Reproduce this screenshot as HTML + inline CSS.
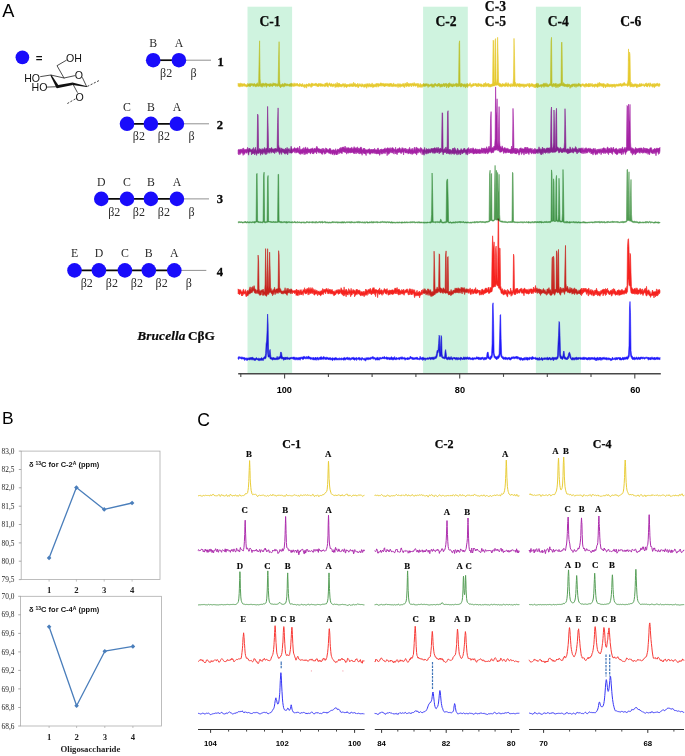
<!DOCTYPE html>
<html lang="en"><head><meta charset="utf-8"><title>NMR figure</title>
<style>html,body{margin:0;padding:0;background:#fff;overflow:hidden;}svg{display:block;}</style>
</head><body>
<svg width="685" height="756" viewBox="0 0 685 756">
<rect x="0" y="0" width="685" height="756" fill="#ffffff"/>
<g id="panelA">
<text x="2.2" y="17.2" font-family='"Liberation Sans","DejaVu Sans",sans-serif' font-size="18.2" font-weight="normal" text-anchor="start" fill="#000"  >A</text>
<circle cx="22.4" cy="57.3" r="6.85" fill="#190cfb"/>
<text x="39.0" y="61.6" font-family='"Liberation Sans","DejaVu Sans",sans-serif' font-size="11.5" font-weight="bold" text-anchor="middle" fill="#111"  >=</text>
<g stroke="#111" stroke-width="0.75" fill="none" stroke-linecap="round">
<path d="M40.6 76.6 L50.8 75 L64 78 L74.6 75.7"/>
<path d="M82.4 77.6 L86.7 86.7"/>
<path d="M64 78 L57 65.7 L66.3 60.3"/>
<path d="M47.2 87.1 L57 86.7"/>
<path d="M72.7 83.7 L77.3 92.3"/>
</g>
<g stroke="#111" stroke-width="0.8" fill="none" stroke-linecap="butt" stroke-dasharray="2.1 1.5">
<path d="M75.4 98.9 L66.2 104.2"/>
<path d="M87.4 86.4 L99.8 80.2"/>
</g>
<path d="M50.3 75.2 L51.3 74.7 L58.9 86.0 L56.6 88.2 Z" fill="#111"/>
<path d="M56.8 85.3 L72.7 82.4 L72.9 85.1 L57.0 88.2 Z" fill="#111"/>
<path d="M72.5 82.4 L87.0 86.3 L86.6 87.1 L72.7 85.1 Z" fill="#111"/>
<text x="66.0" y="62.2" font-family='"Liberation Sans","DejaVu Sans",sans-serif' font-size="10.6" font-weight="normal" text-anchor="start" fill="#111"  >OH</text>
<text x="24.2" y="82.3" font-family='"Liberation Sans","DejaVu Sans",sans-serif' font-size="10.6" font-weight="normal" text-anchor="start" fill="#111"  >HO</text>
<text x="31.6" y="91.4" font-family='"Liberation Sans","DejaVu Sans",sans-serif' font-size="10.6" font-weight="normal" text-anchor="start" fill="#111"  >HO</text>
<text x="78.8" y="78.8" font-family='"Liberation Sans","DejaVu Sans",sans-serif' font-size="10.6" font-weight="normal" text-anchor="middle" fill="#111"  >O</text>
<text x="79.5" y="100.7" font-family='"Liberation Sans","DejaVu Sans",sans-serif' font-size="10.6" font-weight="normal" text-anchor="middle" fill="#111"  >O</text>
<line x1="153.2" y1="60.2" x2="178.9" y2="60.2" stroke="#0a0a0a" stroke-width="1.7"/>
<line x1="178.9" y1="60.2" x2="211.0" y2="60.2" stroke="#444" stroke-width="0.6"/>
<circle cx="153.2" cy="60.2" r="7.3" fill="#190cfb"/>
<text x="153.2" y="46.9" font-family='"Liberation Serif","DejaVu Serif",serif' font-size="11.8" font-weight="normal" text-anchor="middle" fill="#2a2a2a"  >B</text>
<circle cx="178.9" cy="60.2" r="7.3" fill="#190cfb"/>
<text x="178.9" y="46.9" font-family='"Liberation Serif","DejaVu Serif",serif' font-size="11.8" font-weight="normal" text-anchor="middle" fill="#2a2a2a"  >A</text>
<text x="166.1" y="76.8" font-family='"Liberation Serif","DejaVu Serif",serif' font-size="12.0" font-weight="normal" text-anchor="middle" fill="#2c2c2c"  >β2</text>
<text x="193.5" y="76.8" font-family='"Liberation Serif","DejaVu Serif",serif' font-size="12.0" font-weight="normal" text-anchor="middle" fill="#2c2c2c"  >β</text>
<text x="220.6" y="65.8" font-family='"Liberation Serif","DejaVu Serif",serif' font-size="12.6" font-weight="bold" text-anchor="middle" fill="#0a0a0a"  stroke="#0a0a0a" stroke-width="0.3">1</text>
<line x1="127.0" y1="123.8" x2="176.9" y2="123.8" stroke="#0a0a0a" stroke-width="1.7"/>
<line x1="176.9" y1="123.8" x2="209.0" y2="123.8" stroke="#444" stroke-width="0.6"/>
<circle cx="127.0" cy="123.8" r="7.3" fill="#190cfb"/>
<text x="127.0" y="110.5" font-family='"Liberation Serif","DejaVu Serif",serif' font-size="11.8" font-weight="normal" text-anchor="middle" fill="#2a2a2a"  >C</text>
<circle cx="150.9" cy="123.8" r="7.3" fill="#190cfb"/>
<text x="150.9" y="110.5" font-family='"Liberation Serif","DejaVu Serif",serif' font-size="11.8" font-weight="normal" text-anchor="middle" fill="#2a2a2a"  >B</text>
<circle cx="176.9" cy="123.8" r="7.3" fill="#190cfb"/>
<text x="176.9" y="110.5" font-family='"Liberation Serif","DejaVu Serif",serif' font-size="11.8" font-weight="normal" text-anchor="middle" fill="#2a2a2a"  >A</text>
<text x="138.9" y="140.4" font-family='"Liberation Serif","DejaVu Serif",serif' font-size="12.0" font-weight="normal" text-anchor="middle" fill="#2c2c2c"  >β2</text>
<text x="163.9" y="140.4" font-family='"Liberation Serif","DejaVu Serif",serif' font-size="12.0" font-weight="normal" text-anchor="middle" fill="#2c2c2c"  >β2</text>
<text x="191.5" y="140.4" font-family='"Liberation Serif","DejaVu Serif",serif' font-size="12.0" font-weight="normal" text-anchor="middle" fill="#2c2c2c"  >β</text>
<text x="219.8" y="129.4" font-family='"Liberation Serif","DejaVu Serif",serif' font-size="12.6" font-weight="bold" text-anchor="middle" fill="#0a0a0a"  stroke="#0a0a0a" stroke-width="0.3">2</text>
<line x1="101.3" y1="198.9" x2="176.9" y2="198.9" stroke="#0a0a0a" stroke-width="1.7"/>
<line x1="176.9" y1="198.9" x2="209.0" y2="198.9" stroke="#444" stroke-width="0.6"/>
<circle cx="101.3" cy="198.9" r="7.3" fill="#190cfb"/>
<text x="101.3" y="185.6" font-family='"Liberation Serif","DejaVu Serif",serif' font-size="11.8" font-weight="normal" text-anchor="middle" fill="#2a2a2a"  >D</text>
<circle cx="127.0" cy="198.9" r="7.3" fill="#190cfb"/>
<text x="127.0" y="185.6" font-family='"Liberation Serif","DejaVu Serif",serif' font-size="11.8" font-weight="normal" text-anchor="middle" fill="#2a2a2a"  >C</text>
<circle cx="150.9" cy="198.9" r="7.3" fill="#190cfb"/>
<text x="150.9" y="185.6" font-family='"Liberation Serif","DejaVu Serif",serif' font-size="11.8" font-weight="normal" text-anchor="middle" fill="#2a2a2a"  >B</text>
<circle cx="176.9" cy="198.9" r="7.3" fill="#190cfb"/>
<text x="176.9" y="185.6" font-family='"Liberation Serif","DejaVu Serif",serif' font-size="11.8" font-weight="normal" text-anchor="middle" fill="#2a2a2a"  >A</text>
<text x="114.2" y="215.5" font-family='"Liberation Serif","DejaVu Serif",serif' font-size="12.0" font-weight="normal" text-anchor="middle" fill="#2c2c2c"  >β2</text>
<text x="138.9" y="215.5" font-family='"Liberation Serif","DejaVu Serif",serif' font-size="12.0" font-weight="normal" text-anchor="middle" fill="#2c2c2c"  >β2</text>
<text x="163.9" y="215.5" font-family='"Liberation Serif","DejaVu Serif",serif' font-size="12.0" font-weight="normal" text-anchor="middle" fill="#2c2c2c"  >β2</text>
<text x="191.5" y="215.5" font-family='"Liberation Serif","DejaVu Serif",serif' font-size="12.0" font-weight="normal" text-anchor="middle" fill="#2c2c2c"  >β</text>
<text x="219.9" y="203.3" font-family='"Liberation Serif","DejaVu Serif",serif' font-size="12.6" font-weight="bold" text-anchor="middle" fill="#0a0a0a"  stroke="#0a0a0a" stroke-width="0.3">3</text>
<line x1="74.5" y1="270.4" x2="174.3" y2="270.4" stroke="#0a0a0a" stroke-width="1.7"/>
<line x1="174.3" y1="270.4" x2="206.3" y2="270.4" stroke="#444" stroke-width="0.6"/>
<circle cx="74.5" cy="270.4" r="7.3" fill="#190cfb"/>
<text x="74.5" y="257.1" font-family='"Liberation Serif","DejaVu Serif",serif' font-size="11.8" font-weight="normal" text-anchor="middle" fill="#2a2a2a"  >E</text>
<circle cx="98.9" cy="270.4" r="7.3" fill="#190cfb"/>
<text x="98.9" y="257.1" font-family='"Liberation Serif","DejaVu Serif",serif' font-size="11.8" font-weight="normal" text-anchor="middle" fill="#2a2a2a"  >D</text>
<circle cx="124.9" cy="270.4" r="7.3" fill="#190cfb"/>
<text x="124.9" y="257.1" font-family='"Liberation Serif","DejaVu Serif",serif' font-size="11.8" font-weight="normal" text-anchor="middle" fill="#2a2a2a"  >C</text>
<circle cx="148.8" cy="270.4" r="7.3" fill="#190cfb"/>
<text x="148.8" y="257.1" font-family='"Liberation Serif","DejaVu Serif",serif' font-size="11.8" font-weight="normal" text-anchor="middle" fill="#2a2a2a"  >B</text>
<circle cx="174.3" cy="270.4" r="7.3" fill="#190cfb"/>
<text x="174.3" y="257.1" font-family='"Liberation Serif","DejaVu Serif",serif' font-size="11.8" font-weight="normal" text-anchor="middle" fill="#2a2a2a"  >A</text>
<text x="86.7" y="287.0" font-family='"Liberation Serif","DejaVu Serif",serif' font-size="12.0" font-weight="normal" text-anchor="middle" fill="#2c2c2c"  >β2</text>
<text x="111.9" y="287.0" font-family='"Liberation Serif","DejaVu Serif",serif' font-size="12.0" font-weight="normal" text-anchor="middle" fill="#2c2c2c"  >β2</text>
<text x="136.9" y="287.0" font-family='"Liberation Serif","DejaVu Serif",serif' font-size="12.0" font-weight="normal" text-anchor="middle" fill="#2c2c2c"  >β2</text>
<text x="161.6" y="287.0" font-family='"Liberation Serif","DejaVu Serif",serif' font-size="12.0" font-weight="normal" text-anchor="middle" fill="#2c2c2c"  >β2</text>
<text x="188.9" y="287.0" font-family='"Liberation Serif","DejaVu Serif",serif' font-size="12.0" font-weight="normal" text-anchor="middle" fill="#2c2c2c"  >β</text>
<text x="220.0" y="276.0" font-family='"Liberation Serif","DejaVu Serif",serif' font-size="12.6" font-weight="bold" text-anchor="middle" fill="#0a0a0a"  stroke="#0a0a0a" stroke-width="0.3">4</text>
<text x="137.2" y="340.2" font-family='"Liberation Serif","DejaVu Serif",serif' font-size="13.3" font-weight="bold" fill="#0a0a0a" stroke="#0a0a0a" stroke-width="0.2"><tspan font-style="italic" letter-spacing="0.15">Brucella</tspan><tspan dx="2.2">CβG</tspan></text>
<rect x="247.5" y="6.7" width="44.6" height="366.5" fill="#cff3df"/>
<rect x="423.1" y="6.7" width="44.7" height="366.5" fill="#cff3df"/>
<rect x="535.9" y="6.7" width="45.0" height="366.5" fill="#cff3df"/>
<text x="270.0" y="26.3" font-family='"Liberation Serif","DejaVu Serif",serif' font-size="13.6" font-weight="bold" text-anchor="middle" fill="#0a0a0a"  stroke="#0a0a0a" stroke-width="0.25">C-1</text>
<text x="446.1" y="26.3" font-family='"Liberation Serif","DejaVu Serif",serif' font-size="13.6" font-weight="bold" text-anchor="middle" fill="#0a0a0a"  stroke="#0a0a0a" stroke-width="0.25">C-2</text>
<text x="495.4" y="10.6" font-family='"Liberation Serif","DejaVu Serif",serif' font-size="13.6" font-weight="bold" text-anchor="middle" fill="#0a0a0a"  stroke="#0a0a0a" stroke-width="0.25">C-3</text>
<text x="495.4" y="26.3" font-family='"Liberation Serif","DejaVu Serif",serif' font-size="13.6" font-weight="bold" text-anchor="middle" fill="#0a0a0a"  stroke="#0a0a0a" stroke-width="0.25">C-5</text>
<text x="558.3" y="26.3" font-family='"Liberation Serif","DejaVu Serif",serif' font-size="13.6" font-weight="bold" text-anchor="middle" fill="#0a0a0a"  stroke="#0a0a0a" stroke-width="0.25">C-4</text>
<text x="630.8" y="26.3" font-family='"Liberation Serif","DejaVu Serif",serif' font-size="13.6" font-weight="bold" text-anchor="middle" fill="#0a0a0a"  stroke="#0a0a0a" stroke-width="0.25">C-6</text>
<polygon points="238.1,83.4 238.6,84.1 239.1,83.2 239.6,84.1 240.1,83.6 240.6,83.2 241.1,83.5 241.6,83.5 242.1,83.7 242.6,83.8 243.1,84.1 243.6,83.9 244.1,83.3 244.6,83.9 245.1,83.9 245.6,84.6 246.1,84.4 246.6,84.8 247.1,85.2 247.6,83.6 248.1,83.5 248.6,84.3 249.1,84.0 249.6,84.0 250.1,83.2 250.6,84.1 251.1,84.3 251.6,83.4 252.1,84.1 252.6,83.7 253.1,83.7 253.6,83.9 254.1,83.6 254.6,83.5 255.1,84.0 255.6,84.4 256.1,84.0 256.6,83.7 257.1,84.0 257.6,82.7 258.1,84.2 258.6,84.3 259.1,59.1 259.6,40.8 260.1,78.8 260.6,83.8 261.1,83.4 261.6,83.8 262.1,84.1 262.6,83.2 263.1,83.3 263.6,83.3 264.1,84.1 264.6,83.7 265.1,84.2 265.6,82.8 266.1,83.8 266.6,83.3 267.1,84.0 267.6,83.9 268.1,83.9 268.6,84.0 269.1,83.7 269.6,83.9 270.1,83.7 270.6,83.5 271.1,84.4 271.6,83.7 272.1,84.1 272.6,84.3 273.1,82.7 273.6,83.8 274.1,83.3 274.6,83.5 275.1,83.3 275.6,83.7 276.1,83.4 276.6,84.3 277.1,83.8 277.6,84.1 278.1,84.4 278.6,59.4 279.1,41.7 279.6,79.5 280.1,84.8 280.6,84.5 281.1,84.4 281.6,84.4 282.1,84.2 282.6,83.5 283.1,84.1 283.6,84.2 284.1,84.2 284.6,83.1 285.1,83.4 285.6,83.5 286.1,84.3 286.6,83.8 287.1,84.0 287.6,84.1 288.1,84.3 288.6,84.4 289.1,84.1 289.6,84.1 290.1,83.7 290.6,83.5 291.1,83.4 291.6,83.1 292.1,84.1 292.6,83.8 293.1,83.6 293.6,84.4 294.1,82.8 294.6,83.7 295.1,84.4 295.6,83.4 296.1,83.5 296.6,83.8 297.1,83.3 297.6,83.6 298.1,84.0 298.6,84.7 299.1,84.4 299.6,83.3 300.1,83.8 300.6,83.9 301.1,84.7 301.6,84.1 302.1,83.9 302.6,83.4 303.1,85.5 303.6,84.8 304.1,84.8 304.6,84.4 305.1,84.6 305.6,85.5 306.1,84.0 306.6,84.1 307.1,84.3 307.6,84.6 308.1,84.5 308.6,83.4 309.1,84.0 309.6,83.8 310.1,83.8 310.6,84.5 311.1,83.9 311.6,82.9 312.1,83.8 312.6,83.2 313.1,84.6 313.6,83.7 314.1,84.0 314.6,84.1 315.1,83.3 315.6,83.4 316.1,83.3 316.6,83.5 317.1,84.3 317.6,84.1 318.1,83.9 318.6,83.6 319.1,83.1 319.6,84.2 320.1,83.6 320.6,83.8 321.1,83.6 321.6,84.1 322.1,83.7 322.6,84.3 323.1,84.0 323.6,84.4 324.1,85.0 324.6,84.2 325.1,83.0 325.6,83.4 326.1,82.9 326.6,83.3 327.1,82.6 327.6,83.6 328.1,83.6 328.6,84.4 329.1,83.2 329.6,82.8 330.1,83.6 330.6,84.3 331.1,83.6 331.6,83.4 332.1,83.9 332.6,84.5 333.1,83.8 333.6,84.1 334.1,84.5 334.6,84.1 335.1,84.4 335.6,83.4 336.1,83.9 336.6,84.8 337.1,82.3 337.6,84.8 338.1,83.0 338.6,84.5 339.1,83.2 339.6,83.5 340.1,83.9 340.6,84.6 341.1,84.1 341.6,84.7 342.1,84.5 342.6,83.8 343.1,83.4 343.6,84.1 344.1,84.3 344.6,84.3 345.1,83.3 345.6,84.7 346.1,84.2 346.6,84.7 347.1,84.2 347.6,85.1 348.1,84.2 348.6,84.9 349.1,84.4 349.6,83.7 350.1,84.7 350.6,83.7 351.1,83.8 351.6,83.8 352.1,84.7 352.6,83.6 353.1,84.7 353.6,82.2 354.1,84.2 354.6,83.6 355.1,83.2 355.6,84.2 356.1,84.6 356.6,84.1 357.1,85.2 357.6,83.2 358.1,84.5 358.6,85.0 359.1,83.5 359.6,84.3 360.1,84.9 360.6,84.3 361.1,83.6 361.6,85.6 362.1,84.5 362.6,83.8 363.1,84.2 363.6,85.9 364.1,84.1 364.6,84.4 365.1,84.2 365.6,84.5 366.1,83.6 366.6,84.9 367.1,83.7 367.6,84.0 368.1,83.5 368.6,84.4 369.1,84.5 369.6,83.4 370.1,84.5 370.6,84.1 371.1,84.6 371.6,84.3 372.1,82.9 372.6,84.2 373.1,84.7 373.6,84.2 374.1,84.3 374.6,85.2 375.1,83.8 375.6,85.2 376.1,83.3 376.6,83.7 377.1,83.6 377.6,83.6 378.1,83.7 378.6,83.6 379.1,84.2 379.6,84.1 380.1,83.3 380.6,82.8 381.1,83.2 381.6,83.1 382.1,83.8 382.6,83.5 383.1,83.1 383.6,83.7 384.1,83.7 384.6,83.8 385.1,84.1 385.6,83.7 386.1,83.1 386.6,84.5 387.1,83.8 387.6,83.7 388.1,83.5 388.6,83.9 389.1,83.7 389.6,83.7 390.1,83.8 390.6,83.0 391.1,84.0 391.6,83.5 392.1,83.7 392.6,84.5 393.1,84.5 393.6,82.9 394.1,83.9 394.6,84.8 395.1,84.2 395.6,84.1 396.1,84.7 396.6,84.3 397.1,84.4 397.6,84.0 398.1,83.4 398.6,84.6 399.1,84.6 399.6,83.7 400.1,83.8 400.6,83.9 401.1,85.0 401.6,84.3 402.1,84.7 402.6,83.6 403.1,84.3 403.6,83.4 404.1,84.6 404.6,84.2 405.1,82.9 405.6,83.7 406.1,84.0 406.6,83.3 407.1,82.0 407.6,83.6 408.1,84.1 408.6,83.2 409.1,83.9 409.6,83.7 410.1,83.6 410.6,83.6 411.1,83.6 411.6,83.7 412.1,83.3 412.6,83.2 413.1,83.8 413.6,83.8 414.1,82.4 414.6,83.6 415.1,83.8 415.6,83.7 416.1,84.1 416.6,83.9 417.1,83.1 417.6,84.6 418.1,83.4 418.6,83.8 419.1,84.9 419.6,85.2 420.1,83.3 420.6,83.8 421.1,85.0 421.6,84.4 422.1,84.3 422.6,84.5 423.1,83.9 423.6,83.2 424.1,84.0 424.6,84.0 425.1,84.1 425.6,83.7 426.1,84.0 426.6,83.8 427.1,83.4 427.6,84.4 428.1,83.9 428.6,84.3 429.1,84.4 429.6,84.9 430.1,84.5 430.6,84.3 431.1,83.7 431.6,83.9 432.1,84.4 432.6,84.1 433.1,84.4 433.6,84.4 434.1,84.2 434.6,83.6 435.1,83.8 435.6,83.4 436.1,84.4 436.6,84.8 437.1,83.9 437.6,84.0 438.1,84.7 438.6,83.0 439.1,83.6 439.6,83.7 440.1,84.2 440.6,84.3 441.1,84.0 441.6,84.2 442.1,83.9 442.6,84.9 443.1,83.8 443.6,83.4 444.1,83.4 444.6,84.0 445.1,84.2 445.6,83.2 446.1,83.8 446.6,83.5 447.1,83.9 447.6,84.3 448.1,84.2 448.6,83.2 449.1,83.8 449.6,82.7 450.1,83.9 450.6,83.8 451.1,84.2 451.6,83.8 452.1,84.5 452.6,84.4 453.1,83.5 453.6,84.2 454.1,84.3 454.6,84.2 455.1,84.2 455.6,83.5 456.1,83.6 456.6,83.2 457.1,83.7 457.6,83.9 458.1,83.8 458.6,83.1 459.1,43.7 459.6,40.8 460.1,83.7 460.6,84.0 461.1,83.1 461.6,83.5 462.1,84.3 462.6,83.7 463.1,84.2 463.6,84.4 464.1,83.7 464.6,84.1 465.1,84.7 465.6,84.5 466.1,83.6 466.6,84.3 467.1,84.6 467.6,83.3 468.1,84.2 468.6,84.5 469.1,84.0 469.6,83.5 470.1,82.7 470.6,84.2 471.1,85.1 471.6,84.6 472.1,84.7 472.6,83.8 473.1,83.9 473.6,83.2 474.1,84.9 474.6,83.9 475.1,83.0 475.6,83.7 476.1,83.6 476.6,83.8 477.1,84.5 477.6,83.7 478.1,83.2 478.6,83.4 479.1,83.6 479.6,84.2 480.1,83.6 480.6,84.6 481.1,84.0 481.6,84.1 482.1,84.5 482.6,85.0 483.1,84.4 483.6,84.0 484.1,83.0 484.6,83.9 485.1,84.2 485.6,82.4 486.1,84.1 486.6,83.8 487.1,84.1 487.6,83.5 488.1,84.5 488.6,83.2 489.1,84.1 489.6,84.3 490.1,84.3 490.6,84.5 491.1,84.0 491.6,84.3 492.1,83.6 492.6,83.4 493.1,40.2 493.6,40.8 494.1,82.5 494.6,81.8 495.1,40.0 495.6,38.6 496.1,82.5 496.6,82.6 497.1,78.7 497.6,37.3 498.1,56.0 498.6,83.0 499.1,83.3 499.6,82.9 500.1,83.9 500.6,83.8 501.1,83.8 501.6,84.4 502.1,84.5 502.6,83.3 503.1,84.0 503.6,84.0 504.1,84.2 504.6,83.9 505.1,83.5 505.6,83.2 506.1,82.5 506.6,83.7 507.1,84.2 507.6,84.1 508.1,82.7 508.6,83.4 509.1,83.9 509.6,84.8 510.1,84.5 510.6,84.3 511.1,83.4 511.6,84.4 512.0,84.4 512.5,84.0 513.0,83.9 513.5,78.0 514.0,38.4 514.5,55.5 515.0,83.6 515.5,82.4 516.0,84.6 516.5,84.2 517.0,83.5 517.5,83.8 518.0,84.1 518.5,83.8 519.0,83.9 519.5,83.6 520.0,83.7 520.5,84.0 521.0,84.0 521.5,84.1 522.0,84.3 522.5,84.1 523.0,84.2 523.5,84.1 524.0,84.5 524.5,84.3 525.0,84.5 525.5,83.9 526.0,84.4 526.5,84.2 527.0,84.0 527.5,84.5 528.0,83.2 528.5,84.5 529.0,84.4 529.5,83.5 530.0,83.4 530.5,84.7 531.0,84.6 531.5,83.4 532.0,83.7 532.5,83.7 533.0,84.2 533.5,84.2 534.0,84.7 534.5,84.7 535.0,84.1 535.5,84.2 536.0,83.9 536.5,84.1 537.0,82.9 537.5,84.8 538.0,83.4 538.5,84.0 539.0,84.4 539.5,85.9 540.0,84.9 540.5,84.9 541.0,84.2 541.5,84.7 542.0,84.5 542.5,84.4 543.0,83.7 543.5,83.4 544.0,83.4 544.5,83.3 545.0,84.3 545.5,84.0 546.0,82.8 546.5,84.3 547.0,84.2 547.5,83.8 548.0,85.2 548.5,85.0 549.0,84.4 549.5,83.8 550.0,83.9 550.5,83.1 551.0,41.5 551.5,37.3 552.0,83.7 552.5,83.9 553.0,84.6 553.5,83.1 554.0,83.7 554.5,83.9 555.0,84.3 555.5,83.4 556.0,83.1 556.5,84.1 557.0,85.5 557.5,83.8 558.0,84.4 558.5,83.8 559.0,84.6 559.5,83.7 560.0,83.6 560.5,83.4 561.0,84.0 561.5,42.6 562.0,42.1 562.5,83.6 563.0,84.0 563.5,82.6 564.0,83.8 564.5,84.0 565.0,83.8 565.5,84.5 566.0,84.1 566.5,84.8 567.0,84.1 567.5,84.1 568.0,84.5 568.5,84.3 569.0,83.9 569.5,84.3 570.0,85.1 570.5,85.2 571.0,85.1 571.5,84.7 572.0,83.9 572.5,84.2 573.0,84.0 573.5,84.1 574.0,84.0 574.5,83.8 575.0,84.5 575.5,84.2 576.0,83.6 576.5,84.4 577.0,84.3 577.5,84.2 578.0,84.3 578.5,83.3 579.0,83.5 579.5,84.0 580.0,83.8 580.5,84.4 581.0,84.2 581.5,84.2 582.0,84.2 582.5,83.8 583.0,83.7 583.5,84.1 584.0,84.5 584.5,84.6 585.0,84.0 585.5,83.7 586.0,83.9 586.5,83.6 587.0,83.8 587.5,84.5 588.0,83.7 588.5,83.5 589.0,84.0 589.5,84.3 590.0,83.1 590.5,84.3 591.0,84.2 591.5,84.6 592.0,83.2 592.5,84.2 593.0,84.7 593.5,84.6 594.0,84.3 594.5,84.3 595.0,84.0 595.5,84.0 596.0,84.1 596.5,84.3 597.0,84.2 597.5,83.7 598.0,82.7 598.5,83.4 599.0,83.7 599.5,82.3 600.0,83.3 600.5,83.6 601.0,83.3 601.5,83.8 602.0,83.8 602.5,83.9 603.0,83.3 603.5,83.6 604.0,84.3 604.5,83.9 605.0,84.3 605.5,84.4 606.0,84.9 606.5,85.0 607.0,83.2 607.5,83.6 608.0,84.5 608.5,83.8 609.0,84.0 609.5,84.4 610.0,85.2 610.5,84.2 611.0,84.6 611.5,84.3 612.0,85.1 612.5,84.0 613.0,84.8 613.5,84.3 614.0,84.1 614.5,84.0 615.0,85.1 615.5,84.5 616.0,84.8 616.5,84.1 617.0,83.9 617.5,84.4 618.0,84.2 618.5,83.9 619.0,84.2 619.5,83.7 620.0,84.0 620.5,83.5 621.0,83.2 621.5,84.7 622.0,83.7 622.5,84.0 623.0,83.8 623.5,82.9 624.0,82.5 624.5,82.6 625.0,83.6 625.5,83.9 626.0,84.3 626.5,84.3 627.0,83.4 627.5,83.0 628.0,79.9 628.5,48.9 629.0,61.1 629.5,52.0 630.0,54.3 630.5,84.3 631.0,82.0 631.5,84.3 632.0,84.0 632.5,83.7 633.0,84.6 633.5,83.9 634.0,84.5 634.5,84.1 635.0,83.7 635.5,83.9 636.0,84.1 636.5,83.9 637.0,84.8 637.5,84.2 638.0,84.4 638.5,85.3 639.0,84.1 639.5,84.0 640.0,83.3 640.5,84.7 641.0,84.0 641.5,83.4 642.0,84.5 642.5,84.5 643.0,83.7 643.5,84.2 644.0,84.4 644.5,85.1 645.0,83.8 645.5,83.2 646.0,84.9 646.5,82.8 647.0,83.7 647.5,83.9 648.0,84.0 648.5,83.5 649.0,82.8 649.5,84.2 650.0,84.5 650.5,82.8 651.0,84.3 651.5,84.7 652.0,83.8 652.5,83.9 653.0,84.1 653.5,83.6 654.0,84.9 654.5,83.5 655.0,83.7 655.5,83.9 656.0,84.2 656.5,83.5 657.0,84.0 657.5,82.9 658.0,84.5 658.5,83.7 659.0,84.3 659.5,83.4 660.0,84.2 660.0,85.2 659.5,85.9 659.0,86.7 658.5,86.0 658.0,85.7 657.5,85.8 657.0,86.0 656.5,85.7 656.0,86.5 655.5,86.1 655.0,86.4 654.5,87.6 654.0,87.6 653.5,86.4 653.0,85.8 652.5,87.2 652.0,86.9 651.5,85.5 651.0,86.2 650.5,85.8 650.0,85.6 649.5,87.2 649.0,85.5 648.5,85.4 648.0,85.8 647.5,86.9 647.0,86.9 646.5,86.5 646.0,85.9 645.5,85.7 645.0,86.3 644.5,86.6 644.0,86.5 643.5,85.6 643.0,85.8 642.5,85.5 642.0,86.3 641.5,86.0 641.0,86.0 640.5,86.4 640.0,86.4 639.5,87.0 639.0,85.9 638.5,86.9 638.0,86.6 637.5,86.4 637.0,87.9 636.5,87.2 636.0,86.7 635.5,85.8 635.0,86.2 634.5,86.2 634.0,87.1 633.5,85.9 633.0,87.2 632.5,86.7 632.0,86.0 631.5,86.9 631.0,86.3 630.5,87.1 630.0,86.7 629.5,85.8 629.0,84.8 628.5,85.7 628.0,85.9 627.5,86.6 627.0,85.7 626.5,85.1 626.0,85.8 625.5,85.2 625.0,85.6 624.5,85.8 624.0,85.3 623.5,85.7 623.0,85.6 622.5,86.2 622.0,86.1 621.5,86.5 621.0,86.1 620.5,85.9 620.0,85.4 619.5,86.1 619.0,85.9 618.5,86.3 618.0,85.8 617.5,86.3 617.0,86.1 616.5,86.2 616.0,85.6 615.5,87.0 615.0,87.6 614.5,86.8 614.0,86.5 613.5,86.5 613.0,86.5 612.5,86.8 612.0,87.5 611.5,86.3 611.0,86.3 610.5,87.0 610.0,86.3 609.5,86.8 609.0,87.2 608.5,86.0 608.0,86.8 607.5,86.8 607.0,86.2 606.5,86.7 606.0,86.5 605.5,87.9 605.0,86.7 604.5,85.9 604.0,86.4 603.5,87.9 603.0,86.3 602.5,86.3 602.0,86.6 601.5,85.8 601.0,86.5 600.5,85.5 600.0,86.1 599.5,86.4 599.0,85.6 598.5,86.6 598.0,87.3 597.5,86.9 597.0,87.3 596.5,86.1 596.0,86.4 595.5,86.3 595.0,86.3 594.5,87.5 594.0,86.5 593.5,86.3 593.0,86.5 592.5,87.0 592.0,86.6 591.5,86.0 591.0,85.8 590.5,85.8 590.0,87.0 589.5,85.9 589.0,87.0 588.5,86.7 588.0,87.0 587.5,85.9 587.0,86.5 586.5,86.7 586.0,85.9 585.5,86.0 585.0,87.5 584.5,86.1 584.0,86.7 583.5,86.0 583.0,85.8 582.5,85.8 582.0,85.7 581.5,86.0 581.0,87.2 580.5,86.5 580.0,86.4 579.5,86.1 579.0,85.6 578.5,86.2 578.0,86.5 577.5,86.4 577.0,85.8 576.5,86.6 576.0,87.5 575.5,86.0 575.0,85.8 574.5,87.1 574.0,85.6 573.5,85.7 573.0,86.6 572.5,86.7 572.0,86.7 571.5,86.8 571.0,87.4 570.5,86.6 570.0,88.4 569.5,85.7 569.0,86.3 568.5,86.9 568.0,86.2 567.5,86.9 567.0,87.3 566.5,86.7 566.0,86.0 565.5,86.6 565.0,86.1 564.5,86.5 564.0,86.6 563.5,86.1 563.0,85.9 562.5,85.8 562.0,85.7 561.5,85.5 561.0,85.7 560.5,85.9 560.0,86.2 559.5,87.0 559.0,86.1 558.5,86.1 558.0,87.7 557.5,86.6 557.0,86.5 556.5,86.4 556.0,87.9 555.5,86.6 555.0,85.7 554.5,86.7 554.0,85.0 553.5,86.6 553.0,86.5 552.5,86.8 552.0,86.7 551.5,86.2 551.0,85.5 550.5,85.2 550.0,86.0 549.5,85.7 549.0,86.2 548.5,87.1 548.0,86.5 547.5,86.7 547.0,86.8 546.5,86.6 546.0,86.1 545.5,86.3 545.0,86.4 544.5,86.3 544.0,87.5 543.5,86.4 543.0,86.1 542.5,86.1 542.0,87.1 541.5,87.6 541.0,85.7 540.5,86.4 540.0,86.8 539.5,86.4 539.0,87.2 538.5,86.2 538.0,87.6 537.5,87.5 537.0,87.4 536.5,86.8 536.0,87.5 535.5,87.7 535.0,86.4 534.5,87.7 534.0,86.3 533.5,87.3 533.0,85.5 532.5,86.8 532.0,86.1 531.5,86.2 531.0,86.3 530.5,86.3 530.0,87.2 529.5,87.5 529.0,86.3 528.5,86.6 528.0,85.8 527.5,85.4 527.0,86.1 526.5,86.9 526.0,86.3 525.5,86.5 525.0,86.6 524.5,86.6 524.0,87.7 523.5,86.2 523.0,86.2 522.5,86.4 522.0,86.2 521.5,86.4 521.0,86.1 520.5,86.3 520.0,87.4 519.5,86.2 519.0,86.4 518.5,86.9 518.0,85.8 517.5,85.7 517.0,85.8 516.5,87.2 516.0,86.6 515.5,85.8 515.0,86.4 514.5,86.4 514.0,86.1 513.5,86.2 513.0,86.2 512.5,86.1 512.0,86.8 511.6,85.5 511.1,86.0 510.6,87.0 510.1,86.8 509.6,85.7 509.1,86.1 508.6,85.6 508.1,87.1 507.6,86.7 507.1,85.7 506.6,86.3 506.1,85.7 505.6,86.4 505.1,86.4 504.6,86.6 504.1,86.0 503.6,86.1 503.1,85.9 502.6,86.5 502.1,86.5 501.6,86.8 501.1,86.8 500.6,86.6 500.1,86.6 499.6,86.4 499.1,86.2 498.6,85.8 498.1,85.0 497.6,85.1 497.1,85.1 496.6,85.3 496.1,85.3 495.6,85.3 495.1,85.0 494.6,85.9 494.1,85.9 493.6,85.9 493.1,85.9 492.6,86.0 492.1,86.6 491.6,86.6 491.1,86.0 490.6,87.1 490.1,86.9 489.6,86.2 489.1,87.2 488.6,86.0 488.1,86.8 487.6,85.6 487.1,86.0 486.6,86.5 486.1,86.3 485.6,85.5 485.1,87.1 484.6,86.5 484.1,85.8 483.6,86.9 483.1,86.9 482.6,86.1 482.1,86.2 481.6,86.8 481.1,86.8 480.6,86.4 480.1,86.1 479.6,85.9 479.1,86.1 478.6,85.6 478.1,87.0 477.6,85.8 477.1,86.5 476.6,86.4 476.1,86.2 475.6,85.8 475.1,85.3 474.6,85.5 474.1,86.0 473.6,85.9 473.1,85.9 472.6,86.5 472.1,86.3 471.6,86.3 471.1,87.5 470.6,86.3 470.1,85.6 469.6,85.9 469.1,86.1 468.6,86.1 468.1,86.0 467.6,87.6 467.1,86.2 466.6,86.9 466.1,85.4 465.6,88.1 465.1,85.5 464.6,86.8 464.1,86.6 463.6,87.2 463.1,85.9 462.6,85.4 462.1,86.2 461.6,87.1 461.1,86.4 460.6,86.8 460.1,86.7 459.6,86.0 459.1,85.9 458.6,86.0 458.1,86.8 457.6,85.5 457.1,86.9 456.6,86.9 456.1,85.9 455.6,85.5 455.1,86.3 454.6,86.3 454.1,85.7 453.6,86.2 453.1,86.4 452.6,87.0 452.1,87.0 451.6,86.3 451.1,86.6 450.6,85.4 450.1,86.5 449.6,86.4 449.1,86.4 448.6,87.8 448.1,86.7 447.6,86.2 447.1,86.3 446.6,87.9 446.1,85.6 445.6,85.8 445.1,86.4 444.6,86.5 444.1,86.9 443.6,86.0 443.1,85.4 442.6,86.7 442.1,86.8 441.6,86.7 441.1,87.0 440.6,86.8 440.1,87.4 439.6,85.8 439.1,86.2 438.6,85.9 438.1,86.0 437.6,86.5 437.1,86.5 436.6,86.2 436.1,86.1 435.6,85.7 435.1,85.7 434.6,85.7 434.1,87.4 433.6,86.2 433.1,87.3 432.6,86.4 432.1,87.5 431.6,86.3 431.1,86.1 430.6,85.9 430.1,85.9 429.6,86.6 429.1,85.9 428.6,85.8 428.1,87.5 427.6,85.5 427.1,86.3 426.6,85.4 426.1,85.8 425.6,86.3 425.1,86.2 424.6,86.4 424.1,86.3 423.6,86.3 423.1,86.3 422.6,86.4 422.1,87.6 421.6,87.3 421.1,86.6 420.6,86.9 420.1,87.4 419.6,86.9 419.1,86.7 418.6,86.1 418.1,87.7 417.6,87.2 417.1,86.2 416.6,85.3 416.1,85.9 415.6,86.3 415.1,85.9 414.6,85.3 414.1,86.2 413.6,86.2 413.1,86.0 412.6,85.6 412.1,84.8 411.6,87.0 411.1,85.6 410.6,85.9 410.1,85.4 409.6,86.6 409.1,85.4 408.6,86.7 408.1,86.3 407.6,86.0 407.1,86.0 406.6,86.7 406.1,86.6 405.6,86.0 405.1,85.6 404.6,87.8 404.1,86.6 403.6,87.0 403.1,85.9 402.6,86.0 402.1,86.6 401.6,86.4 401.1,86.3 400.6,86.3 400.1,87.4 399.6,86.5 399.1,86.5 398.6,85.8 398.1,87.7 397.6,86.8 397.1,85.4 396.6,85.9 396.1,87.1 395.6,86.6 395.1,86.1 394.6,86.5 394.1,85.9 393.6,86.2 393.1,86.8 392.6,86.8 392.1,86.1 391.6,86.7 391.1,85.4 390.6,85.7 390.1,86.7 389.6,86.2 389.1,86.5 388.6,85.8 388.1,86.7 387.6,85.9 387.1,85.4 386.6,86.0 386.1,86.1 385.6,85.9 385.1,86.4 384.6,87.0 384.1,86.0 383.6,85.9 383.1,86.3 382.6,85.3 382.1,86.2 381.6,85.1 381.1,86.3 380.6,85.7 380.1,86.1 379.6,86.1 379.1,86.0 378.6,86.2 378.1,87.2 377.6,85.9 377.1,85.2 376.6,87.2 376.1,85.4 375.6,87.1 375.1,86.5 374.6,86.7 374.1,86.8 373.6,87.2 373.1,87.2 372.6,87.6 372.1,86.3 371.6,86.7 371.1,87.0 370.6,86.3 370.1,87.2 369.6,85.9 369.1,86.5 368.6,86.6 368.1,87.3 367.6,86.6 367.1,85.8 366.6,88.3 366.1,86.6 365.6,86.7 365.1,86.8 364.6,87.3 364.1,87.0 363.6,87.2 363.1,86.3 362.6,86.3 362.1,86.7 361.6,86.9 361.1,86.8 360.6,86.3 360.1,86.0 359.6,86.1 359.1,86.6 358.6,86.7 358.1,88.0 357.6,85.9 357.1,86.7 356.6,86.5 356.1,86.3 355.6,87.0 355.1,86.7 354.6,85.9 354.1,86.0 353.6,86.6 353.1,86.0 352.6,86.5 352.1,87.0 351.6,86.2 351.1,86.1 350.6,86.3 350.1,86.5 349.6,86.6 349.1,86.9 348.6,86.1 348.1,86.3 347.6,86.4 347.1,87.0 346.6,87.7 346.1,87.0 345.6,86.2 345.1,87.0 344.6,86.7 344.1,87.5 343.6,85.8 343.1,85.7 342.6,86.2 342.1,86.7 341.6,87.1 341.1,86.0 340.6,86.7 340.1,86.7 339.6,86.7 339.1,86.1 338.6,87.3 338.1,85.8 337.6,87.2 337.1,86.4 336.6,86.8 336.1,87.1 335.6,86.4 335.1,87.7 334.6,85.5 334.1,86.1 333.6,86.3 333.1,86.6 332.6,86.9 332.1,86.1 331.6,86.4 331.1,85.8 330.6,86.5 330.1,86.2 329.6,85.5 329.1,85.1 328.6,85.4 328.1,87.3 327.6,86.4 327.1,86.8 326.6,85.2 326.1,86.1 325.6,86.5 325.1,86.2 324.6,86.6 324.1,86.4 323.6,85.8 323.1,86.5 322.6,86.2 322.1,86.3 321.6,86.1 321.1,86.4 320.6,86.4 320.1,86.1 319.6,85.4 319.1,86.4 318.6,86.5 318.1,86.4 317.6,86.4 317.1,86.5 316.6,85.6 316.1,86.3 315.6,85.3 315.1,85.8 314.6,85.2 314.1,86.0 313.6,85.4 313.1,85.7 312.6,85.7 312.1,86.7 311.6,86.1 311.1,87.6 310.6,85.6 310.1,86.7 309.6,85.7 309.1,85.9 308.6,86.3 308.1,86.4 307.6,86.2 307.1,85.7 306.6,88.2 306.1,85.6 305.6,87.1 305.1,87.6 304.6,87.8 304.1,86.6 303.6,86.8 303.1,86.8 302.6,86.4 302.1,85.7 301.6,86.9 301.1,86.3 300.6,86.0 300.1,85.8 299.6,86.6 299.1,86.2 298.6,86.3 298.1,85.9 297.6,85.4 297.1,86.3 296.6,85.7 296.1,85.6 295.6,85.9 295.1,86.1 294.6,86.3 294.1,86.0 293.6,86.5 293.1,86.0 292.6,85.7 292.1,86.7 291.6,86.5 291.1,85.6 290.6,86.5 290.1,86.0 289.6,86.1 289.1,86.6 288.6,85.3 288.1,86.0 287.6,85.3 287.1,86.2 286.6,85.6 286.1,86.2 285.6,85.6 285.1,85.7 284.6,86.8 284.1,86.4 283.6,86.8 283.1,86.8 282.6,86.5 282.1,86.1 281.6,86.9 281.1,86.4 280.6,87.9 280.1,86.8 279.6,86.6 279.1,86.3 278.6,85.8 278.1,86.1 277.6,86.3 277.1,86.2 276.6,86.2 276.1,85.6 275.6,86.5 275.1,85.8 274.6,85.4 274.1,85.5 273.6,85.5 273.1,86.0 272.6,86.5 272.1,86.4 271.6,86.1 271.1,85.9 270.6,86.1 270.1,86.6 269.6,86.5 269.1,86.6 268.6,86.1 268.1,85.4 267.6,86.0 267.1,85.6 266.6,87.3 266.1,87.1 265.6,85.4 265.1,85.3 264.6,85.8 264.1,86.8 263.6,85.7 263.1,85.8 262.6,85.9 262.1,87.4 261.6,86.1 261.1,86.8 260.6,85.5 260.1,86.5 259.6,85.9 259.1,86.1 258.6,86.3 258.1,86.6 257.6,85.9 257.1,86.4 256.6,86.6 256.1,86.3 255.6,86.8 255.1,86.8 254.6,85.2 254.1,86.2 253.6,86.0 253.1,86.5 252.6,85.2 252.1,85.6 251.6,85.4 251.1,85.8 250.6,86.4 250.1,86.7 249.6,86.5 249.1,86.2 248.6,86.0 248.1,86.4 247.6,86.4 247.1,86.7 246.6,86.9 246.1,86.8 245.6,86.0 245.1,86.4 244.6,85.8 244.1,86.5 243.6,85.8 243.1,86.0 242.6,86.6 242.1,86.0 241.6,86.6 241.1,85.6 240.6,86.6 240.1,86.8 239.6,87.0 239.1,86.2 238.6,86.2 238.1,86.4" fill="#e6c92e" stroke="#e6c92e" stroke-width="0.6" stroke-linejoin="round" style="mix-blend-mode:multiply"/>
<polygon points="238.1,149.9 238.6,149.6 239.1,149.2 239.6,150.0 240.1,149.5 240.6,149.6 241.1,148.9 241.6,149.6 242.1,150.0 242.6,148.5 243.1,149.4 243.6,147.9 244.1,150.0 244.6,149.8 245.1,149.0 245.6,150.2 246.1,149.3 246.6,149.2 247.1,149.7 247.6,147.3 248.1,149.6 248.6,149.1 249.1,148.0 249.6,148.8 250.1,148.5 250.6,149.4 251.1,150.0 251.6,150.1 252.1,148.8 252.6,148.9 253.1,151.0 253.6,147.5 254.1,149.3 254.6,149.8 255.1,148.9 255.6,147.3 256.1,150.6 256.6,150.4 257.1,149.2 257.6,114.1 258.1,115.4 258.6,150.0 259.1,149.6 259.6,148.4 260.1,148.9 260.6,149.0 261.1,149.9 261.6,150.0 262.1,148.4 262.6,149.5 263.1,149.4 263.6,149.0 264.1,149.1 264.6,147.4 265.1,149.0 265.6,149.4 266.1,148.3 266.6,149.1 267.1,147.2 267.6,106.4 268.1,125.7 268.6,149.5 269.1,149.4 269.6,148.0 270.1,148.7 270.6,149.0 271.1,148.1 271.6,147.4 272.1,149.0 272.6,149.0 273.1,149.2 273.6,148.9 274.1,148.8 274.6,148.7 275.1,149.0 275.6,148.1 276.1,148.8 276.6,148.8 277.1,149.1 277.6,122.4 278.1,107.9 278.6,144.5 279.1,147.6 279.6,148.0 280.1,147.6 280.6,149.4 281.1,149.5 281.6,147.9 282.1,149.1 282.6,149.1 283.1,148.8 283.6,149.8 284.1,148.9 284.6,150.1 285.1,150.0 285.6,148.1 286.1,149.0 286.6,149.5 287.1,147.3 287.6,150.0 288.1,148.7 288.6,149.2 289.1,148.4 289.6,149.7 290.1,150.6 290.6,149.1 291.1,146.2 291.6,148.0 292.1,148.8 292.6,150.3 293.1,148.7 293.6,149.0 294.1,148.3 294.6,147.5 295.1,147.9 295.6,149.1 296.1,148.5 296.6,148.4 297.1,148.2 297.6,147.6 298.1,147.8 298.6,149.0 299.1,150.4 299.6,146.0 300.1,148.6 300.6,150.0 301.1,149.8 301.6,149.2 302.1,149.3 302.6,148.5 303.1,150.0 303.6,147.8 304.1,147.7 304.6,149.9 305.1,148.6 305.6,146.9 306.1,148.5 306.6,149.1 307.1,149.0 307.6,147.5 308.1,149.3 308.6,149.1 309.1,148.9 309.6,149.6 310.1,148.7 310.6,149.1 311.1,149.0 311.6,148.6 312.1,148.9 312.6,147.8 313.1,149.1 313.6,149.4 314.1,148.7 314.6,148.1 315.1,148.8 315.6,149.1 316.1,148.0 316.6,146.5 317.1,146.5 317.6,148.0 318.1,148.7 318.6,148.7 319.1,148.5 319.6,149.1 320.1,148.9 320.6,149.3 321.1,149.8 321.6,148.7 322.1,150.5 322.6,148.6 323.1,148.0 323.6,149.9 324.1,148.8 324.6,150.2 325.1,150.4 325.6,147.9 326.1,148.2 326.6,148.6 327.1,148.7 327.6,149.5 328.1,150.0 328.6,149.7 329.1,148.9 329.6,148.2 330.1,148.8 330.6,148.6 331.1,150.0 331.6,150.5 332.1,149.8 332.6,150.2 333.1,149.7 333.6,149.8 334.1,150.0 334.6,150.0 335.1,150.7 335.6,148.7 336.1,150.8 336.6,150.8 337.1,149.4 337.6,149.3 338.1,149.2 338.6,149.6 339.1,149.4 339.6,148.3 340.1,148.4 340.6,147.5 341.1,148.8 341.6,147.7 342.1,147.6 342.6,147.1 343.1,146.9 343.6,147.1 344.1,148.3 344.6,148.1 345.1,146.0 345.6,149.0 346.1,147.4 346.6,148.5 347.1,148.2 347.6,147.9 348.1,147.4 348.6,148.0 349.1,147.8 349.6,148.7 350.1,148.3 350.6,148.0 351.1,148.5 351.6,147.3 352.1,147.5 352.6,149.3 353.1,148.6 353.6,148.3 354.1,146.6 354.6,148.3 355.1,147.7 355.6,148.5 356.1,147.5 356.6,147.9 357.1,149.3 357.6,146.8 358.1,149.7 358.6,148.1 359.1,149.1 359.6,148.4 360.1,147.8 360.6,146.9 361.1,147.4 361.6,147.4 362.1,149.8 362.6,150.0 363.1,149.0 363.6,148.1 364.1,150.3 364.6,148.1 365.1,149.9 365.6,149.5 366.1,149.6 366.6,149.9 367.1,149.5 367.6,149.9 368.1,149.6 368.6,149.1 369.1,148.8 369.6,148.8 370.1,150.1 370.6,149.5 371.1,150.1 371.6,149.1 372.1,149.7 372.6,149.2 373.1,150.3 373.6,149.1 374.1,150.0 374.6,148.3 375.1,149.4 375.6,149.8 376.1,150.1 376.6,149.7 377.1,149.9 377.6,148.3 378.1,147.9 378.6,149.0 379.1,150.3 379.6,149.8 380.1,150.5 380.6,149.1 381.1,149.8 381.6,148.8 382.1,150.0 382.6,149.6 383.1,149.0 383.6,149.3 384.1,149.0 384.6,148.6 385.1,147.8 385.6,149.6 386.1,148.8 386.6,148.7 387.1,148.3 387.6,147.7 388.1,147.8 388.6,148.5 389.1,148.5 389.6,148.4 390.1,147.6 390.6,148.6 391.1,150.0 391.6,147.9 392.1,147.9 392.6,147.6 393.1,147.8 393.6,149.0 394.1,149.3 394.6,149.2 395.1,150.0 395.6,147.2 396.1,150.0 396.6,149.8 397.1,149.0 397.6,148.7 398.1,148.9 398.6,148.7 399.1,147.8 399.6,147.7 400.1,148.1 400.6,150.0 401.1,149.2 401.6,149.2 402.1,147.5 402.6,148.8 403.1,147.9 403.6,150.0 404.1,148.6 404.6,148.7 405.1,150.0 405.6,148.1 406.1,149.0 406.6,149.0 407.1,151.0 407.6,149.3 408.1,148.8 408.6,150.0 409.1,149.1 409.6,147.3 410.1,150.0 410.6,149.7 411.1,148.6 411.6,149.4 412.1,149.8 412.6,148.3 413.1,150.4 413.6,149.7 414.1,147.9 414.6,147.1 415.1,150.5 415.6,149.1 416.1,147.0 416.6,147.4 417.1,149.5 417.6,147.8 418.1,149.1 418.6,149.0 419.1,148.4 419.6,150.0 420.1,149.3 420.6,147.4 421.1,148.6 421.6,147.9 422.1,149.5 422.6,149.4 423.1,149.9 423.6,149.6 424.1,149.7 424.6,147.4 425.1,149.4 425.6,151.0 426.1,149.4 426.6,148.4 427.1,150.1 427.6,149.1 428.1,150.1 428.6,148.8 429.1,148.7 429.6,149.3 430.1,149.8 430.6,149.3 431.1,148.2 431.6,148.6 432.1,149.0 432.6,148.6 433.1,148.0 433.6,148.9 434.1,148.1 434.6,147.6 435.1,148.2 435.6,148.3 436.1,148.7 436.6,147.5 437.1,148.3 437.6,148.7 438.1,147.1 438.6,148.7 439.1,148.6 439.6,149.1 440.1,148.1 440.6,148.3 441.1,149.3 441.6,147.9 442.1,112.7 442.6,113.1 443.1,149.3 443.6,149.4 444.1,149.2 444.6,148.6 445.1,149.8 445.6,147.4 446.1,146.9 446.6,149.2 447.1,149.0 447.6,112.3 448.1,110.7 448.6,149.9 449.1,149.0 449.6,150.3 450.1,149.3 450.6,150.0 451.1,150.2 451.6,150.8 452.1,149.5 452.6,148.3 453.1,150.2 453.6,148.2 454.1,149.9 454.6,147.6 455.1,148.3 455.6,149.2 456.1,150.2 456.6,151.2 457.1,149.8 457.6,148.2 458.1,149.3 458.6,150.5 459.1,149.9 459.6,150.7 460.1,149.9 460.6,150.3 461.1,148.5 461.6,150.0 462.1,149.7 462.6,150.3 463.1,149.8 463.6,148.6 464.1,149.6 464.6,148.0 465.1,149.3 465.6,149.9 466.1,150.0 466.6,149.8 467.1,148.7 467.6,148.7 468.1,149.1 468.6,147.5 469.1,149.5 469.6,148.9 470.1,148.7 470.6,148.5 471.1,150.6 471.6,148.5 472.1,148.2 472.6,149.5 473.1,147.7 473.6,148.4 474.1,149.4 474.6,149.7 475.1,149.0 475.6,148.7 476.1,148.8 476.6,149.3 477.1,150.5 477.6,148.9 478.1,149.4 478.6,149.5 479.1,149.4 479.6,149.0 480.1,149.6 480.6,150.1 481.1,150.1 481.6,147.8 482.1,150.4 482.6,148.2 483.1,149.1 483.6,148.3 484.1,148.5 484.6,148.2 485.1,148.2 485.6,149.0 486.1,149.1 486.6,146.7 487.1,148.1 487.6,149.3 488.1,148.7 488.6,147.1 489.1,146.1 489.6,148.0 490.1,148.1 490.6,118.4 491.1,111.6 491.6,149.1 492.1,147.6 492.6,147.7 493.1,148.2 493.6,146.7 494.1,146.0 494.6,146.8 495.1,138.6 495.6,86.9 496.1,111.7 496.6,116.8 497.1,98.8 497.6,140.9 498.1,146.4 498.6,126.8 499.1,106.6 499.6,140.8 500.1,147.1 500.6,146.4 501.1,147.4 501.6,147.9 502.1,145.8 502.6,147.1 503.1,148.1 503.6,149.1 504.1,148.3 504.6,147.5 505.1,147.6 505.6,148.5 506.1,148.8 506.6,148.4 507.1,148.5 507.6,148.2 508.1,149.7 508.6,148.7 509.1,149.3 509.6,149.8 510.1,149.0 510.6,149.6 511.1,149.1 511.6,146.0 512.0,148.3 512.5,147.8 513.0,108.4 513.5,123.9 514.0,149.5 514.5,148.4 515.0,149.2 515.5,148.0 516.0,150.5 516.5,148.4 517.0,149.5 517.5,148.8 518.0,148.7 518.5,150.4 519.0,150.3 519.5,149.0 520.0,148.0 520.5,148.3 521.0,147.7 521.5,148.7 522.0,149.0 522.5,148.5 523.0,149.0 523.5,149.0 524.0,148.5 524.5,148.7 525.0,147.0 525.5,148.5 526.0,147.1 526.5,148.1 527.0,149.1 527.5,147.1 528.0,147.7 528.5,148.6 529.0,149.2 529.5,148.6 530.0,148.8 530.5,148.3 531.0,148.7 531.5,149.5 532.0,148.2 532.5,150.5 533.0,149.6 533.5,149.8 534.0,149.2 534.5,148.4 535.0,150.2 535.5,148.7 536.0,149.1 536.5,149.7 537.0,149.9 537.5,148.9 538.0,149.5 538.5,149.0 539.0,146.8 539.5,148.8 540.0,148.9 540.5,148.7 541.0,150.3 541.5,149.0 542.0,148.7 542.5,147.0 543.0,149.3 543.5,148.4 544.0,149.4 544.5,148.2 545.0,148.7 545.5,150.1 546.0,149.1 546.5,148.0 547.0,148.3 547.5,147.9 548.0,147.9 548.5,148.1 549.0,148.1 549.5,148.4 550.0,147.4 550.5,148.5 551.0,111.0 551.5,107.0 552.0,146.8 552.5,148.9 553.0,147.1 553.5,142.2 554.0,110.0 554.5,126.9 555.0,147.6 555.5,148.9 556.0,113.3 556.5,108.3 557.0,147.5 557.5,146.8 558.0,147.4 558.5,149.0 559.0,147.7 559.5,148.7 560.0,149.2 560.5,147.4 561.0,147.8 561.5,149.5 562.0,148.8 562.5,149.5 563.0,148.0 563.5,148.1 564.0,149.1 564.5,142.1 565.0,108.7 565.5,124.7 566.0,149.5 566.5,149.3 567.0,149.2 567.5,148.7 568.0,148.7 568.5,149.1 569.0,149.5 569.5,149.5 570.0,146.8 570.5,148.0 571.0,148.8 571.5,149.5 572.0,150.1 572.5,147.6 573.0,148.7 573.5,149.2 574.0,148.3 574.5,149.1 575.0,148.7 575.5,146.6 576.0,147.1 576.5,148.5 577.0,149.1 577.5,149.2 578.0,149.4 578.5,149.2 579.0,147.9 579.5,149.0 580.0,148.4 580.5,148.4 581.0,148.7 581.5,147.8 582.0,148.5 582.5,149.2 583.0,147.7 583.5,150.2 584.0,149.4 584.5,149.2 585.0,148.2 585.5,149.1 586.0,147.6 586.5,148.4 587.0,148.5 587.5,148.9 588.0,148.7 588.5,148.6 589.0,147.9 589.5,149.1 590.0,148.7 590.5,148.4 591.0,148.8 591.5,149.5 592.0,148.8 592.5,150.2 593.0,149.1 593.5,148.3 594.0,149.3 594.5,149.7 595.0,148.2 595.5,149.5 596.0,150.0 596.5,149.6 597.0,151.1 597.5,149.0 598.0,149.5 598.5,149.3 599.0,149.2 599.5,149.2 600.0,148.7 600.5,149.1 601.0,149.9 601.5,149.7 602.0,148.4 602.5,149.6 603.0,148.2 603.5,147.7 604.0,147.9 604.5,148.2 605.0,148.4 605.5,148.6 606.0,150.1 606.5,150.1 607.0,147.5 607.5,147.2 608.0,147.3 608.5,149.1 609.0,148.9 609.5,148.0 610.0,149.3 610.5,149.2 611.0,147.3 611.5,148.5 612.0,147.8 612.5,149.5 613.0,148.5 613.5,147.1 614.0,149.2 614.5,149.6 615.0,149.0 615.5,148.8 616.0,148.3 616.5,148.2 617.0,149.5 617.5,149.5 618.0,150.3 618.5,149.5 619.0,148.6 619.5,150.2 620.0,148.1 620.5,149.3 621.0,149.0 621.5,148.7 622.0,148.5 622.5,146.9 623.0,148.9 623.5,149.5 624.0,148.8 624.5,148.0 625.0,147.2 625.5,149.6 626.0,148.1 626.5,146.5 627.0,105.5 627.5,106.5 628.0,140.4 628.5,104.2 629.0,120.0 629.5,122.4 630.0,104.4 630.5,142.0 631.0,148.7 631.5,147.6 632.0,149.6 632.5,147.8 633.0,149.2 633.5,148.9 634.0,148.6 634.5,150.0 635.0,149.6 635.5,147.4 636.0,147.9 636.5,148.7 637.0,148.5 637.5,148.7 638.0,148.9 638.5,148.3 639.0,148.0 639.5,148.0 640.0,148.6 640.5,147.9 641.0,148.2 641.5,148.1 642.0,148.1 642.5,149.4 643.0,149.5 643.5,147.4 644.0,149.9 644.5,147.9 645.0,149.9 645.5,148.4 646.0,148.0 646.5,148.8 647.0,148.4 647.5,148.7 648.0,149.0 648.5,149.3 649.0,149.0 649.5,149.4 650.0,147.7 650.5,147.9 651.0,147.8 651.5,147.8 652.0,150.5 652.5,149.9 653.0,149.3 653.5,149.6 654.0,149.5 654.5,148.2 655.0,149.0 655.5,149.1 656.0,149.2 656.5,147.9 657.0,149.3 657.5,148.2 658.0,148.0 658.5,148.8 659.0,148.1 659.5,148.1 660.0,147.4 660.0,150.8 659.5,153.5 659.0,152.3 658.5,154.4 658.0,152.5 657.5,151.8 657.0,152.6 656.5,152.8 656.0,155.8 655.5,153.5 655.0,152.2 654.5,152.9 654.0,153.9 653.5,153.1 653.0,152.4 652.5,153.9 652.0,153.2 651.5,152.8 651.0,152.9 650.5,151.2 650.0,152.7 649.5,154.8 649.0,153.9 648.5,152.4 648.0,154.4 647.5,152.5 647.0,152.5 646.5,153.2 646.0,153.2 645.5,152.0 645.0,153.2 644.5,151.8 644.0,152.3 643.5,152.9 643.0,153.3 642.5,153.2 642.0,151.5 641.5,152.8 641.0,151.9 640.5,151.8 640.0,153.4 639.5,152.4 639.0,153.1 638.5,151.2 638.0,152.3 637.5,152.4 637.0,152.8 636.5,153.1 636.0,154.1 635.5,154.3 635.0,154.9 634.5,152.0 634.0,153.5 633.5,153.5 633.0,154.1 632.5,155.2 632.0,152.3 631.5,153.2 631.0,153.2 630.5,151.5 630.0,150.1 629.5,150.6 629.0,150.6 628.5,150.6 628.0,150.6 627.5,150.6 627.0,151.7 626.5,151.9 626.0,152.7 625.5,154.6 625.0,152.8 624.5,151.2 624.0,152.5 623.5,152.8 623.0,154.5 622.5,151.8 622.0,152.7 621.5,154.9 621.0,152.7 620.5,153.2 620.0,153.2 619.5,153.0 619.0,152.9 618.5,152.3 618.0,153.7 617.5,154.4 617.0,154.6 616.5,154.6 616.0,153.7 615.5,153.4 615.0,153.5 614.5,152.0 614.0,152.1 613.5,151.6 613.0,152.1 612.5,154.5 612.0,151.4 611.5,153.5 611.0,152.1 610.5,153.0 610.0,152.1 609.5,152.9 609.0,152.2 608.5,154.7 608.0,151.8 607.5,153.4 607.0,152.1 606.5,152.8 606.0,152.5 605.5,153.6 605.0,152.5 604.5,152.5 604.0,153.8 603.5,153.2 603.0,151.9 602.5,153.0 602.0,151.8 601.5,153.8 601.0,154.7 600.5,151.9 600.0,152.4 599.5,153.4 599.0,152.7 598.5,152.6 598.0,153.1 597.5,154.3 597.0,153.9 596.5,153.6 596.0,154.9 595.5,154.8 595.0,154.1 594.5,152.1 594.0,152.7 593.5,153.6 593.0,155.1 592.5,153.2 592.0,153.8 591.5,153.3 591.0,154.0 590.5,151.7 590.0,152.3 589.5,152.6 589.0,151.4 588.5,151.8 588.0,151.6 587.5,152.9 587.0,152.9 586.5,152.9 586.0,152.5 585.5,152.2 585.0,153.7 584.5,152.7 584.0,152.2 583.5,152.8 583.0,154.0 582.5,152.3 582.0,152.7 581.5,153.1 581.0,153.2 580.5,152.4 580.0,152.5 579.5,151.8 579.0,151.7 578.5,152.6 578.0,151.5 577.5,153.2 577.0,153.9 576.5,152.5 576.0,152.0 575.5,152.0 575.0,151.2 574.5,151.6 574.0,151.6 573.5,152.9 573.0,153.2 572.5,151.8 572.0,152.4 571.5,151.8 571.0,152.6 570.5,152.3 570.0,152.9 569.5,152.9 569.0,153.1 568.5,153.3 568.0,153.4 567.5,153.9 567.0,152.1 566.5,152.3 566.0,152.6 565.5,151.8 565.0,151.8 564.5,152.1 564.0,152.1 563.5,151.4 563.0,152.6 562.5,152.4 562.0,152.4 561.5,152.5 561.0,152.3 560.5,151.3 560.0,151.9 559.5,152.6 559.0,153.1 558.5,152.4 558.0,150.8 557.5,149.9 557.0,151.1 556.5,151.1 556.0,151.9 555.5,152.1 555.0,152.3 554.5,152.3 554.0,151.9 553.5,152.2 553.0,152.7 552.5,152.3 552.0,152.2 551.5,152.0 551.0,151.9 550.5,152.6 550.0,151.4 549.5,153.3 549.0,151.5 548.5,152.9 548.0,153.4 547.5,152.2 547.0,151.7 546.5,152.8 546.0,152.1 545.5,153.4 545.0,153.1 544.5,152.3 544.0,152.9 543.5,151.6 543.0,154.3 542.5,153.2 542.0,152.4 541.5,154.9 541.0,153.3 540.5,154.4 540.0,152.7 539.5,153.0 539.0,151.6 538.5,152.5 538.0,153.7 537.5,152.9 537.0,152.6 536.5,152.9 536.0,153.2 535.5,153.5 535.0,154.1 534.5,153.1 534.0,153.6 533.5,153.8 533.0,153.2 532.5,153.0 532.0,152.5 531.5,154.1 531.0,152.7 530.5,152.5 530.0,152.2 529.5,152.3 529.0,154.6 528.5,154.1 528.0,152.8 527.5,152.8 527.0,153.3 526.5,153.8 526.0,151.9 525.5,153.8 525.0,152.1 524.5,153.2 524.0,155.1 523.5,153.6 523.0,152.2 522.5,153.1 522.0,153.4 521.5,154.5 521.0,152.0 520.5,151.9 520.0,152.3 519.5,154.1 519.0,155.2 518.5,153.6 518.0,152.8 517.5,152.4 517.0,153.5 516.5,153.7 516.0,154.0 515.5,152.9 515.0,153.9 514.5,152.0 514.0,153.3 513.5,153.0 513.0,152.5 512.5,153.4 512.0,153.6 511.6,153.6 511.1,152.9 510.6,153.6 510.1,153.2 509.6,152.7 509.1,152.2 508.6,152.5 508.1,153.0 507.6,151.2 507.1,152.7 506.6,152.1 506.1,153.2 505.6,152.0 505.1,153.2 504.6,151.9 504.1,151.9 503.6,153.6 503.1,151.5 502.6,150.4 502.1,151.4 501.6,152.0 501.1,152.0 500.6,152.1 500.1,152.4 499.6,152.1 499.1,150.6 498.6,150.6 498.1,150.6 497.6,150.6 497.1,149.0 496.6,150.1 496.1,150.1 495.6,150.1 495.1,150.3 494.6,150.3 494.1,150.8 493.6,152.3 493.1,152.8 492.6,152.2 492.1,152.6 491.6,153.1 491.1,153.1 490.6,151.5 490.1,151.6 489.6,152.1 489.1,151.8 488.6,153.0 488.1,153.3 487.6,154.1 487.1,152.1 486.6,152.8 486.1,153.3 485.6,153.8 485.1,153.0 484.6,152.6 484.1,153.6 483.6,151.4 483.1,153.4 482.6,153.0 482.1,152.8 481.6,152.0 481.1,153.6 480.6,152.6 480.1,153.8 479.6,153.1 479.1,153.8 478.6,152.9 478.1,153.3 477.6,153.3 477.1,153.0 476.6,154.0 476.1,152.9 475.6,153.2 475.1,153.4 474.6,153.5 474.1,153.7 473.6,153.9 473.1,153.9 472.6,153.2 472.1,152.4 471.6,152.7 471.1,153.2 470.6,152.7 470.1,153.1 469.6,152.6 469.1,154.0 468.6,152.3 468.1,152.6 467.6,155.1 467.1,152.4 466.6,153.7 466.1,154.6 465.6,153.2 465.1,152.2 464.6,151.8 464.1,152.9 463.6,152.5 463.1,153.3 462.6,153.3 462.1,154.0 461.6,153.1 461.1,152.3 460.6,155.0 460.1,153.2 459.6,152.8 459.1,154.5 458.6,154.3 458.1,153.6 457.6,152.4 457.1,155.1 456.6,153.9 456.1,153.4 455.6,153.4 455.1,152.7 454.6,154.0 454.1,154.6 453.6,153.2 453.1,153.7 452.6,153.6 452.1,153.4 451.6,152.4 451.1,154.5 450.6,153.1 450.1,153.2 449.6,154.2 449.1,153.8 448.6,153.7 448.1,153.2 447.6,153.1 447.1,153.4 446.6,154.0 446.1,152.2 445.6,152.2 445.1,152.8 444.6,151.9 444.1,152.9 443.6,153.0 443.1,154.9 442.6,152.6 442.1,151.9 441.6,151.2 441.1,152.6 440.6,152.4 440.1,152.3 439.6,153.1 439.1,153.9 438.6,151.7 438.1,152.0 437.6,152.7 437.1,152.7 436.6,151.6 436.1,152.8 435.6,152.6 435.1,153.3 434.6,152.8 434.1,153.6 433.6,153.1 433.1,151.8 432.6,153.3 432.1,152.0 431.6,151.8 431.1,152.4 430.6,152.5 430.1,153.2 429.6,151.7 429.1,153.0 428.6,153.2 428.1,153.2 427.6,153.5 427.1,151.9 426.6,154.2 426.1,153.3 425.6,153.7 425.1,152.0 424.6,153.0 424.1,155.3 423.6,152.9 423.1,154.6 422.6,152.1 422.1,154.7 421.6,152.1 421.1,151.0 420.6,153.3 420.1,152.0 419.6,152.2 419.1,151.4 418.6,151.8 418.1,153.2 417.6,151.9 417.1,153.6 416.6,155.1 416.1,152.9 415.6,153.3 415.1,153.8 414.6,152.7 414.1,153.2 413.6,153.6 413.1,152.7 412.6,153.9 412.1,154.6 411.6,152.5 411.1,154.1 410.6,153.9 410.1,152.7 409.6,153.1 409.1,153.4 408.6,153.6 408.1,154.1 407.6,151.9 407.1,153.2 406.6,152.5 406.1,153.2 405.6,152.7 405.1,153.0 404.6,151.7 404.1,151.1 403.6,155.0 403.1,151.7 402.6,152.1 402.1,152.0 401.6,152.9 401.1,153.7 400.6,153.0 400.1,152.4 399.6,152.1 399.1,152.3 398.6,152.8 398.1,152.1 397.6,153.0 397.1,154.7 396.6,153.9 396.1,152.6 395.6,153.9 395.1,152.0 394.6,151.6 394.1,154.2 393.6,153.5 393.1,151.6 392.6,153.2 392.1,152.7 391.6,151.6 391.1,153.1 390.6,152.2 390.1,151.7 389.6,153.4 389.1,153.3 388.6,154.4 388.1,153.5 387.6,153.2 387.1,155.7 386.6,151.7 386.1,152.2 385.6,151.9 385.1,153.8 384.6,152.5 384.1,153.4 383.6,153.0 383.1,152.8 382.6,154.1 382.1,152.1 381.6,154.2 381.1,153.2 380.6,152.2 380.1,154.4 379.6,155.4 379.1,153.4 378.6,154.0 378.1,153.4 377.6,154.1 377.1,153.1 376.6,154.0 376.1,153.8 375.6,152.3 375.1,153.9 374.6,152.1 374.1,153.4 373.6,151.9 373.1,153.4 372.6,153.1 372.1,153.2 371.6,152.8 371.1,153.3 370.6,154.3 370.1,153.2 369.6,154.3 369.1,153.5 368.6,153.1 368.1,151.7 367.6,153.3 367.1,152.9 366.6,152.4 366.1,155.6 365.6,153.8 365.1,154.0 364.6,153.0 364.1,154.0 363.6,153.1 363.1,153.0 362.6,152.5 362.1,155.3 361.6,152.8 361.1,153.9 360.6,152.9 360.1,153.0 359.6,154.1 359.1,152.3 358.6,153.6 358.1,152.1 357.6,153.2 357.1,152.1 356.6,152.2 356.1,154.0 355.6,153.0 355.1,152.1 354.6,153.2 354.1,154.0 353.6,152.9 353.1,153.0 352.6,152.0 352.1,152.6 351.6,152.5 351.1,153.0 350.6,152.2 350.1,153.2 349.6,152.7 349.1,152.0 348.6,153.0 348.1,153.4 347.6,153.1 347.1,152.2 346.6,154.2 346.1,151.1 345.6,152.8 345.1,152.1 344.6,152.3 344.1,152.0 343.6,151.8 343.1,151.9 342.6,151.3 342.1,153.7 341.6,152.9 341.1,153.3 340.6,152.7 340.1,152.6 339.6,153.6 339.1,152.2 338.6,151.7 338.1,154.2 337.6,152.8 337.1,155.0 336.6,154.4 336.1,155.0 335.6,153.7 335.1,153.6 334.6,154.7 334.1,155.2 333.6,152.9 333.1,153.6 332.6,154.5 332.1,154.6 331.6,152.4 331.1,153.7 330.6,154.1 330.1,153.4 329.6,153.0 329.1,153.6 328.6,153.1 328.1,152.4 327.6,152.3 327.1,152.0 326.6,152.3 326.1,153.1 325.6,153.9 325.1,152.2 324.6,154.3 324.1,152.7 323.6,152.2 323.1,152.2 322.6,154.5 322.1,153.5 321.6,153.9 321.1,153.6 320.6,152.6 320.1,152.9 319.6,151.5 319.1,153.3 318.6,152.3 318.1,152.3 317.6,150.9 317.1,151.9 316.6,153.9 316.1,152.1 315.6,152.3 315.1,152.3 314.6,152.6 314.1,152.8 313.6,154.1 313.1,152.8 312.6,154.0 312.1,152.1 311.6,152.4 311.1,152.6 310.6,153.9 310.1,153.7 309.6,152.3 309.1,152.7 308.6,152.9 308.1,152.1 307.6,153.1 307.1,154.2 306.6,153.0 306.1,153.6 305.6,154.4 305.1,152.4 304.6,153.2 304.1,154.9 303.6,151.7 303.1,153.5 302.6,153.8 302.1,153.4 301.6,153.8 301.1,152.8 300.6,154.5 300.1,153.0 299.6,154.2 299.1,152.9 298.6,153.1 298.1,152.2 297.6,152.2 297.1,152.6 296.6,153.0 296.1,152.2 295.6,151.6 295.1,153.2 294.6,152.4 294.1,151.2 293.6,151.8 293.1,152.3 292.6,152.6 292.1,152.8 291.6,153.3 291.1,153.1 290.6,152.7 290.1,153.3 289.6,152.9 289.1,151.1 288.6,152.1 288.1,153.6 287.6,154.9 287.1,153.1 286.6,153.5 286.1,153.0 285.6,153.0 285.1,154.3 284.6,153.4 284.1,153.5 283.6,151.9 283.1,152.8 282.6,151.7 282.1,151.9 281.6,154.5 281.1,152.5 280.6,152.6 280.1,152.8 279.6,154.5 279.1,153.1 278.6,151.8 278.1,151.8 277.6,151.8 277.1,151.3 276.6,151.0 276.1,152.7 275.6,151.2 275.1,152.1 274.6,153.7 274.1,151.6 273.6,153.0 273.1,152.5 272.6,152.1 272.1,151.7 271.6,152.1 271.1,153.3 270.6,151.1 270.1,151.9 269.6,152.5 269.1,153.4 268.6,152.4 268.1,152.1 267.6,151.9 267.1,153.7 266.6,154.4 266.1,151.9 265.6,154.3 265.1,154.6 264.6,153.2 264.1,152.4 263.6,152.1 263.1,153.8 262.6,154.6 262.1,153.0 261.6,153.7 261.1,152.5 260.6,155.3 260.1,153.0 259.6,152.8 259.1,152.5 258.6,153.5 258.1,153.5 257.6,153.4 257.1,152.8 256.6,155.4 256.1,154.1 255.6,152.0 255.1,154.1 254.6,154.9 254.1,152.8 253.6,153.5 253.1,152.9 252.6,154.0 252.1,152.9 251.6,155.0 251.1,152.2 250.6,151.3 250.1,152.1 249.6,151.7 249.1,152.4 248.6,155.2 248.1,153.8 247.6,151.3 247.1,152.6 246.6,152.9 246.1,153.3 245.6,152.1 245.1,152.8 244.6,154.4 244.1,153.6 243.6,153.7 243.1,155.4 242.6,152.2 242.1,153.6 241.6,152.6 241.1,152.7 240.6,153.0 240.1,154.5 239.6,152.6 239.1,154.9 238.6,154.5 238.1,153.6" fill="#a421a4" stroke="#a421a4" stroke-width="0.6" stroke-linejoin="round" style="mix-blend-mode:multiply"/>
<polygon points="238.1,221.8 238.6,221.8 239.1,221.6 239.6,221.7 240.1,221.9 240.6,221.8 241.1,221.8 241.6,221.7 242.1,222.1 242.6,222.0 243.1,222.0 243.6,222.0 244.1,221.7 244.6,222.0 245.1,221.0 245.6,221.7 246.1,221.8 246.6,222.0 247.1,221.8 247.6,221.6 248.1,221.9 248.6,221.9 249.1,222.0 249.6,221.8 250.1,221.8 250.6,221.9 251.1,221.9 251.6,222.1 252.1,221.6 252.6,221.9 253.1,221.8 253.6,221.8 254.1,221.7 254.6,221.5 255.1,221.5 255.6,221.5 256.1,221.1 256.6,173.9 257.1,173.4 257.6,220.8 258.1,221.1 258.6,221.5 259.1,221.6 259.6,221.9 260.1,221.8 260.6,221.7 261.1,222.2 261.6,221.9 262.1,221.6 262.6,221.8 263.1,221.4 263.6,175.4 264.1,172.2 264.6,220.8 265.1,221.9 265.6,221.8 266.1,221.8 266.6,221.4 267.1,221.5 267.6,178.1 268.1,175.5 268.6,220.6 269.1,221.2 269.6,221.6 270.1,221.4 270.6,221.5 271.1,221.6 271.6,221.7 272.1,221.5 272.6,221.9 273.1,221.4 273.6,221.5 274.1,221.5 274.6,221.8 275.1,221.9 275.6,221.5 276.1,221.6 276.6,221.9 277.1,221.4 277.6,221.4 278.1,174.3 278.6,174.4 279.1,221.0 279.6,221.3 280.1,221.4 280.6,221.6 281.1,221.8 281.6,221.5 282.1,221.8 282.6,221.9 283.1,221.7 283.6,221.8 284.1,221.7 284.6,221.6 285.1,221.8 285.6,221.7 286.1,221.7 286.6,221.6 287.1,221.4 287.6,221.9 288.1,222.1 288.6,221.6 289.1,221.8 289.6,221.7 290.1,221.7 290.6,222.1 291.1,222.1 291.6,221.8 292.1,222.0 292.6,221.6 293.1,222.0 293.6,222.0 294.1,221.7 294.6,221.3 295.1,222.1 295.6,221.8 296.1,222.2 296.6,222.0 297.1,221.8 297.6,221.6 298.1,222.0 298.6,222.0 299.1,222.1 299.6,221.8 300.1,222.1 300.6,222.2 301.1,222.1 301.6,222.0 302.1,222.3 302.6,221.9 303.1,222.0 303.6,221.8 304.1,222.4 304.6,222.0 305.1,221.9 305.6,222.4 306.1,221.7 306.6,221.8 307.1,221.3 307.6,221.9 308.1,221.9 308.6,221.9 309.1,221.8 309.6,221.8 310.1,222.1 310.6,221.9 311.1,221.7 311.6,221.9 312.1,221.7 312.6,221.6 313.1,222.0 313.6,221.7 314.1,221.8 314.6,222.0 315.1,221.7 315.6,221.8 316.1,221.6 316.6,221.6 317.1,221.9 317.6,222.1 318.1,222.1 318.6,221.8 319.1,221.6 319.6,221.6 320.1,221.4 320.6,221.8 321.1,221.9 321.6,221.5 322.1,221.8 322.6,221.3 323.1,221.7 323.6,222.0 324.1,222.0 324.6,221.4 325.1,221.5 325.6,221.8 326.1,221.8 326.6,222.2 327.1,222.2 327.6,221.8 328.1,222.3 328.6,222.2 329.1,222.0 329.6,222.0 330.1,222.1 330.6,222.3 331.1,222.1 331.6,222.1 332.1,221.5 332.6,221.7 333.1,222.0 333.6,221.8 334.1,221.5 334.6,222.0 335.1,222.2 335.6,221.8 336.1,222.2 336.6,221.7 337.1,221.6 337.6,222.1 338.1,221.8 338.6,222.0 339.1,221.9 339.6,222.0 340.1,221.9 340.6,222.0 341.1,222.1 341.6,222.2 342.1,221.3 342.6,222.2 343.1,222.1 343.6,221.8 344.1,221.8 344.6,221.7 345.1,222.0 345.6,222.2 346.1,222.0 346.6,221.7 347.1,221.9 347.6,221.7 348.1,222.0 348.6,221.7 349.1,222.0 349.6,221.8 350.1,221.5 350.6,222.1 351.1,221.6 351.6,221.7 352.1,221.8 352.6,222.0 353.1,221.7 353.6,222.2 354.1,222.1 354.6,221.8 355.1,222.3 355.6,221.9 356.1,221.8 356.6,221.8 357.1,221.9 357.6,221.5 358.1,221.8 358.6,221.4 359.1,221.6 359.6,221.7 360.1,221.6 360.6,221.9 361.1,221.9 361.6,222.1 362.1,221.8 362.6,221.9 363.1,222.3 363.6,222.0 364.1,222.2 364.6,221.9 365.1,221.6 365.6,222.4 366.1,222.3 366.6,221.6 367.1,222.1 367.6,221.8 368.1,222.0 368.6,222.3 369.1,221.9 369.6,221.8 370.1,221.8 370.6,222.0 371.1,221.8 371.6,221.4 372.1,221.8 372.6,221.8 373.1,221.9 373.6,221.5 374.1,222.0 374.6,221.7 375.1,222.0 375.6,221.8 376.1,221.5 376.6,221.7 377.1,222.0 377.6,221.6 378.1,221.8 378.6,222.1 379.1,222.1 379.6,222.0 380.1,221.8 380.6,221.7 381.1,221.8 381.6,221.7 382.1,221.5 382.6,221.4 383.1,221.5 383.6,221.8 384.1,221.5 384.6,221.7 385.1,221.8 385.6,221.7 386.1,221.9 386.6,221.8 387.1,221.7 387.6,221.7 388.1,221.8 388.6,221.9 389.1,221.4 389.6,221.9 390.1,222.0 390.6,222.1 391.1,222.1 391.6,221.6 392.1,221.9 392.6,222.1 393.1,222.0 393.6,222.2 394.1,222.0 394.6,222.3 395.1,222.4 395.6,222.3 396.1,222.1 396.6,222.2 397.1,221.9 397.6,221.9 398.1,222.4 398.6,222.1 399.1,222.0 399.6,222.0 400.1,221.8 400.6,222.5 401.1,221.9 401.6,222.0 402.1,221.9 402.6,221.9 403.1,222.1 403.6,222.3 404.1,221.7 404.6,221.9 405.1,222.1 405.6,222.0 406.1,222.0 406.6,221.8 407.1,222.1 407.6,221.9 408.1,222.0 408.6,221.9 409.1,222.4 409.6,221.8 410.1,221.8 410.6,221.8 411.1,222.0 411.6,221.7 412.1,221.6 412.6,221.8 413.1,221.8 413.6,221.8 414.1,221.5 414.6,221.7 415.1,222.2 415.6,222.1 416.1,222.0 416.6,222.0 417.1,222.0 417.6,221.9 418.1,221.8 418.6,221.8 419.1,222.1 419.6,221.7 420.1,221.9 420.6,222.1 421.1,222.1 421.6,222.0 422.1,222.4 422.6,222.2 423.1,222.3 423.6,221.9 424.1,222.4 424.6,222.2 425.1,221.8 425.6,222.4 426.1,222.2 426.6,222.3 427.1,221.9 427.6,221.9 428.1,222.5 428.6,222.0 429.1,221.9 429.6,222.0 430.1,221.7 430.6,221.7 431.1,221.5 431.6,214.4 432.1,173.0 432.6,192.4 433.1,221.3 433.6,221.5 434.1,221.9 434.6,221.7 435.1,221.9 435.6,221.4 436.1,221.9 436.6,221.7 437.1,221.8 437.6,221.4 438.1,221.7 438.6,221.7 439.1,221.7 439.6,221.8 440.1,221.1 440.6,219.2 441.1,219.5 441.6,221.8 442.1,221.8 442.6,222.1 443.1,222.0 443.6,222.2 444.1,222.0 444.6,222.1 445.1,221.4 445.6,222.0 446.1,221.8 446.6,181.6 447.1,179.3 447.6,179.2 448.1,196.2 448.6,221.6 449.1,222.1 449.6,222.1 450.1,222.1 450.6,221.8 451.1,222.1 451.6,222.5 452.1,222.0 452.6,222.2 453.1,222.0 453.6,221.9 454.1,221.8 454.6,222.2 455.1,221.9 455.6,221.6 456.1,221.9 456.6,221.8 457.1,221.7 457.6,221.8 458.1,221.9 458.6,221.8 459.1,221.3 459.6,222.0 460.1,221.1 460.6,221.9 461.1,221.9 461.6,221.7 462.1,221.4 462.6,221.9 463.1,221.6 463.6,221.6 464.1,221.7 464.6,222.2 465.1,221.9 465.6,222.1 466.1,221.7 466.6,222.2 467.1,222.1 467.6,221.9 468.1,222.3 468.6,222.0 469.1,222.4 469.6,222.4 470.1,222.0 470.6,222.2 471.1,222.1 471.6,222.2 472.1,221.9 472.6,221.9 473.1,221.9 473.6,221.9 474.1,221.8 474.6,221.6 475.1,221.7 475.6,221.8 476.1,221.9 476.6,221.3 477.1,221.8 477.6,221.6 478.1,221.7 478.6,221.7 479.1,221.8 479.6,221.6 480.1,221.3 480.6,221.5 481.1,221.7 481.6,221.5 482.1,221.5 482.6,221.6 483.1,221.6 483.6,221.7 484.1,221.7 484.6,221.8 485.1,221.6 485.6,221.9 486.1,221.1 486.6,221.5 487.1,221.6 487.6,221.3 488.1,221.3 488.6,221.0 489.1,220.7 489.6,173.9 490.1,170.2 490.6,219.5 491.1,174.0 491.6,173.5 492.1,220.0 492.6,220.0 493.1,220.0 493.6,220.0 494.1,219.5 494.6,187.2 495.1,165.4 495.6,212.0 496.1,170.3 496.6,170.7 497.1,213.2 497.6,172.5 498.1,191.0 498.6,192.9 499.1,174.3 499.6,214.6 500.1,220.8 500.6,220.9 501.1,221.0 501.6,221.0 502.1,221.3 502.6,220.8 503.1,221.4 503.6,221.7 504.1,221.5 504.6,221.4 505.1,221.5 505.6,221.4 506.1,221.8 506.6,221.7 507.1,221.7 507.6,222.0 508.1,221.9 508.6,221.5 509.1,221.6 509.6,221.8 510.1,221.6 510.6,221.5 511.1,221.5 511.6,221.2 512.0,221.4 512.5,172.3 513.0,173.2 513.5,220.9 514.0,221.5 514.5,221.8 515.0,221.6 515.5,221.9 516.0,221.9 516.5,221.9 517.0,221.8 517.5,221.9 518.0,221.9 518.5,221.9 519.0,221.9 519.5,221.9 520.0,221.9 520.5,221.7 521.0,222.1 521.5,221.8 522.0,221.8 522.5,221.9 523.0,221.6 523.5,221.9 524.0,221.9 524.5,221.7 525.0,221.8 525.5,222.1 526.0,222.0 526.5,221.6 527.0,221.8 527.5,221.9 528.0,221.9 528.5,221.5 529.0,221.6 529.5,221.9 530.0,221.9 530.5,221.9 531.0,222.0 531.5,221.8 532.0,221.9 532.5,221.6 533.0,221.5 533.5,221.9 534.0,222.0 534.5,221.3 535.0,221.8 535.5,221.5 536.0,221.6 536.5,221.7 537.0,221.7 537.5,221.6 538.0,221.5 538.5,221.7 539.0,221.7 539.5,221.6 540.0,221.0 540.5,221.6 541.0,221.7 541.5,221.4 542.0,221.5 542.5,221.9 543.0,221.8 543.5,222.0 544.0,221.7 544.5,221.5 545.0,221.8 545.5,221.6 546.0,222.0 546.5,221.3 547.0,221.6 547.5,221.8 548.0,221.8 548.5,221.5 549.0,221.7 549.5,221.5 550.0,221.4 550.5,220.9 551.0,220.7 551.5,169.9 552.0,173.6 552.5,220.7 553.0,220.0 553.5,178.8 554.0,182.1 554.5,220.3 555.0,220.7 555.5,220.3 556.0,179.1 556.5,175.4 557.0,219.5 557.5,220.3 558.0,220.3 558.5,214.7 559.0,178.3 559.5,195.2 560.0,220.9 560.5,220.7 561.0,221.1 561.5,221.1 562.0,220.7 562.5,213.2 563.0,169.5 563.5,190.0 564.0,221.2 564.5,221.7 565.0,221.8 565.5,221.8 566.0,221.6 566.5,221.2 567.0,221.9 567.5,221.5 568.0,221.6 568.5,222.1 569.0,221.8 569.5,221.6 570.0,222.0 570.5,221.8 571.0,222.0 571.5,221.8 572.0,221.8 572.5,222.0 573.0,221.4 573.5,221.7 574.0,221.5 574.5,221.9 575.0,221.8 575.5,221.8 576.0,222.0 576.5,221.7 577.0,222.1 577.5,222.1 578.0,221.9 578.5,221.6 579.0,222.2 579.5,222.0 580.0,222.3 580.5,221.8 581.0,222.3 581.5,222.3 582.0,221.7 582.5,222.0 583.0,222.2 583.5,221.4 584.0,222.1 584.5,221.8 585.0,222.1 585.5,222.1 586.0,221.9 586.5,222.3 587.0,222.6 587.5,222.1 588.0,222.2 588.5,222.1 589.0,222.2 589.5,222.0 590.0,221.9 590.5,221.9 591.0,222.2 591.5,221.7 592.0,222.1 592.5,222.0 593.0,221.7 593.5,222.0 594.0,222.0 594.5,221.5 595.0,222.0 595.5,221.6 596.0,221.3 596.5,221.8 597.0,221.6 597.5,221.8 598.0,221.4 598.5,221.5 599.0,221.7 599.5,221.4 600.0,221.6 600.5,221.8 601.0,221.4 601.5,221.5 602.0,221.7 602.5,221.7 603.0,221.8 603.5,221.8 604.0,221.5 604.5,221.7 605.0,221.6 605.5,222.3 606.0,222.0 606.5,221.8 607.0,221.5 607.5,221.6 608.0,221.2 608.5,221.4 609.0,221.9 609.5,221.9 610.0,221.7 610.5,221.8 611.0,221.6 611.5,221.7 612.0,221.2 612.5,221.3 613.0,221.6 613.5,221.5 614.0,221.4 614.5,221.6 615.0,221.7 615.5,221.7 616.0,221.6 616.5,221.7 617.0,221.2 617.5,221.6 618.0,221.7 618.5,221.7 619.0,222.0 619.5,222.1 620.0,221.9 620.5,221.8 621.0,221.4 621.5,221.7 622.0,221.6 622.5,221.4 623.0,221.6 623.5,221.6 624.0,221.6 624.5,221.5 625.0,221.6 625.5,221.3 626.0,221.3 626.5,220.5 627.0,169.6 627.5,169.5 628.0,219.7 628.5,190.4 629.0,171.8 629.5,213.5 630.0,219.9 630.5,195.7 631.0,179.5 631.5,214.2 632.0,221.2 632.5,221.1 633.0,220.9 633.5,221.4 634.0,221.2 634.5,221.0 635.0,221.8 635.5,221.6 636.0,221.8 636.5,221.4 637.0,221.7 637.5,221.7 638.0,221.9 638.5,222.2 639.0,222.1 639.5,221.8 640.0,222.1 640.5,221.9 641.0,222.2 641.5,222.3 642.0,221.8 642.5,222.2 643.0,222.1 643.5,222.1 644.0,221.9 644.5,222.1 645.0,221.9 645.5,221.5 646.0,221.7 646.5,221.6 647.0,221.7 647.5,221.5 648.0,222.1 648.5,221.9 649.0,221.8 649.5,221.4 650.0,221.5 650.5,221.7 651.0,222.2 651.5,221.8 652.0,221.9 652.5,222.2 653.0,221.8 653.5,222.4 654.0,222.0 654.5,222.1 655.0,222.1 655.5,221.6 656.0,222.1 656.5,222.1 657.0,222.3 657.5,222.1 658.0,222.1 658.5,221.9 659.0,222.3 659.5,222.4 660.0,222.0 660.0,222.8 659.5,222.9 659.0,223.0 658.5,223.3 658.0,223.1 657.5,223.0 657.0,222.9 656.5,222.7 656.0,223.0 655.5,222.8 655.0,222.9 654.5,223.0 654.0,223.3 653.5,223.1 653.0,222.8 652.5,222.6 652.0,222.8 651.5,222.6 651.0,222.7 650.5,223.0 650.0,222.6 649.5,222.2 649.0,222.6 648.5,222.9 648.0,222.8 647.5,222.6 647.0,222.8 646.5,222.8 646.0,222.6 645.5,222.9 645.0,222.7 644.5,222.7 644.0,222.5 643.5,222.9 643.0,222.9 642.5,222.8 642.0,222.7 641.5,222.8 641.0,222.9 640.5,222.8 640.0,223.2 639.5,223.0 639.0,222.9 638.5,223.2 638.0,223.0 637.5,222.7 637.0,222.8 636.5,222.6 636.0,222.7 635.5,222.6 635.0,222.6 634.5,222.6 634.0,222.6 633.5,222.6 633.0,222.5 632.5,222.2 632.0,221.8 631.5,221.8 631.0,221.1 630.5,221.1 630.0,221.1 629.5,221.1 629.0,220.1 628.5,220.5 628.0,220.5 627.5,220.5 627.0,221.4 626.5,221.8 626.0,221.9 625.5,222.3 625.0,222.3 624.5,222.4 624.0,222.7 623.5,222.7 623.0,222.7 622.5,222.6 622.0,222.7 621.5,222.5 621.0,222.6 620.5,222.6 620.0,222.6 619.5,222.7 619.0,222.7 618.5,222.6 618.0,222.6 617.5,222.6 617.0,222.5 616.5,222.3 616.0,222.2 615.5,222.3 615.0,222.3 614.5,222.3 614.0,222.2 613.5,222.4 613.0,222.7 612.5,222.4 612.0,222.1 611.5,222.6 611.0,222.3 610.5,222.5 610.0,222.7 609.5,222.4 609.0,222.8 608.5,222.3 608.0,222.5 607.5,222.7 607.0,222.5 606.5,222.6 606.0,222.7 605.5,222.8 605.0,222.8 604.5,222.8 604.0,222.7 603.5,222.5 603.0,222.6 602.5,222.7 602.0,222.7 601.5,222.4 601.0,222.6 600.5,222.7 600.0,222.8 599.5,222.8 599.0,222.8 598.5,222.3 598.0,222.7 597.5,222.3 597.0,222.6 596.5,222.5 596.0,222.5 595.5,222.6 595.0,222.5 594.5,222.7 594.0,222.7 593.5,222.7 593.0,222.6 592.5,222.9 592.0,223.0 591.5,222.5 591.0,222.9 590.5,222.6 590.0,222.7 589.5,222.8 589.0,222.9 588.5,222.7 588.0,223.1 587.5,223.0 587.0,223.1 586.5,223.0 586.0,223.1 585.5,223.1 585.0,223.0 584.5,222.9 584.0,222.9 583.5,222.8 583.0,223.0 582.5,222.8 582.0,222.5 581.5,223.1 581.0,223.1 580.5,223.0 580.0,223.1 579.5,223.0 579.0,222.8 578.5,222.7 578.0,223.0 577.5,223.0 577.0,222.8 576.5,222.8 576.0,222.7 575.5,222.8 575.0,222.8 574.5,222.8 574.0,222.8 573.5,222.6 573.0,222.6 572.5,222.6 572.0,222.3 571.5,222.5 571.0,222.8 570.5,222.8 570.0,223.1 569.5,223.2 569.0,222.7 568.5,223.1 568.0,222.5 567.5,222.8 567.0,222.9 566.5,223.1 566.0,222.5 565.5,222.8 565.0,222.8 564.5,222.8 564.0,222.4 563.5,222.4 563.0,221.5 562.5,222.0 562.0,222.0 561.5,222.1 561.0,222.1 560.5,222.1 560.0,221.9 559.5,221.8 559.0,221.3 558.5,221.7 558.0,221.7 557.5,221.7 557.0,221.3 556.5,221.1 556.0,221.1 555.5,221.5 555.0,221.5 554.5,221.5 554.0,221.4 553.5,221.0 553.0,221.3 552.5,221.3 552.0,221.3 551.5,221.6 551.0,222.0 550.5,222.6 550.0,222.6 549.5,222.6 549.0,222.5 548.5,222.5 548.0,222.6 547.5,222.6 547.0,222.4 546.5,222.5 546.0,222.8 545.5,222.5 545.0,222.5 544.5,222.5 544.0,222.5 543.5,222.7 543.0,222.7 542.5,222.5 542.0,222.8 541.5,222.9 541.0,222.9 540.5,222.5 540.0,222.3 539.5,222.7 539.0,222.8 538.5,222.6 538.0,223.0 537.5,222.5 537.0,222.7 536.5,222.7 536.0,222.6 535.5,222.6 535.0,222.7 534.5,222.7 534.0,222.8 533.5,222.8 533.0,222.5 532.5,222.7 532.0,222.5 531.5,222.8 531.0,222.8 530.5,223.0 530.0,222.7 529.5,222.7 529.0,222.7 528.5,223.0 528.0,223.0 527.5,222.6 527.0,222.6 526.5,222.6 526.0,222.6 525.5,222.6 525.0,222.5 524.5,222.5 524.0,222.6 523.5,222.8 523.0,222.6 522.5,222.8 522.0,222.8 521.5,222.6 521.0,222.5 520.5,222.6 520.0,222.6 519.5,222.6 519.0,223.0 518.5,222.6 518.0,222.8 517.5,222.8 517.0,222.8 516.5,222.6 516.0,222.8 515.5,222.6 515.0,222.8 514.5,222.6 514.0,222.4 513.5,222.3 513.0,222.3 512.5,222.4 512.0,222.4 511.6,222.5 511.1,222.5 510.6,222.5 510.1,222.5 509.6,222.4 509.1,222.3 508.6,222.4 508.1,222.5 507.6,222.7 507.1,222.7 506.6,222.5 506.1,222.5 505.6,222.5 505.1,222.5 504.6,222.4 504.1,222.3 503.6,222.3 503.1,222.2 502.6,222.2 502.1,222.2 501.6,222.1 501.1,222.1 500.6,221.7 500.1,221.6 499.6,221.2 499.1,220.8 498.6,220.4 498.1,220.4 497.6,220.0 497.1,220.0 496.6,220.0 496.1,220.0 495.6,219.7 495.1,219.7 494.6,220.2 494.1,220.8 493.6,221.1 493.1,221.1 492.6,221.1 492.1,221.0 491.6,220.6 491.1,220.4 490.6,220.4 490.1,220.9 489.6,221.6 489.1,221.8 488.6,222.0 488.1,222.1 487.6,222.3 487.1,222.3 486.6,222.3 486.1,222.4 485.6,222.7 485.1,222.7 484.6,222.7 484.1,222.4 483.6,222.4 483.1,222.4 482.6,222.4 482.1,222.6 481.6,222.6 481.1,222.5 480.6,222.3 480.1,222.3 479.6,222.3 479.1,222.4 478.6,222.5 478.1,222.7 477.6,222.8 477.1,222.4 476.6,222.4 476.1,222.4 475.6,222.7 475.1,222.6 474.6,223.2 474.1,222.4 473.6,222.6 473.1,222.7 472.6,222.7 472.1,222.6 471.6,223.0 471.1,223.2 470.6,223.1 470.1,222.9 469.6,223.1 469.1,222.9 468.6,222.8 468.1,222.9 467.6,222.8 467.1,223.1 466.6,223.0 466.1,222.9 465.6,222.7 465.1,222.8 464.6,222.9 464.1,222.8 463.6,222.6 463.1,222.5 462.6,222.5 462.1,222.6 461.6,222.4 461.1,222.5 460.6,222.7 460.1,222.7 459.6,222.5 459.1,222.6 458.6,222.4 458.1,222.5 457.6,222.8 457.1,222.6 456.6,222.5 456.1,222.7 455.6,222.6 455.1,223.3 454.6,222.8 454.1,223.1 453.6,223.1 453.1,222.7 452.6,223.2 452.1,222.9 451.6,223.3 451.1,223.0 450.6,222.8 450.1,222.8 449.6,222.9 449.1,223.1 448.6,222.8 448.1,222.5 447.6,222.2 447.1,221.4 446.6,222.5 446.1,222.6 445.6,222.8 445.1,222.8 444.6,222.8 444.1,222.9 443.6,223.0 443.1,223.1 442.6,223.1 442.1,222.7 441.6,222.6 441.1,222.5 440.6,222.2 440.1,222.6 439.6,222.7 439.1,222.7 438.6,222.5 438.1,222.4 437.6,222.6 437.1,222.4 436.6,222.2 436.1,222.6 435.6,222.9 435.1,222.5 434.6,222.5 434.1,222.3 433.6,222.4 433.1,222.4 432.6,222.4 432.1,222.0 431.6,222.5 431.1,222.8 430.6,223.0 430.1,223.0 429.6,222.8 429.1,222.7 428.6,222.6 428.1,222.8 427.6,222.9 427.1,222.9 426.6,223.1 426.1,223.0 425.6,223.0 425.1,223.1 424.6,223.1 424.1,223.3 423.6,223.0 423.1,223.0 422.6,222.8 422.1,223.1 421.6,222.9 421.1,222.9 420.6,223.0 420.1,222.7 419.6,222.9 419.1,222.8 418.6,222.8 418.1,222.6 417.6,223.1 417.1,222.8 416.6,222.4 416.1,222.8 415.6,222.7 415.1,223.2 414.6,222.5 414.1,222.8 413.6,222.6 413.1,222.3 412.6,222.8 412.1,222.7 411.6,222.6 411.1,223.1 410.6,222.8 410.1,222.6 409.6,222.6 409.1,223.0 408.6,222.7 408.1,222.6 407.6,222.8 407.1,223.0 406.6,222.7 406.1,222.7 405.6,222.8 405.1,223.0 404.6,222.8 404.1,223.0 403.6,222.7 403.1,223.2 402.6,222.8 402.1,223.3 401.6,223.1 401.1,223.0 400.6,222.8 400.1,222.8 399.6,222.8 399.1,222.9 398.6,223.0 398.1,222.9 397.6,222.9 397.1,223.1 396.6,222.9 396.1,222.5 395.6,223.2 395.1,223.1 394.6,222.9 394.1,222.9 393.6,222.9 393.1,222.9 392.6,223.0 392.1,223.3 391.6,223.0 391.1,222.7 390.6,223.0 390.1,223.0 389.6,222.4 389.1,222.8 388.6,223.0 388.1,222.4 387.6,222.3 387.1,222.5 386.6,222.8 386.1,223.0 385.6,222.5 385.1,222.8 384.6,222.6 384.1,222.4 383.6,222.5 383.1,222.5 382.6,222.3 382.1,222.5 381.6,222.5 381.1,222.4 380.6,222.7 380.1,222.7 379.6,222.6 379.1,222.7 378.6,222.6 378.1,222.4 377.6,222.8 377.1,222.9 376.6,222.6 376.1,222.5 375.6,222.6 375.1,222.5 374.6,222.5 374.1,222.7 373.6,222.7 373.1,223.2 372.6,222.8 372.1,222.7 371.6,222.8 371.1,222.7 370.6,222.6 370.1,223.0 369.6,222.8 369.1,223.0 368.6,222.9 368.1,223.1 367.6,223.1 367.1,223.1 366.6,222.5 366.1,222.6 365.6,223.0 365.1,223.2 364.6,223.1 364.1,222.8 363.6,223.0 363.1,222.7 362.6,223.0 362.1,222.4 361.6,222.7 361.1,222.7 360.6,222.6 360.1,222.7 359.6,222.8 359.1,222.8 358.6,222.7 358.1,222.6 357.6,222.7 357.1,223.0 356.6,222.3 356.1,222.6 355.6,222.7 355.1,222.7 354.6,222.9 354.1,222.6 353.6,222.8 353.1,223.0 352.6,222.5 352.1,222.8 351.6,222.8 351.1,222.8 350.6,222.9 350.1,222.8 349.6,222.7 349.1,222.7 348.6,222.5 348.1,222.5 347.6,222.7 347.1,222.5 346.6,222.5 346.1,222.8 345.6,223.1 345.1,222.7 344.6,222.7 344.1,222.7 343.6,223.0 343.1,222.9 342.6,222.9 342.1,222.9 341.6,223.0 341.1,223.0 340.6,222.8 340.1,223.0 339.6,222.8 339.1,222.7 338.6,222.8 338.1,222.8 337.6,223.2 337.1,222.6 336.6,222.5 336.1,222.9 335.6,222.7 335.1,222.7 334.6,222.5 334.1,222.7 333.6,222.6 333.1,222.8 332.6,222.4 332.1,223.1 331.6,222.8 331.1,222.8 330.6,222.7 330.1,223.3 329.6,222.8 329.1,222.7 328.6,223.2 328.1,222.9 327.6,222.8 327.1,223.0 326.6,222.9 326.1,222.7 325.6,222.9 325.1,222.5 324.6,222.3 324.1,222.7 323.6,222.5 323.1,222.3 322.6,223.2 322.1,222.8 321.6,222.4 321.1,222.7 320.6,222.9 320.1,222.6 319.6,222.5 319.1,222.3 318.6,222.8 318.1,222.6 317.6,222.9 317.1,222.6 316.6,222.8 316.1,222.5 315.6,222.7 315.1,223.3 314.6,222.6 314.1,222.6 313.6,222.7 313.1,222.7 312.6,222.9 312.1,222.8 311.6,222.7 311.1,222.6 310.6,222.4 310.1,222.6 309.6,222.7 309.1,222.9 308.6,222.8 308.1,222.5 307.6,222.5 307.1,222.6 306.6,222.7 306.1,222.6 305.6,223.0 305.1,223.0 304.6,223.2 304.1,222.7 303.6,222.8 303.1,222.9 302.6,222.6 302.1,222.8 301.6,223.1 301.1,223.0 300.6,222.8 300.1,222.9 299.6,222.6 299.1,222.8 298.6,222.7 298.1,222.5 297.6,222.8 297.1,222.6 296.6,222.7 296.1,222.8 295.6,222.8 295.1,223.0 294.6,222.4 294.1,222.4 293.6,222.6 293.1,222.7 292.6,222.8 292.1,222.7 291.6,222.7 291.1,222.7 290.6,222.6 290.1,222.5 289.6,222.6 289.1,222.5 288.6,222.3 288.1,222.7 287.6,222.7 287.1,223.0 286.6,223.2 286.1,222.6 285.6,222.7 285.1,222.6 284.6,222.5 284.1,222.2 283.6,222.6 283.1,222.4 282.6,222.6 282.1,222.7 281.6,222.7 281.1,222.7 280.6,222.7 280.1,222.4 279.6,222.3 279.1,222.3 278.6,222.3 278.1,222.0 277.6,222.4 277.1,222.4 276.6,222.4 276.1,222.5 275.6,222.4 275.1,222.8 274.6,222.6 274.1,222.4 273.6,222.3 273.1,222.8 272.6,222.5 272.1,222.5 271.6,222.5 271.1,222.4 270.6,222.2 270.1,222.4 269.6,222.1 269.1,222.1 268.6,222.1 268.1,222.0 267.6,222.3 267.1,222.3 266.6,222.4 266.1,222.6 265.6,222.8 265.1,222.7 264.6,222.6 264.1,222.6 263.6,222.1 263.1,222.6 262.6,222.8 262.1,222.8 261.6,222.6 261.1,222.9 260.6,222.7 260.1,222.6 259.6,222.6 259.1,222.4 258.6,222.5 258.1,222.5 257.6,222.3 257.1,221.8 256.6,221.9 256.1,222.3 255.6,222.6 255.1,222.7 254.6,223.0 254.1,223.0 253.6,222.6 253.1,222.5 252.6,222.6 252.1,222.5 251.6,222.7 251.1,222.7 250.6,222.6 250.1,222.5 249.6,222.8 249.1,222.7 248.6,222.8 248.1,222.7 247.6,222.7 247.1,222.6 246.6,222.9 246.1,222.9 245.6,222.5 245.1,223.0 244.6,222.7 244.1,222.4 243.6,222.8 243.1,222.8 242.6,223.0 242.1,222.9 241.6,222.5 241.1,222.6 240.6,222.4 240.1,222.9 239.6,222.6 239.1,222.5 238.6,222.8 238.1,222.4" fill="#4f9a50" stroke="#4f9a50" stroke-width="0.6" stroke-linejoin="round" style="mix-blend-mode:multiply"/>
<polygon points="238.1,288.9 238.6,289.9 239.1,289.3 239.6,289.9 240.1,290.6 240.6,289.6 241.1,290.8 241.6,292.1 242.1,291.9 242.6,291.3 243.1,289.5 243.6,289.1 244.1,291.4 244.6,292.1 245.1,290.5 245.6,289.6 246.1,293.6 246.6,291.4 247.1,291.4 247.6,290.3 248.1,291.5 248.6,290.8 249.1,289.6 249.6,288.3 250.1,286.8 250.6,288.5 251.1,290.5 251.6,287.4 252.1,288.7 252.6,286.7 253.1,286.4 253.6,289.5 254.1,285.6 254.6,288.3 255.1,289.0 255.6,289.4 256.1,289.5 256.6,291.7 257.1,290.0 257.6,290.1 258.1,255.1 258.6,261.0 259.1,288.7 259.6,291.1 260.1,291.2 260.6,290.7 261.1,289.9 261.6,290.7 262.1,289.7 262.6,290.4 263.1,289.1 263.6,290.3 264.1,291.8 264.6,291.9 265.1,284.1 265.6,248.6 266.1,270.3 266.6,289.9 267.1,285.9 267.6,248.7 268.1,269.6 268.6,289.8 269.1,286.4 269.6,252.1 270.1,268.3 270.6,288.7 271.1,288.3 271.6,290.8 272.1,290.7 272.6,290.8 273.1,289.4 273.6,290.4 274.1,288.9 274.6,287.3 275.1,289.8 275.6,290.3 276.1,289.0 276.6,289.0 277.1,288.8 277.6,289.0 278.1,288.0 278.6,250.7 279.1,254.8 279.6,287.2 280.1,288.4 280.6,288.9 281.1,290.5 281.6,291.0 282.1,290.9 282.6,291.2 283.1,291.2 283.6,290.8 284.1,291.0 284.6,290.1 285.1,287.7 285.6,290.8 286.1,290.8 286.6,289.8 287.1,288.3 287.6,290.5 288.1,288.3 288.6,290.2 289.1,290.2 289.6,289.4 290.1,289.1 290.6,290.5 291.1,288.7 291.6,289.5 292.1,289.7 292.6,290.9 293.1,291.1 293.6,290.8 294.1,290.3 294.6,290.8 295.1,290.8 295.6,290.2 296.1,289.8 296.6,289.0 297.1,291.8 297.6,289.9 298.1,290.8 298.6,289.9 299.1,291.0 299.6,292.0 300.1,289.7 300.6,291.5 301.1,289.6 301.6,292.1 302.1,291.3 302.6,291.8 303.1,289.6 303.6,290.1 304.1,290.2 304.6,287.7 305.1,291.2 305.6,289.3 306.1,290.0 306.6,289.3 307.1,288.3 307.6,288.8 308.1,289.7 308.6,287.5 309.1,290.0 309.6,288.7 310.1,287.5 310.6,289.9 311.1,288.6 311.6,289.8 312.1,287.5 312.6,290.6 313.1,288.6 313.6,290.2 314.1,290.8 314.6,289.7 315.1,289.4 315.6,290.7 316.1,291.5 316.6,290.2 317.1,290.3 317.6,292.2 318.1,291.1 318.6,291.2 319.1,292.0 319.6,291.9 320.1,290.7 320.6,291.7 321.1,291.0 321.6,290.6 322.1,291.5 322.6,288.5 323.1,290.8 323.6,289.3 324.1,289.5 324.6,289.5 325.1,289.4 325.6,289.6 326.1,288.4 326.6,288.5 327.1,289.9 327.6,290.0 328.1,288.4 328.6,290.8 329.1,289.6 329.6,289.8 330.1,289.1 330.6,290.4 331.1,289.8 331.6,290.3 332.1,289.3 332.6,291.0 333.1,291.0 333.6,291.2 334.1,291.8 334.6,292.1 335.1,290.5 335.6,292.8 336.1,290.5 336.6,289.8 337.1,290.3 337.6,290.5 338.1,289.2 338.6,290.6 339.1,289.9 339.6,289.6 340.1,291.0 340.6,289.4 341.1,287.7 341.6,288.8 342.1,290.1 342.6,290.2 343.1,289.9 343.6,291.0 344.1,286.9 344.6,291.3 345.1,290.5 345.6,290.2 346.1,289.0 346.6,289.8 347.1,290.6 347.6,291.5 348.1,291.9 348.6,288.6 349.1,289.3 349.6,291.0 350.1,290.4 350.6,291.4 351.1,288.3 351.6,291.2 352.1,290.4 352.6,291.5 353.1,289.3 353.6,290.5 354.1,290.1 354.6,290.5 355.1,291.5 355.6,291.1 356.1,289.6 356.6,289.1 357.1,290.8 357.6,289.4 358.1,291.0 358.6,290.0 359.1,290.5 359.6,290.2 360.1,290.5 360.6,293.6 361.1,291.4 361.6,292.0 362.1,291.8 362.6,292.8 363.1,291.1 363.6,291.8 364.1,292.9 364.6,291.5 365.1,292.0 365.6,289.1 366.1,290.0 366.6,289.7 367.1,290.9 367.6,290.9 368.1,289.5 368.6,290.0 369.1,289.2 369.6,290.2 370.1,288.2 370.6,288.7 371.1,290.5 371.6,290.9 372.1,289.2 372.6,288.4 373.1,287.5 373.6,288.2 374.1,287.7 374.6,289.8 375.1,289.7 375.6,289.5 376.1,289.6 376.6,289.8 377.1,290.0 377.6,290.6 378.1,289.8 378.6,289.6 379.1,290.9 379.6,287.9 380.1,289.7 380.6,290.9 381.1,289.9 381.6,289.7 382.1,290.7 382.6,291.4 383.1,289.9 383.6,291.9 384.1,288.6 384.6,288.7 385.1,289.9 385.6,289.6 386.1,290.2 386.6,289.1 387.1,288.6 387.6,290.6 388.1,291.5 388.6,290.4 389.1,291.1 389.6,289.9 390.1,290.1 390.6,290.5 391.1,289.9 391.6,290.2 392.1,289.8 392.6,289.9 393.1,289.8 393.6,290.7 394.1,290.2 394.6,288.7 395.1,287.9 395.6,289.0 396.1,288.2 396.6,290.4 397.1,287.4 397.6,290.2 398.1,289.5 398.6,289.6 399.1,288.9 399.6,290.1 400.1,290.6 400.6,290.8 401.1,291.6 401.6,289.5 402.1,290.2 402.6,290.0 403.1,290.5 403.6,289.0 404.1,291.4 404.6,290.8 405.1,289.9 405.6,290.6 406.1,289.4 406.6,289.5 407.1,288.8 407.6,289.3 408.1,291.5 408.6,291.4 409.1,289.6 409.6,288.6 410.1,291.0 410.6,288.8 411.1,291.2 411.6,289.8 412.1,288.9 412.6,290.7 413.1,289.7 413.6,289.9 414.1,292.3 414.6,289.7 415.1,292.0 415.6,292.2 416.1,293.4 416.6,291.3 417.1,290.3 417.6,293.3 418.1,292.5 418.6,291.7 419.1,292.5 419.6,291.1 420.1,292.9 420.6,292.2 421.1,292.3 421.6,290.1 422.1,292.6 422.6,289.6 423.1,290.4 423.6,290.6 424.1,288.6 424.6,291.0 425.1,288.8 425.6,291.1 426.1,290.2 426.6,290.8 427.1,291.6 427.6,289.0 428.1,288.7 428.6,289.8 429.1,289.4 429.6,290.7 430.1,291.3 430.6,289.6 431.1,292.2 431.6,291.8 432.1,292.6 432.6,291.4 433.1,291.5 433.6,291.3 434.1,251.2 434.6,268.1 435.1,290.5 435.6,289.4 436.1,288.8 436.6,289.6 437.1,286.9 437.6,288.6 438.1,289.1 438.6,288.2 439.1,253.8 439.6,254.6 440.1,287.3 440.6,287.8 441.1,288.2 441.6,288.4 442.1,289.4 442.6,289.6 443.1,287.7 443.6,288.1 444.1,289.2 444.6,289.0 445.1,290.8 445.6,255.3 446.1,250.9 446.6,289.4 447.1,291.4 447.6,257.1 448.1,256.6 448.6,291.2 449.1,292.0 449.6,291.3 450.1,292.6 450.6,290.9 451.1,289.5 451.6,291.2 452.1,291.4 452.6,290.9 453.1,290.2 453.6,290.5 454.1,289.8 454.6,291.0 455.1,287.9 455.6,289.4 456.1,288.3 456.6,288.2 457.1,288.8 457.6,288.7 458.1,287.7 458.6,288.3 459.1,288.5 459.6,288.8 460.1,289.1 460.6,289.3 461.1,287.3 461.6,288.2 462.1,287.5 462.6,288.2 463.1,287.9 463.6,288.7 464.1,287.4 464.6,288.6 465.1,289.8 465.6,289.4 466.1,288.6 466.6,289.2 467.1,288.9 467.6,289.2 468.1,289.6 468.6,289.3 469.1,288.9 469.6,290.6 470.1,287.9 470.6,290.3 471.1,290.1 471.6,289.4 472.1,290.1 472.6,288.9 473.1,291.1 473.6,290.8 474.1,289.2 474.6,289.2 475.1,290.0 475.6,287.6 476.1,289.5 476.6,290.2 477.1,289.6 477.6,289.7 478.1,290.1 478.6,290.5 479.1,290.0 479.6,290.7 480.1,290.1 480.6,291.9 481.1,291.6 481.6,289.6 482.1,289.6 482.6,288.9 483.1,290.1 483.6,290.4 484.1,289.9 484.6,290.3 485.1,288.3 485.6,288.3 486.1,288.6 486.6,287.9 487.1,290.0 487.6,289.4 488.1,287.7 488.6,287.1 489.1,289.1 489.6,290.9 490.1,287.2 490.6,288.3 491.1,287.5 491.6,287.1 492.1,252.9 492.6,235.8 493.1,244.5 493.6,249.0 494.1,241.9 494.6,259.7 495.1,282.1 495.6,249.1 496.1,246.1 496.6,257.2 497.1,281.4 497.6,277.1 498.1,218.6 498.6,220.2 499.1,271.6 499.6,248.1 500.1,248.3 500.6,285.8 501.1,287.6 501.6,290.2 502.1,289.0 502.6,288.7 503.1,292.1 503.6,290.4 504.1,290.8 504.6,289.4 505.1,290.9 505.6,290.3 506.1,290.1 506.6,291.3 507.1,293.2 507.6,289.3 508.1,290.3 508.6,290.6 509.1,291.2 509.6,291.9 510.1,292.0 510.6,288.1 511.1,291.2 511.6,290.6 512.0,292.3 512.5,291.5 513.0,289.5 513.5,254.1 514.0,256.1 514.5,290.0 515.0,290.2 515.5,288.7 516.0,289.4 516.5,288.4 517.0,289.1 517.5,288.1 518.0,289.5 518.5,290.1 519.0,290.9 519.5,289.5 520.0,288.8 520.5,288.9 521.0,288.4 521.5,288.3 522.0,290.3 522.5,290.2 523.0,288.7 523.5,289.6 524.0,289.1 524.5,288.1 525.0,288.4 525.5,289.8 526.0,289.4 526.5,289.5 527.0,290.3 527.5,289.5 528.0,290.3 528.5,290.7 529.0,288.8 529.5,290.2 530.0,289.2 530.5,289.0 531.0,289.1 531.5,288.9 532.0,289.1 532.5,290.0 533.0,289.1 533.5,287.0 534.0,289.3 534.5,288.9 535.0,287.9 535.5,285.5 536.0,289.4 536.5,289.0 537.0,287.8 537.5,289.6 538.0,289.1 538.5,289.6 539.0,288.6 539.5,289.4 540.0,289.0 540.5,289.7 541.0,289.3 541.5,290.2 542.0,290.3 542.5,290.8 543.0,288.9 543.5,288.5 544.0,290.3 544.5,290.2 545.0,289.7 545.5,291.4 546.0,291.4 546.5,292.3 547.0,289.0 547.5,288.9 548.0,289.5 548.5,289.1 549.0,287.6 549.5,290.1 550.0,290.2 550.5,289.6 551.0,291.0 551.5,291.8 552.0,258.7 552.5,256.8 553.0,290.7 553.5,256.2 554.0,258.5 554.5,289.8 555.0,289.0 555.5,289.3 556.0,290.1 556.5,250.8 557.0,253.7 557.5,288.7 558.0,253.1 558.5,249.4 559.0,286.1 559.5,289.7 560.0,288.7 560.5,287.2 561.0,288.9 561.5,289.8 562.0,287.8 562.5,289.3 563.0,289.8 563.5,288.1 564.0,288.5 564.5,289.6 565.0,263.0 565.5,245.4 566.0,283.2 566.5,288.6 567.0,287.6 567.5,286.2 568.0,287.7 568.5,289.6 569.0,289.6 569.5,289.5 570.0,287.3 570.5,289.5 571.0,288.7 571.5,287.9 572.0,289.7 572.5,289.7 573.0,288.6 573.5,289.1 574.0,289.8 574.5,287.8 575.0,290.7 575.5,288.8 576.0,290.2 576.5,289.4 577.0,289.7 577.5,291.7 578.0,291.2 578.5,291.4 579.0,289.8 579.5,290.9 580.0,290.3 580.5,289.3 581.0,289.5 581.5,288.1 582.0,289.7 582.5,289.9 583.0,288.0 583.5,289.7 584.0,288.0 584.5,288.7 585.0,289.4 585.5,288.5 586.0,288.0 586.5,289.6 587.0,290.0 587.5,289.2 588.0,290.0 588.5,288.3 589.0,288.2 589.5,291.6 590.0,290.3 590.5,290.6 591.0,289.2 591.5,291.3 592.0,291.3 592.5,289.8 593.0,291.1 593.5,290.9 594.0,292.7 594.5,290.4 595.0,290.2 595.5,290.1 596.0,290.6 596.5,288.2 597.0,290.3 597.5,290.7 598.0,291.6 598.5,291.4 599.0,292.6 599.5,291.4 600.0,292.9 600.5,290.9 601.0,290.4 601.5,291.2 602.0,289.7 602.5,289.8 603.0,289.4 603.5,289.1 604.0,290.0 604.5,289.2 605.0,291.0 605.5,288.4 606.0,290.4 606.5,289.1 607.0,290.2 607.5,288.2 608.0,291.3 608.5,290.3 609.0,290.9 609.5,291.9 610.0,291.4 610.5,290.3 611.0,291.0 611.5,290.6 612.0,289.4 612.5,289.4 613.0,291.8 613.5,288.5 614.0,289.8 614.5,288.9 615.0,290.5 615.5,291.0 616.0,291.6 616.5,292.5 617.0,291.2 617.5,290.0 618.0,290.8 618.5,289.9 619.0,289.6 619.5,290.6 620.0,291.0 620.5,290.4 621.0,290.5 621.5,290.1 622.0,289.2 622.5,290.4 623.0,290.6 623.5,291.1 624.0,290.4 624.5,291.1 625.0,289.7 625.5,287.7 626.0,289.4 626.5,287.7 627.0,285.5 627.5,246.7 628.0,239.4 628.5,238.7 629.0,248.1 629.5,272.3 630.0,253.3 630.5,255.0 631.0,272.8 631.5,286.7 632.0,287.8 632.5,289.1 633.0,288.9 633.5,290.2 634.0,288.8 634.5,288.3 635.0,289.2 635.5,290.0 636.0,287.8 636.5,290.5 637.0,287.9 637.5,289.6 638.0,289.8 638.5,290.0 639.0,290.1 639.5,289.8 640.0,288.2 640.5,288.7 641.0,289.6 641.5,290.8 642.0,288.9 642.5,289.0 643.0,292.0 643.5,290.5 644.0,290.5 644.5,288.7 645.0,290.4 645.5,288.2 646.0,291.1 646.5,286.3 647.0,290.5 647.5,290.8 648.0,290.8 648.5,289.9 649.0,289.8 649.5,292.2 650.0,291.4 650.5,293.4 651.0,293.8 651.5,294.0 652.0,291.5 652.5,290.0 653.0,291.7 653.5,292.0 654.0,291.6 654.5,291.7 655.0,291.9 655.5,291.5 656.0,292.0 656.5,288.9 657.0,292.6 657.5,290.5 658.0,289.4 658.5,290.3 659.0,289.8 659.5,289.5 660.0,290.7 660.0,292.3 659.5,293.7 659.0,292.4 658.5,294.6 658.0,294.6 657.5,296.1 657.0,294.6 656.5,296.0 656.0,295.1 655.5,296.9 655.0,295.3 654.5,295.0 654.0,298.0 653.5,295.2 653.0,295.7 652.5,295.5 652.0,294.8 651.5,295.8 651.0,295.9 650.5,297.4 650.0,295.2 649.5,295.5 649.0,295.4 648.5,294.1 648.0,294.0 647.5,293.8 647.0,295.8 646.5,295.8 646.0,295.7 645.5,293.5 645.0,292.7 644.5,292.3 644.0,293.4 643.5,294.3 643.0,295.6 642.5,294.3 642.0,293.4 641.5,293.7 641.0,294.3 640.5,294.3 640.0,293.1 639.5,291.9 639.0,294.2 638.5,293.9 638.0,293.6 637.5,294.3 637.0,294.4 636.5,293.7 636.0,294.2 635.5,293.9 635.0,292.4 634.5,294.3 634.0,293.0 633.5,293.9 633.0,292.8 632.5,293.7 632.0,293.7 631.5,293.3 631.0,292.7 630.5,289.3 630.0,285.6 629.5,285.6 629.0,285.6 628.5,280.2 628.0,278.8 627.5,291.8 627.0,292.5 626.5,293.6 626.0,293.6 625.5,293.3 625.0,293.2 624.5,293.5 624.0,294.5 623.5,293.6 623.0,294.3 622.5,294.0 622.0,294.3 621.5,294.5 621.0,294.4 620.5,295.0 620.0,295.0 619.5,295.0 619.0,295.6 618.5,294.0 618.0,294.3 617.5,294.8 617.0,295.2 616.5,294.5 616.0,294.7 615.5,295.4 615.0,294.5 614.5,293.5 614.0,294.3 613.5,292.2 613.0,294.1 612.5,293.8 612.0,295.7 611.5,296.2 611.0,293.7 610.5,294.0 610.0,294.0 609.5,295.0 609.0,294.1 608.5,293.7 608.0,293.4 607.5,291.9 607.0,292.0 606.5,294.7 606.0,293.8 605.5,295.6 605.0,293.8 604.5,293.8 604.0,294.3 603.5,294.6 603.0,295.9 602.5,292.2 602.0,293.2 601.5,294.0 601.0,294.6 600.5,294.4 600.0,296.3 599.5,295.4 599.0,295.4 598.5,294.9 598.0,295.6 597.5,295.6 597.0,293.8 596.5,294.7 596.0,292.4 595.5,294.5 595.0,294.1 594.5,295.4 594.0,295.3 593.5,295.8 593.0,296.1 592.5,292.4 592.0,295.1 591.5,295.2 591.0,294.0 590.5,293.9 590.0,294.5 589.5,294.2 589.0,292.3 588.5,296.1 588.0,295.4 587.5,292.2 587.0,293.2 586.5,294.4 586.0,291.8 585.5,292.1 585.0,291.6 584.5,291.7 584.0,292.0 583.5,292.9 583.0,292.4 582.5,294.2 582.0,293.0 581.5,295.7 581.0,293.2 580.5,294.8 580.0,292.7 579.5,294.0 579.0,292.7 578.5,293.4 578.0,294.1 577.5,293.8 577.0,294.6 576.5,293.8 576.0,292.7 575.5,293.0 575.0,293.0 574.5,294.7 574.0,292.6 573.5,293.4 573.0,293.7 572.5,293.4 572.0,294.3 571.5,292.1 571.0,292.3 570.5,292.7 570.0,292.9 569.5,293.0 569.0,293.0 568.5,292.2 568.0,291.8 567.5,292.5 567.0,291.5 566.5,291.0 566.0,290.9 565.5,291.3 565.0,292.1 564.5,294.4 564.0,292.4 563.5,291.2 563.0,292.7 562.5,291.6 562.0,291.4 561.5,292.8 561.0,293.4 560.5,295.3 560.0,294.4 559.5,293.4 559.0,293.0 558.5,291.7 558.0,292.8 557.5,292.8 557.0,292.5 556.5,291.6 556.0,292.5 555.5,292.5 555.0,294.4 554.5,295.3 554.0,293.8 553.5,293.5 553.0,293.5 552.5,293.5 552.0,294.7 551.5,295.3 551.0,295.3 550.5,295.2 550.0,295.1 549.5,293.2 549.0,293.2 548.5,293.2 548.0,292.8 547.5,294.4 547.0,292.6 546.5,295.3 546.0,294.1 545.5,294.0 545.0,293.3 544.5,293.6 544.0,292.6 543.5,292.9 543.0,292.9 542.5,292.7 542.0,293.5 541.5,293.5 541.0,293.5 540.5,295.4 540.0,293.1 539.5,293.8 539.0,292.3 538.5,292.9 538.0,291.1 537.5,293.2 537.0,293.4 536.5,290.9 536.0,291.9 535.5,292.8 535.0,290.9 534.5,292.2 534.0,291.8 533.5,292.4 533.0,293.8 532.5,291.8 532.0,293.4 531.5,293.4 531.0,293.4 530.5,291.5 530.0,292.3 529.5,293.5 529.0,293.7 528.5,293.9 528.0,294.2 527.5,293.3 527.0,293.6 526.5,293.6 526.0,293.6 525.5,292.3 525.0,293.1 524.5,291.7 524.0,295.8 523.5,293.5 523.0,293.3 522.5,293.3 522.0,292.8 521.5,293.2 521.0,291.6 520.5,290.8 520.0,292.7 519.5,292.9 519.0,293.3 518.5,292.7 518.0,292.7 517.5,293.7 517.0,291.7 516.5,293.3 516.0,293.3 515.5,294.8 515.0,293.9 514.5,294.6 514.0,294.6 513.5,292.3 513.0,292.9 512.5,294.2 512.0,295.5 511.6,293.6 511.1,296.3 510.6,293.4 510.1,294.0 509.6,294.4 509.1,293.2 508.6,293.4 508.1,293.6 507.6,296.9 507.1,296.6 506.6,295.0 506.1,294.1 505.6,294.2 505.1,293.7 504.6,294.0 504.1,294.8 503.6,294.8 503.1,294.7 502.6,293.8 502.1,293.4 501.6,293.4 501.1,293.2 500.6,290.3 500.1,290.1 499.6,288.2 499.1,288.2 498.6,288.2 498.1,285.7 497.6,285.7 497.1,285.7 496.6,284.7 496.1,283.5 495.6,286.5 495.1,286.5 494.6,286.5 494.1,287.1 493.6,287.1 493.1,287.1 492.6,288.0 492.1,291.3 491.6,291.9 491.1,291.9 490.6,291.9 490.1,292.7 489.6,293.1 489.1,293.5 488.6,293.5 488.1,292.3 487.6,291.9 487.1,291.9 486.6,292.4 486.1,293.0 485.6,293.0 485.1,293.2 484.6,293.7 484.1,293.3 483.6,294.0 483.1,295.1 482.6,293.8 482.1,294.2 481.6,294.6 481.1,294.8 480.6,294.8 480.1,292.6 479.6,295.3 479.1,293.7 478.6,291.2 478.1,292.6 477.6,292.9 477.1,293.0 476.6,293.6 476.1,293.7 475.6,293.5 475.1,292.9 474.6,292.6 474.1,293.5 473.6,293.7 473.1,293.4 472.6,291.3 472.1,294.2 471.6,291.1 471.1,294.5 470.6,294.5 470.1,293.8 469.6,292.5 469.1,291.8 468.6,293.1 468.1,293.4 467.6,291.6 467.1,292.5 466.6,292.5 466.1,292.1 465.6,292.2 465.1,292.8 464.6,294.6 464.1,292.1 463.6,292.1 463.1,291.7 462.6,291.4 462.1,294.0 461.6,291.7 461.1,292.5 460.6,290.0 460.1,293.2 459.6,291.3 459.1,293.1 458.6,293.1 458.1,291.5 457.6,292.6 457.1,292.7 456.6,291.9 456.1,293.0 455.6,293.1 455.1,292.2 454.6,293.1 454.1,291.7 453.6,293.4 453.1,294.2 452.6,294.2 452.1,293.7 451.6,295.2 451.1,294.9 450.6,295.6 450.1,294.3 449.6,294.4 449.1,295.0 448.6,295.0 448.1,293.7 447.6,293.1 447.1,293.1 446.6,293.1 446.1,292.7 445.6,293.3 445.1,293.3 444.6,292.5 444.1,292.4 443.6,291.9 443.1,293.6 442.6,292.8 442.1,292.8 441.6,291.2 441.1,292.8 440.6,292.8 440.1,292.7 439.6,292.1 439.1,291.5 438.6,291.0 438.1,292.6 437.6,292.5 437.1,293.1 436.6,293.3 436.1,292.8 435.6,293.1 435.1,294.6 434.6,294.6 434.1,294.9 433.6,295.4 433.1,295.6 432.6,295.8 432.1,296.2 431.6,295.2 431.1,296.8 430.6,295.2 430.1,295.4 429.6,295.3 429.1,293.6 428.6,293.0 428.1,295.5 427.6,293.8 427.1,294.2 426.6,293.2 426.1,295.1 425.6,293.5 425.1,293.0 424.6,293.3 424.1,293.9 423.6,292.9 423.1,293.5 422.6,293.1 422.1,294.7 421.6,293.7 421.1,295.1 420.6,295.3 420.1,295.5 419.6,297.9 419.1,294.8 418.6,295.7 418.1,295.7 417.6,295.7 417.1,295.1 416.6,295.8 416.1,295.6 415.6,296.2 415.1,294.6 414.6,297.7 414.1,295.4 413.6,293.5 413.1,293.6 412.6,293.8 412.1,294.7 411.6,294.0 411.1,295.0 410.6,293.5 410.1,293.4 409.6,294.8 409.1,291.8 408.6,295.0 408.1,294.7 407.6,292.4 407.1,292.1 406.6,292.7 406.1,292.5 405.6,292.6 405.1,292.9 404.6,293.8 404.1,295.3 403.6,294.5 403.1,293.5 402.6,293.9 402.1,293.7 401.6,292.9 401.1,294.2 400.6,292.9 400.1,294.9 399.6,294.6 399.1,292.9 398.6,295.2 398.1,294.0 397.6,294.0 397.1,291.5 396.6,293.8 396.1,292.1 395.6,293.9 395.1,292.4 394.6,293.0 394.1,293.8 393.6,294.2 393.1,293.7 392.6,294.7 392.1,294.1 391.6,294.1 391.1,293.9 390.6,293.2 390.1,294.8 389.6,294.6 389.1,294.0 388.6,295.1 388.1,295.2 387.6,292.5 387.1,293.0 386.6,294.3 386.1,293.7 385.6,293.6 385.1,293.5 384.6,292.1 384.1,291.7 383.6,293.4 383.1,294.4 382.6,292.6 382.1,295.4 381.6,294.3 381.1,293.9 380.6,293.4 380.1,294.2 379.6,294.2 379.1,294.4 378.6,292.8 378.1,293.9 377.6,297.7 377.1,292.1 376.6,293.3 376.1,291.6 375.6,296.7 375.1,294.0 374.6,294.4 374.1,292.8 373.6,293.5 373.1,293.4 372.6,294.0 372.1,293.3 371.6,295.0 371.1,293.8 370.6,294.0 370.1,292.7 369.6,293.0 369.1,293.7 368.6,291.4 368.1,294.5 367.6,292.6 367.1,295.5 366.6,294.9 366.1,293.9 365.6,295.4 365.1,294.5 364.6,294.9 364.1,296.8 363.6,294.4 363.1,295.7 362.6,295.6 362.1,295.1 361.6,294.7 361.1,296.0 360.6,295.8 360.1,295.2 359.6,294.4 359.1,294.0 358.6,293.2 358.1,294.3 357.6,292.4 357.1,294.7 356.6,294.3 356.1,294.0 355.6,295.4 355.1,294.9 354.6,296.9 354.1,293.1 353.6,293.8 353.1,292.9 352.6,292.9 352.1,295.0 351.6,295.1 351.1,294.9 350.6,296.8 350.1,293.1 349.6,294.4 349.1,293.1 348.6,293.1 348.1,295.2 347.6,294.4 347.1,294.7 346.6,293.7 346.1,296.9 345.6,294.6 345.1,293.7 344.6,295.6 344.1,293.8 343.6,296.1 343.1,294.1 342.6,295.2 342.1,293.9 341.6,294.1 341.1,293.5 340.6,291.7 340.1,293.1 339.6,293.9 339.1,293.2 338.6,294.2 338.1,294.3 337.6,292.6 337.1,293.2 336.6,293.2 336.1,292.9 335.6,294.9 335.1,294.4 334.6,295.5 334.1,295.3 333.6,295.6 333.1,293.4 332.6,294.2 332.1,293.2 331.6,293.9 331.1,293.8 330.6,293.8 330.1,293.6 329.6,292.0 329.1,294.0 328.6,293.6 328.1,293.8 327.6,293.6 327.1,292.0 326.6,291.6 326.1,292.1 325.6,294.0 325.1,292.2 324.6,292.2 324.1,292.3 323.6,293.7 323.1,294.8 322.6,293.7 322.1,294.1 321.6,294.4 321.1,295.4 320.6,295.7 320.1,295.4 319.6,294.5 319.1,294.7 318.6,293.4 318.1,295.0 317.6,295.7 317.1,292.8 316.6,294.0 316.1,294.2 315.6,293.7 315.1,294.6 314.6,295.0 314.1,295.1 313.6,293.9 313.1,292.0 312.6,293.7 312.1,292.8 311.6,293.4 311.1,292.6 310.6,293.5 310.1,293.4 309.6,292.4 309.1,294.6 308.6,292.6 308.1,295.1 307.6,292.4 307.1,292.6 306.6,293.7 306.1,293.0 305.6,294.0 305.1,293.8 304.6,293.0 304.1,292.1 303.6,292.8 303.1,295.4 302.6,293.6 302.1,294.1 301.6,294.9 301.1,293.9 300.6,294.6 300.1,293.3 299.6,295.2 299.1,293.5 298.6,293.8 298.1,295.9 297.6,295.5 297.1,294.9 296.6,295.0 296.1,295.5 295.6,292.9 295.1,292.7 294.6,293.8 294.1,292.7 293.6,292.5 293.1,292.5 292.6,292.7 292.1,294.0 291.6,292.9 291.1,291.6 290.6,293.6 290.1,293.5 289.6,293.0 289.1,291.5 288.6,292.9 288.1,292.9 287.6,293.5 287.1,295.4 286.6,294.6 286.1,293.9 285.6,293.6 285.1,293.6 284.6,293.1 284.1,293.4 283.6,293.1 283.1,294.2 282.6,293.1 282.1,294.1 281.6,293.5 281.1,293.6 280.6,292.3 280.1,292.2 279.6,292.6 279.1,292.0 278.6,292.3 278.1,293.5 277.6,293.0 277.1,292.7 276.6,292.0 276.1,293.6 275.6,292.0 275.1,294.7 274.6,292.7 274.1,291.8 273.6,294.5 273.1,292.7 272.6,295.8 272.1,294.1 271.6,293.5 271.1,293.4 270.6,292.3 270.1,292.1 269.6,292.7 269.1,293.1 268.6,294.6 268.1,293.5 267.6,294.2 267.1,294.9 266.6,296.2 266.1,296.2 265.6,294.9 265.1,295.4 264.6,294.3 264.1,294.3 263.6,295.5 263.1,294.7 262.6,295.4 262.1,292.1 261.6,292.8 261.1,295.0 260.6,295.0 260.1,295.2 259.6,295.3 259.1,294.0 258.6,293.8 258.1,293.4 257.6,293.5 257.1,292.4 256.6,292.8 256.1,293.7 255.6,293.1 255.1,293.3 254.6,293.0 254.1,291.4 253.6,290.1 253.1,291.3 252.6,291.6 252.1,292.8 251.6,292.4 251.1,293.1 250.6,293.2 250.1,293.1 249.6,294.2 249.1,293.4 248.6,294.3 248.1,295.4 247.6,296.1 247.1,294.7 246.6,296.2 246.1,296.8 245.6,294.7 245.1,293.3 244.6,293.7 244.1,294.1 243.6,294.4 243.1,292.9 242.6,296.0 242.1,294.1 241.6,296.0 241.1,293.7 240.6,293.5 240.1,293.7 239.6,294.8 239.1,294.0 238.6,293.7 238.1,294.0" fill="#f5221e" stroke="#f5221e" stroke-width="0.6" stroke-linejoin="round" style="mix-blend-mode:multiply"/>
<polygon points="238.1,357.2 238.6,357.0 239.1,356.4 239.6,357.2 240.1,357.2 240.6,357.1 241.1,357.5 241.6,357.1 242.1,356.7 242.6,357.5 243.1,357.2 243.6,357.8 244.1,357.3 244.6,357.8 245.1,357.8 245.6,358.3 246.1,357.7 246.6,358.3 247.1,358.3 247.6,358.1 248.1,358.5 248.6,357.8 249.1,358.0 249.6,357.7 250.1,358.1 250.6,357.6 251.1,357.0 251.6,358.0 252.1,357.5 252.6,357.1 253.1,357.8 253.6,358.0 254.1,358.5 254.6,358.4 255.1,358.3 255.6,358.4 256.1,357.6 256.6,357.8 257.1,358.1 257.6,358.7 258.1,358.5 258.6,358.2 259.1,358.6 259.6,358.4 260.1,358.4 260.6,358.5 261.1,358.1 261.6,357.6 262.1,358.0 262.6,358.4 263.1,358.0 263.6,357.9 264.1,356.8 264.6,356.8 265.1,356.5 265.6,353.6 266.1,343.8 266.6,341.0 267.1,330.3 267.6,314.1 268.1,323.8 268.6,354.3 269.1,355.5 269.6,350.8 270.1,349.4 270.6,354.8 271.1,357.9 271.6,357.5 272.1,357.3 272.6,358.1 273.1,357.8 273.6,357.3 274.1,358.0 274.6,358.0 275.1,357.8 275.6,358.2 276.1,358.0 276.6,357.9 277.1,356.3 277.6,357.5 278.1,358.1 278.6,357.2 279.1,356.4 279.6,356.9 280.1,356.3 280.6,352.2 281.1,352.0 281.6,353.2 282.1,356.4 282.6,356.8 283.1,357.6 283.6,357.1 284.1,357.7 284.6,357.2 285.1,357.1 285.6,357.6 286.1,356.9 286.6,357.5 287.1,357.3 287.6,357.2 288.1,357.5 288.6,357.9 289.1,357.8 289.6,357.9 290.1,357.3 290.6,357.7 291.1,357.2 291.6,357.4 292.1,356.9 292.6,357.7 293.1,357.1 293.6,357.1 294.1,357.0 294.6,357.1 295.1,358.6 295.6,357.4 296.1,357.6 296.6,357.4 297.1,357.9 297.6,357.7 298.1,357.4 298.6,357.7 299.1,357.5 299.6,357.5 300.1,357.6 300.6,357.1 301.1,357.5 301.6,357.1 302.1,356.8 302.6,357.2 303.1,357.1 303.6,356.4 304.1,356.2 304.6,356.7 305.1,356.8 305.6,357.2 306.1,357.6 306.6,356.5 307.1,356.6 307.6,357.3 308.1,356.3 308.6,356.1 309.1,357.1 309.6,357.0 310.1,357.1 310.6,357.4 311.1,357.2 311.6,358.0 312.1,358.2 312.6,357.9 313.1,357.0 313.6,357.7 314.1,358.2 314.6,358.3 315.1,357.1 315.6,357.6 316.1,357.6 316.6,358.2 317.1,357.2 317.6,357.4 318.1,357.3 318.6,358.4 319.1,357.8 319.6,357.6 320.1,356.9 320.6,357.0 321.1,357.3 321.6,356.6 322.1,357.8 322.6,357.7 323.1,357.0 323.6,356.4 324.1,356.9 324.6,357.2 325.1,357.2 325.6,357.5 326.1,357.4 326.6,357.2 327.1,357.1 327.6,357.5 328.1,358.1 328.6,357.8 329.1,357.8 329.6,358.1 330.1,357.3 330.6,358.0 331.1,358.6 331.6,358.1 332.1,357.8 332.6,357.7 333.1,358.6 333.6,357.9 334.1,357.9 334.6,358.1 335.1,357.6 335.6,357.7 336.1,357.7 336.6,357.9 337.1,357.9 337.6,358.8 338.1,358.8 338.6,357.9 339.1,358.7 339.6,357.8 340.1,358.0 340.6,358.5 341.1,358.6 341.6,357.7 342.1,358.3 342.6,358.7 343.1,357.7 343.6,358.1 344.1,357.8 344.6,357.4 345.1,357.5 345.6,358.3 346.1,357.8 346.6,357.6 347.1,358.4 347.6,357.1 348.1,357.4 348.6,358.1 349.1,357.6 349.6,357.8 350.1,358.5 350.6,357.9 351.1,358.2 351.6,357.9 352.1,357.2 352.6,357.8 353.1,357.5 353.6,357.4 354.1,357.5 354.6,358.0 355.1,357.7 355.6,358.1 356.1,358.2 356.6,357.3 357.1,357.8 357.6,358.4 358.1,357.9 358.6,357.2 359.1,357.7 359.6,357.4 360.1,357.9 360.6,358.2 361.1,358.5 361.6,358.1 362.1,357.3 362.6,358.0 363.1,358.6 363.6,358.6 364.1,358.7 364.6,358.0 365.1,358.4 365.6,358.8 366.1,357.4 366.6,358.2 367.1,357.7 367.6,357.7 368.1,358.2 368.6,357.5 369.1,357.7 369.6,357.9 370.1,358.1 370.6,357.3 371.1,357.7 371.6,357.0 372.1,357.1 372.6,356.6 373.1,356.7 373.6,356.9 374.1,357.9 374.6,357.5 375.1,357.5 375.6,358.3 376.1,358.2 376.6,357.8 377.1,357.7 377.6,356.9 378.1,357.4 378.6,358.2 379.1,358.4 379.6,357.4 380.1,357.2 380.6,357.6 381.1,357.9 381.6,357.9 382.1,357.1 382.6,357.1 383.1,357.1 383.6,357.8 384.1,356.3 384.6,356.7 385.1,357.6 385.6,357.5 386.1,357.3 386.6,356.9 387.1,356.9 387.6,357.4 388.1,357.0 388.6,357.9 389.1,357.6 389.6,357.7 390.1,357.6 390.6,357.9 391.1,356.8 391.6,356.8 392.1,357.4 392.6,357.8 393.1,357.3 393.6,357.7 394.1,358.1 394.6,356.5 395.1,358.3 395.6,357.9 396.1,357.4 396.6,357.6 397.1,357.8 397.6,358.2 398.1,357.8 398.6,357.7 399.1,357.6 399.6,357.6 400.1,357.4 400.6,357.0 401.1,357.8 401.6,356.9 402.1,356.7 402.6,357.2 403.1,357.5 403.6,357.7 404.1,357.5 404.6,357.4 405.1,357.7 405.6,358.0 406.1,358.0 406.6,358.1 407.1,358.0 407.6,357.5 408.1,357.4 408.6,357.9 409.1,358.0 409.6,357.7 410.1,356.3 410.6,356.5 411.1,357.0 411.6,357.0 412.1,357.5 412.6,357.3 413.1,358.3 413.6,357.6 414.1,357.9 414.6,357.8 415.1,357.3 415.6,357.7 416.1,357.6 416.6,357.3 417.1,357.0 417.6,357.5 418.1,357.9 418.6,358.4 419.1,358.1 419.6,358.4 420.1,356.2 420.6,357.6 421.1,358.0 421.6,357.9 422.1,357.1 422.6,357.4 423.1,357.5 423.6,357.4 424.1,357.7 424.6,358.1 425.1,358.1 425.6,358.2 426.1,357.8 426.6,358.4 427.1,357.8 427.6,357.8 428.1,358.2 428.6,357.8 429.1,357.4 429.6,357.0 430.1,357.9 430.6,357.4 431.1,357.0 431.6,357.5 432.1,357.2 432.6,357.3 433.1,356.9 433.6,357.3 434.1,357.4 434.6,357.2 435.1,356.5 435.6,357.2 436.1,355.4 436.6,353.5 437.1,350.4 437.6,350.5 438.1,349.5 438.6,343.5 439.1,335.2 439.6,336.9 440.1,353.2 440.6,345.2 441.1,335.5 441.6,337.0 442.1,354.1 442.6,356.5 443.1,357.2 443.6,356.7 444.1,357.2 444.6,357.0 445.1,351.5 445.6,349.6 446.1,352.8 446.6,356.9 447.1,357.6 447.6,357.7 448.1,357.3 448.6,356.7 449.1,357.4 449.6,357.1 450.1,357.7 450.6,357.6 451.1,356.4 451.6,358.0 452.1,357.6 452.6,357.9 453.1,357.8 453.6,357.4 454.1,357.6 454.6,357.0 455.1,358.0 455.6,357.8 456.1,357.8 456.6,357.5 457.1,357.6 457.6,358.2 458.1,357.3 458.6,358.2 459.1,358.5 459.6,357.8 460.1,357.7 460.6,357.3 461.1,357.3 461.6,357.6 462.1,357.9 462.6,358.4 463.1,357.7 463.6,356.8 464.1,357.8 464.6,356.9 465.1,357.5 465.6,357.2 466.1,357.2 466.6,357.3 467.1,357.9 467.6,356.7 468.1,357.8 468.6,357.5 469.1,358.0 469.6,357.1 470.1,357.4 470.6,358.0 471.1,358.3 471.6,358.1 472.1,357.7 472.6,357.6 473.1,358.1 473.6,358.1 474.1,357.4 474.6,357.9 475.1,357.7 475.6,358.0 476.1,357.6 476.6,356.8 477.1,356.7 477.6,357.5 478.1,357.0 478.6,357.3 479.1,357.1 479.6,357.7 480.1,358.0 480.6,357.6 481.1,357.8 481.6,357.2 482.1,358.4 482.6,357.0 483.1,357.0 483.6,358.7 484.1,358.0 484.6,357.3 485.1,357.9 485.6,357.2 486.1,357.8 486.6,356.8 487.1,353.1 487.6,352.1 488.1,352.0 488.6,355.2 489.1,357.0 489.6,357.5 490.1,357.2 490.6,356.3 491.1,356.1 491.6,354.3 492.1,343.5 492.6,305.1 493.1,302.8 493.6,323.2 494.1,353.0 494.6,355.3 495.1,356.0 495.6,356.6 496.1,356.9 496.6,356.7 497.1,356.9 497.6,355.9 498.1,356.0 498.6,355.4 499.1,353.9 499.6,339.0 500.1,315.1 500.6,314.6 501.1,338.5 501.6,354.0 502.1,356.6 502.6,356.5 503.1,357.7 503.6,356.7 504.1,357.4 504.6,357.5 505.1,357.3 505.6,357.0 506.1,357.8 506.6,357.5 507.1,357.7 507.6,358.1 508.1,357.3 508.6,357.7 509.1,357.3 509.6,357.6 510.1,358.0 510.6,357.9 511.1,357.3 511.6,357.1 512.0,357.2 512.5,356.7 513.0,357.3 513.5,356.9 514.0,356.6 514.5,357.1 515.0,356.8 515.5,356.8 516.0,356.7 516.5,356.5 517.0,356.1 517.5,357.0 518.0,356.8 518.5,356.9 519.0,357.8 519.5,357.5 520.0,357.9 520.5,357.6 521.0,358.1 521.5,357.7 522.0,357.9 522.5,358.5 523.0,358.1 523.5,358.1 524.0,358.3 524.5,357.4 525.0,358.4 525.5,357.9 526.0,356.9 526.5,357.9 527.0,357.9 527.5,357.2 528.0,358.1 528.5,358.0 529.0,357.7 529.5,356.9 530.0,357.9 530.5,357.4 531.0,357.3 531.5,357.2 532.0,357.2 532.5,356.6 533.0,356.8 533.5,357.3 534.0,357.6 534.5,357.8 535.0,357.6 535.5,357.3 536.0,357.7 536.5,358.0 537.0,357.7 537.5,357.9 538.0,358.1 538.5,358.2 539.0,358.2 539.5,357.2 540.0,359.0 540.5,358.9 541.0,357.9 541.5,357.6 542.0,357.8 542.5,358.7 543.0,357.7 543.5,358.4 544.0,357.7 544.5,358.1 545.0,357.7 545.5,358.2 546.0,357.4 546.5,358.3 547.0,357.6 547.5,357.3 548.0,357.7 548.5,358.1 549.0,358.0 549.5,357.0 550.0,357.5 550.5,358.2 551.0,358.2 551.5,358.2 552.0,357.9 552.5,356.9 553.0,357.6 553.5,357.4 554.0,358.1 554.5,357.5 555.0,357.6 555.5,357.4 556.0,358.1 556.5,357.2 557.0,356.7 557.5,356.0 558.0,343.8 558.5,335.6 559.0,321.5 559.5,322.4 560.0,335.5 560.5,353.9 561.0,355.8 561.5,356.6 562.0,357.0 562.5,357.0 563.0,355.2 563.5,351.6 564.0,351.0 564.5,355.3 565.0,357.1 565.5,357.3 566.0,357.6 566.5,358.3 567.0,357.4 567.5,356.7 568.0,356.6 568.5,353.9 569.0,352.5 569.5,352.2 570.0,353.4 570.5,355.2 571.0,357.2 571.5,358.4 572.0,357.9 572.5,357.4 573.0,358.0 573.5,357.9 574.0,357.7 574.5,358.3 575.0,357.3 575.5,357.8 576.0,358.0 576.5,357.0 577.0,357.3 577.5,357.8 578.0,357.7 578.5,357.5 579.0,357.7 579.5,357.2 580.0,357.7 580.5,357.4 581.0,357.7 581.5,357.7 582.0,357.9 582.5,357.4 583.0,357.7 583.5,357.1 584.0,357.3 584.5,357.2 585.0,357.8 585.5,357.5 586.0,357.5 586.5,357.9 587.0,357.6 587.5,358.1 588.0,357.6 588.5,357.6 589.0,357.8 589.5,357.2 590.0,357.9 590.5,358.3 591.0,357.1 591.5,358.0 592.0,357.8 592.5,357.2 593.0,357.9 593.5,357.8 594.0,357.7 594.5,357.3 595.0,357.5 595.5,358.0 596.0,357.9 596.5,357.9 597.0,357.6 597.5,357.4 598.0,357.2 598.5,358.4 599.0,357.8 599.5,357.2 600.0,358.4 600.5,357.1 601.0,357.8 601.5,358.0 602.0,357.7 602.5,357.5 603.0,358.1 603.5,357.4 604.0,356.9 604.5,357.9 605.0,357.7 605.5,357.8 606.0,357.8 606.5,357.8 607.0,357.4 607.5,357.9 608.0,358.5 608.5,357.8 609.0,357.8 609.5,358.2 610.0,358.1 610.5,358.7 611.0,358.6 611.5,359.1 612.0,358.2 612.5,357.1 613.0,358.0 613.5,358.8 614.0,358.4 614.5,358.0 615.0,357.9 615.5,358.5 616.0,357.0 616.5,357.9 617.0,357.9 617.5,357.5 618.0,358.3 618.5,357.5 619.0,357.0 619.5,357.8 620.0,357.8 620.5,357.5 621.0,357.9 621.5,358.4 622.0,357.9 622.5,357.3 623.0,357.3 623.5,357.7 624.0,357.3 624.5,357.2 625.0,358.0 625.5,357.2 626.0,356.9 626.5,356.9 627.0,356.7 627.5,357.0 628.0,356.2 628.5,354.3 629.0,345.8 629.5,308.0 630.0,301.5 630.5,312.7 631.0,350.5 631.5,355.0 632.0,356.0 632.5,356.6 633.0,357.4 633.5,357.6 634.0,357.3 634.5,357.3 635.0,357.6 635.5,357.9 636.0,357.6 636.5,356.8 637.0,357.6 637.5,358.2 638.0,357.3 638.5,357.0 639.0,357.6 639.5,357.9 640.0,357.0 640.5,357.3 641.0,357.0 641.5,356.9 642.0,357.6 642.5,357.1 643.0,357.3 643.5,357.2 644.0,357.5 644.5,357.6 645.0,357.3 645.5,357.2 646.0,357.8 646.5,356.8 647.0,357.9 647.5,357.3 648.0,357.2 648.5,357.8 649.0,357.0 649.5,358.2 650.0,357.7 650.5,357.5 651.0,357.9 651.5,357.3 652.0,356.8 652.5,357.5 653.0,358.2 653.5,357.8 654.0,357.6 654.5,357.0 655.0,357.8 655.5,358.5 656.0,357.1 656.5,357.4 657.0,357.9 657.5,357.3 658.0,356.9 658.5,358.2 659.0,357.7 659.5,358.2 660.0,357.4 660.0,359.8 659.5,359.6 659.0,358.9 658.5,359.2 658.0,359.8 657.5,359.3 657.0,359.3 656.5,359.2 656.0,359.0 655.5,359.9 655.0,359.2 654.5,360.1 654.0,359.6 653.5,359.5 653.0,359.1 652.5,359.1 652.0,359.5 651.5,358.6 651.0,360.0 650.5,359.6 650.0,359.9 649.5,359.1 649.0,359.5 648.5,360.2 648.0,359.2 647.5,358.8 647.0,358.6 646.5,358.2 646.0,358.5 645.5,358.6 645.0,358.7 644.5,359.1 644.0,359.2 643.5,358.6 643.0,358.8 642.5,358.8 642.0,359.1 641.5,358.6 641.0,358.8 640.5,359.5 640.0,359.0 639.5,359.5 639.0,359.5 638.5,358.9 638.0,359.6 637.5,359.6 637.0,359.0 636.5,359.1 636.0,359.5 635.5,359.4 635.0,358.7 634.5,359.9 634.0,359.5 633.5,359.5 633.0,359.5 632.5,359.5 632.0,359.0 631.5,357.8 631.0,357.1 630.5,355.0 630.0,348.0 629.5,354.8 629.0,357.5 628.5,357.7 628.0,359.2 627.5,359.2 627.0,359.2 626.5,358.9 626.0,359.2 625.5,359.3 625.0,359.3 624.5,359.2 624.0,359.9 623.5,359.9 623.0,359.6 622.5,359.5 622.0,359.9 621.5,360.0 621.0,359.9 620.5,359.9 620.0,360.1 619.5,359.7 619.0,359.4 618.5,358.6 618.0,359.1 617.5,359.7 617.0,359.6 616.5,359.5 616.0,359.5 615.5,360.1 615.0,360.0 614.5,359.3 614.0,359.3 613.5,359.5 613.0,359.7 612.5,359.8 612.0,360.3 611.5,360.3 611.0,360.4 610.5,360.6 610.0,359.4 609.5,359.7 609.0,359.8 608.5,359.7 608.0,359.5 607.5,359.2 607.0,360.2 606.5,359.7 606.0,359.5 605.5,359.4 605.0,359.2 604.5,359.3 604.0,359.3 603.5,359.2 603.0,359.0 602.5,359.8 602.0,359.4 601.5,359.4 601.0,360.5 600.5,359.9 600.0,359.3 599.5,359.9 599.0,360.1 598.5,359.7 598.0,360.4 597.5,359.3 597.0,360.2 596.5,360.7 596.0,358.9 595.5,360.5 595.0,360.1 594.5,359.7 594.0,359.5 593.5,359.2 593.0,359.7 592.5,359.3 592.0,358.8 591.5,359.3 591.0,359.9 590.5,359.6 590.0,359.6 589.5,359.8 589.0,359.4 588.5,359.5 588.0,359.4 587.5,360.2 587.0,359.5 586.5,360.0 586.0,359.2 585.5,358.8 585.0,359.6 584.5,359.6 584.0,359.1 583.5,359.4 583.0,359.9 582.5,359.3 582.0,359.3 581.5,359.3 581.0,359.3 580.5,359.3 580.0,359.2 579.5,358.6 579.0,359.4 578.5,359.3 578.0,359.0 577.5,359.6 577.0,360.1 576.5,359.7 576.0,359.1 575.5,359.6 575.0,359.5 574.5,359.9 574.0,359.7 573.5,359.8 573.0,359.4 572.5,360.1 572.0,360.1 571.5,359.7 571.0,359.4 570.5,358.6 570.0,357.8 569.5,355.5 569.0,356.3 568.5,358.6 568.0,358.6 567.5,359.4 567.0,359.9 566.5,359.5 566.0,359.2 565.5,359.2 565.0,359.2 564.5,359.0 564.0,357.9 563.5,357.3 563.0,358.9 562.5,359.4 562.0,359.4 561.5,358.7 561.0,358.7 560.5,358.5 560.0,357.5 559.5,354.9 559.0,343.5 558.5,355.8 558.0,358.1 557.5,359.0 557.0,359.3 556.5,359.6 556.0,359.6 555.5,359.5 555.0,359.1 554.5,359.6 554.0,359.8 553.5,360.7 553.0,359.4 552.5,359.1 552.0,360.2 551.5,359.5 551.0,359.7 550.5,359.9 550.0,359.7 549.5,358.9 549.0,359.4 548.5,359.9 548.0,359.9 547.5,359.7 547.0,359.4 546.5,359.6 546.0,359.4 545.5,359.3 545.0,359.8 544.5,359.5 544.0,359.2 543.5,359.6 543.0,360.1 542.5,360.6 542.0,359.8 541.5,360.0 541.0,359.4 540.5,359.8 540.0,360.0 539.5,360.1 539.0,359.7 538.5,360.3 538.0,359.7 537.5,360.3 537.0,359.6 536.5,359.5 536.0,359.4 535.5,359.5 535.0,358.8 534.5,358.7 534.0,359.1 533.5,358.9 533.0,358.8 532.5,359.4 532.0,359.0 531.5,359.7 531.0,359.2 530.5,358.6 530.0,359.0 529.5,360.1 529.0,359.1 528.5,359.8 528.0,359.8 527.5,360.2 527.0,360.1 526.5,359.7 526.0,359.7 525.5,359.7 525.0,359.6 524.5,359.9 524.0,359.9 523.5,360.1 523.0,359.8 522.5,360.5 522.0,359.7 521.5,359.7 521.0,359.4 520.5,360.2 520.0,360.3 519.5,359.2 519.0,359.5 518.5,358.1 518.0,358.4 517.5,359.2 517.0,358.1 516.5,358.6 516.0,358.4 515.5,358.3 515.0,358.3 514.5,358.9 514.0,358.6 513.5,358.6 513.0,358.5 512.5,358.5 512.0,358.7 511.6,359.2 511.1,359.5 510.6,359.9 510.1,360.0 509.6,359.7 509.1,359.6 508.6,359.0 508.1,359.3 507.6,359.7 507.1,359.5 506.6,359.3 506.1,359.3 505.6,359.5 505.1,359.4 504.6,359.0 504.1,359.4 503.6,359.4 503.1,358.9 502.6,358.7 502.1,358.1 501.6,357.6 501.1,356.6 500.6,354.7 500.1,353.8 499.6,357.0 499.1,357.5 498.6,358.4 498.1,358.4 497.6,358.7 497.1,359.4 496.6,359.4 496.1,359.4 495.6,358.5 495.1,358.5 494.6,357.9 494.1,357.3 493.6,355.1 493.1,352.5 492.6,353.7 492.1,357.2 491.6,358.1 491.1,358.5 490.6,359.4 490.1,359.4 489.6,359.4 489.1,358.8 488.6,358.4 488.1,358.4 487.6,357.2 487.1,358.6 486.6,359.3 486.1,359.3 485.6,359.4 485.1,359.8 484.6,359.8 484.1,359.6 483.6,359.9 483.1,359.5 482.6,359.0 482.1,359.0 481.6,359.5 481.1,359.2 480.6,359.7 480.1,359.5 479.6,358.9 479.1,359.9 478.6,359.6 478.1,359.1 477.6,358.9 477.1,358.9 476.6,359.0 476.1,359.1 475.6,359.3 475.1,359.1 474.6,359.1 474.1,359.6 473.6,359.8 473.1,359.4 472.6,359.9 472.1,359.8 471.6,359.5 471.1,359.6 470.6,359.7 470.1,359.2 469.6,359.1 469.1,359.6 468.6,359.4 468.1,359.1 467.6,359.1 467.1,359.0 466.6,359.0 466.1,359.6 465.6,359.0 465.1,359.2 464.6,359.4 464.1,359.7 463.6,359.3 463.1,359.5 462.6,359.5 462.1,359.6 461.6,359.1 461.1,359.3 460.6,360.3 460.1,359.2 459.6,359.3 459.1,359.4 458.6,359.5 458.1,359.5 457.6,359.8 457.1,359.7 456.6,359.8 456.1,359.3 455.6,359.7 455.1,359.3 454.6,358.9 454.1,359.1 453.6,358.6 453.1,358.7 452.6,360.2 452.1,358.7 451.6,359.5 451.1,358.8 450.6,359.3 450.1,359.9 449.6,359.8 449.1,359.2 448.6,359.2 448.1,359.3 447.6,359.8 447.1,359.8 446.6,359.4 446.1,358.8 445.6,357.7 445.1,358.8 444.6,358.8 444.1,358.8 443.6,358.4 443.1,358.3 442.6,358.3 442.1,357.8 441.6,357.1 441.1,355.3 440.6,356.4 440.1,356.4 439.6,356.4 439.1,350.8 438.6,350.6 438.1,352.5 437.6,353.4 437.1,356.5 436.6,357.8 436.1,358.6 435.6,358.6 435.1,358.6 434.6,358.9 434.1,359.4 433.6,359.6 433.1,359.3 432.6,359.3 432.1,359.3 431.6,359.2 431.1,359.1 430.6,359.8 430.1,359.4 429.6,358.8 429.1,359.2 428.6,359.3 428.1,359.4 427.6,359.3 427.1,359.3 426.6,359.4 426.1,358.9 425.6,359.8 425.1,360.6 424.6,359.4 424.1,359.1 423.6,359.9 423.1,359.7 422.6,360.4 422.1,359.3 421.6,359.4 421.1,359.2 420.6,359.3 420.1,359.3 419.6,359.7 419.1,359.7 418.6,359.6 418.1,359.2 417.6,359.7 417.1,358.9 416.6,359.2 416.1,359.2 415.6,359.3 415.1,358.9 414.6,359.3 414.1,359.6 413.6,359.1 413.1,359.9 412.6,358.9 412.1,359.4 411.6,358.7 411.1,358.6 410.6,358.6 410.1,359.0 409.6,359.3 409.1,358.9 408.6,359.4 408.1,359.6 407.6,359.4 407.1,360.0 406.6,359.0 406.1,358.7 405.6,359.7 405.1,360.3 404.6,359.1 404.1,359.2 403.6,358.8 403.1,359.3 402.6,358.8 402.1,359.4 401.6,359.0 401.1,359.0 400.6,358.6 400.1,359.5 399.6,359.6 399.1,359.7 398.6,358.9 398.1,359.4 397.6,359.1 397.1,359.3 396.6,359.0 396.1,360.1 395.6,359.4 395.1,359.7 394.6,359.3 394.1,359.3 393.6,360.0 393.1,359.8 392.6,360.1 392.1,359.2 391.6,359.8 391.1,358.9 390.6,359.4 390.1,359.7 389.6,359.6 389.1,359.9 388.6,358.8 388.1,359.1 387.6,359.6 387.1,359.3 386.6,359.2 386.1,359.1 385.6,359.0 385.1,358.3 384.6,358.7 384.1,359.0 383.6,358.6 383.1,359.1 382.6,358.3 382.1,358.9 381.6,359.0 381.1,358.7 380.6,359.2 380.1,358.8 379.6,359.8 379.1,360.2 378.6,359.7 378.1,360.2 377.6,359.4 377.1,360.2 376.6,359.0 376.1,360.1 375.6,360.2 375.1,359.4 374.6,358.8 374.1,359.1 373.6,359.3 373.1,358.5 372.6,358.8 372.1,358.5 371.6,358.8 371.1,358.7 370.6,359.0 370.1,359.8 369.6,359.1 369.1,359.5 368.6,359.8 368.1,358.9 367.6,359.6 367.1,359.8 366.6,360.0 366.1,359.3 365.6,361.2 365.1,359.9 364.6,360.2 364.1,359.8 363.6,359.8 363.1,359.5 362.6,358.9 362.1,359.6 361.6,360.1 361.1,360.4 360.6,359.5 360.1,359.5 359.6,360.3 359.1,359.6 358.6,359.4 358.1,359.1 357.6,359.2 357.1,359.5 356.6,360.5 356.1,359.3 355.6,359.6 355.1,359.4 354.6,360.3 354.1,359.9 353.6,359.5 353.1,359.7 352.6,359.1 352.1,359.0 351.6,359.2 351.1,359.9 350.6,359.1 350.1,360.4 349.6,359.5 349.1,359.4 348.6,359.7 348.1,359.6 347.6,359.4 347.1,359.6 346.6,359.1 346.1,359.6 345.6,359.9 345.1,359.8 344.6,359.8 344.1,360.1 343.6,360.3 343.1,359.8 342.6,359.5 342.1,359.8 341.6,359.8 341.1,360.0 340.6,359.8 340.1,359.5 339.6,359.8 339.1,359.9 338.6,359.3 338.1,360.2 337.6,359.7 337.1,359.9 336.6,360.1 336.1,359.5 335.6,359.8 335.1,359.7 334.6,360.2 334.1,360.0 333.6,359.6 333.1,359.8 332.6,360.6 332.1,360.5 331.6,359.2 331.1,359.9 330.6,359.8 330.1,359.8 329.6,359.8 329.1,358.9 328.6,359.9 328.1,359.4 327.6,359.0 327.1,359.2 326.6,359.1 326.1,359.8 325.6,358.7 325.1,359.7 324.6,359.0 324.1,358.4 323.6,359.3 323.1,359.6 322.6,359.2 322.1,359.0 321.6,359.6 321.1,359.0 320.6,359.2 320.1,359.8 319.6,358.6 319.1,359.8 318.6,359.4 318.1,360.3 317.6,359.4 317.1,359.2 316.6,359.2 316.1,360.4 315.6,359.4 315.1,359.9 314.6,359.5 314.1,360.2 313.6,359.4 313.1,360.1 312.6,359.6 312.1,359.3 311.6,359.0 311.1,359.6 310.6,359.2 310.1,359.2 309.6,359.1 309.1,358.5 308.6,358.6 308.1,359.2 307.6,358.6 307.1,358.7 306.6,358.6 306.1,359.2 305.6,358.8 305.1,358.5 304.6,358.5 304.1,358.5 303.6,359.4 303.1,359.1 302.6,359.5 302.1,359.0 301.6,358.6 301.1,359.0 300.6,358.9 300.1,360.3 299.6,359.3 299.1,359.9 298.6,360.0 298.1,359.0 297.6,359.3 297.1,360.2 296.6,359.5 296.1,359.3 295.6,359.0 295.1,360.2 294.6,359.0 294.1,359.4 293.6,359.4 293.1,358.7 292.6,359.2 292.1,358.6 291.6,358.5 291.1,358.9 290.6,358.9 290.1,359.3 289.6,359.5 289.1,359.4 288.6,358.9 288.1,359.5 287.6,359.3 287.1,359.1 286.6,358.8 286.1,359.7 285.6,359.2 285.1,359.9 284.6,359.1 284.1,360.1 283.6,360.3 283.1,359.3 282.6,358.7 282.1,359.1 281.6,359.1 281.1,358.0 280.6,357.9 280.1,358.5 279.6,359.0 279.1,359.2 278.6,359.3 278.1,359.6 277.6,359.6 277.1,359.7 276.6,359.5 276.1,359.8 275.6,359.4 275.1,360.1 274.6,359.5 274.1,359.7 273.6,359.6 273.1,359.7 272.6,360.1 272.1,359.8 271.6,359.4 271.1,359.0 270.6,359.0 270.1,358.9 269.6,356.8 269.1,357.1 268.6,357.1 268.1,357.1 267.6,353.2 267.1,343.7 266.6,352.3 266.1,357.7 265.6,358.8 265.1,358.8 264.6,358.8 264.1,359.0 263.6,359.5 263.1,360.7 262.6,359.8 262.1,360.4 261.6,360.3 261.1,360.0 260.6,360.3 260.1,360.4 259.6,360.6 259.1,360.6 258.6,360.6 258.1,360.2 257.6,359.8 257.1,360.0 256.6,359.6 256.1,359.4 255.6,360.5 255.1,360.1 254.6,360.4 254.1,360.2 253.6,359.6 253.1,360.3 252.6,359.6 252.1,359.8 251.6,359.8 251.1,359.4 250.6,359.6 250.1,359.8 249.6,359.9 249.1,359.7 248.6,359.5 248.1,359.9 247.6,360.3 247.1,360.1 246.6,360.4 246.1,359.5 245.6,359.6 245.1,360.0 244.6,360.5 244.1,359.2 243.6,359.0 243.1,359.0 242.6,359.0 242.1,358.8 241.6,359.1 241.1,359.0 240.6,358.3 240.1,358.4 239.6,358.2 239.1,358.2 238.6,359.5 238.1,358.9" fill="#1e18fc" stroke="#1e18fc" stroke-width="0.6" stroke-linejoin="round" style="mix-blend-mode:multiply"/>
<g stroke="#484848">
<line x1="238.2" y1="373.8" x2="660.8" y2="373.8" stroke-width="1.4"/>
<line x1="240.8" y1="373.8" x2="240.8" y2="376.9" stroke-width="1.1"/>
<line x1="284.6" y1="373.8" x2="284.6" y2="378.4" stroke-width="1.1"/>
<line x1="328.4" y1="373.8" x2="328.4" y2="376.9" stroke-width="1.1"/>
<line x1="372.1" y1="373.8" x2="372.1" y2="376.9" stroke-width="1.1"/>
<line x1="415.9" y1="373.8" x2="415.9" y2="376.9" stroke-width="1.1"/>
<line x1="459.7" y1="373.8" x2="459.7" y2="378.4" stroke-width="1.1"/>
<line x1="503.5" y1="373.8" x2="503.5" y2="376.9" stroke-width="1.1"/>
<line x1="547.3" y1="373.8" x2="547.3" y2="376.9" stroke-width="1.1"/>
<line x1="591.0" y1="373.8" x2="591.0" y2="376.9" stroke-width="1.1"/>
<line x1="634.8" y1="373.8" x2="634.8" y2="378.4" stroke-width="1.1"/>
</g>
<text x="284.3" y="393.1" font-family='"Liberation Sans","DejaVu Sans",sans-serif' font-size="9.2" font-weight="bold" text-anchor="middle" fill="#000"  >100</text>
<text x="459.9" y="393.1" font-family='"Liberation Sans","DejaVu Sans",sans-serif' font-size="9.2" font-weight="bold" text-anchor="middle" fill="#000"  >80</text>
<text x="635.3" y="393.1" font-family='"Liberation Sans","DejaVu Sans",sans-serif' font-size="9.2" font-weight="bold" text-anchor="middle" fill="#000"  >60</text>
</g>
<g id="panelB">
<text x="2.0" y="424.4" font-family='"Liberation Sans","DejaVu Sans",sans-serif' font-size="17.4" font-weight="normal" text-anchor="start" fill="#000"  >B</text>
<rect x="21.2" y="451.1" width="138.8" height="128.5" fill="#fff" stroke="#adadad" stroke-width="0.8"/>
<line x1="18.8" y1="451.1" x2="21.2" y2="451.1" stroke="#888" stroke-width="0.7"/>
<text x="14.4" y="453.7" font-family='"Liberation Serif","DejaVu Serif",serif' font-size="7.35" font-weight="normal" text-anchor="end" fill="#1c1c1c"  >83,0</text>
<line x1="18.8" y1="469.5" x2="21.2" y2="469.5" stroke="#888" stroke-width="0.7"/>
<text x="14.4" y="472.1" font-family='"Liberation Serif","DejaVu Serif",serif' font-size="7.35" font-weight="normal" text-anchor="end" fill="#1c1c1c"  >82,5</text>
<line x1="18.8" y1="487.8" x2="21.2" y2="487.8" stroke="#888" stroke-width="0.7"/>
<text x="14.4" y="490.4" font-family='"Liberation Serif","DejaVu Serif",serif' font-size="7.35" font-weight="normal" text-anchor="end" fill="#1c1c1c"  >82,0</text>
<line x1="18.8" y1="506.2" x2="21.2" y2="506.2" stroke="#888" stroke-width="0.7"/>
<text x="14.4" y="508.8" font-family='"Liberation Serif","DejaVu Serif",serif' font-size="7.35" font-weight="normal" text-anchor="end" fill="#1c1c1c"  >81,5</text>
<line x1="18.8" y1="524.5" x2="21.2" y2="524.5" stroke="#888" stroke-width="0.7"/>
<text x="14.4" y="527.1" font-family='"Liberation Serif","DejaVu Serif",serif' font-size="7.35" font-weight="normal" text-anchor="end" fill="#1c1c1c"  >81,0</text>
<line x1="18.8" y1="542.9" x2="21.2" y2="542.9" stroke="#888" stroke-width="0.7"/>
<text x="14.4" y="545.5" font-family='"Liberation Serif","DejaVu Serif",serif' font-size="7.35" font-weight="normal" text-anchor="end" fill="#1c1c1c"  >80,5</text>
<line x1="18.8" y1="561.2" x2="21.2" y2="561.2" stroke="#888" stroke-width="0.7"/>
<text x="14.4" y="563.8" font-family='"Liberation Serif","DejaVu Serif",serif' font-size="7.35" font-weight="normal" text-anchor="end" fill="#1c1c1c"  >80,0</text>
<line x1="18.8" y1="579.6" x2="21.2" y2="579.6" stroke="#888" stroke-width="0.7"/>
<text x="14.4" y="582.2" font-family='"Liberation Serif","DejaVu Serif",serif' font-size="7.35" font-weight="normal" text-anchor="end" fill="#1c1c1c"  >79,5</text>
<text x="28.9" y="467.0" font-family='"Liberation Sans","DejaVu Sans",sans-serif' font-size="7.5" font-weight="bold" fill="#111">δ <tspan font-size="5" dy="-2.5">13</tspan><tspan dy="2.5">C for C-2</tspan><tspan font-size="5" dy="-2.5">A</tspan><tspan dy="2.5"> (ppm)</tspan></text>
<polyline points="49.1,557.9 76.4,487.6 104.2,509.4 132.1,503.0" fill="none" stroke="#4a7ebb" stroke-width="1.3" stroke-linejoin="round"/>
<path d="M49.1 555.6 l2.3 2.3 l-2.3 2.3 l-2.3 -2.3 Z" fill="#4a7ebb"/>
<line x1="49.1" y1="579.6" x2="49.1" y2="581.6" stroke="#999" stroke-width="0.6"/>
<path d="M76.4 485.3 l2.3 2.3 l-2.3 2.3 l-2.3 -2.3 Z" fill="#4a7ebb"/>
<line x1="76.4" y1="579.6" x2="76.4" y2="581.6" stroke="#999" stroke-width="0.6"/>
<path d="M104.2 507.1 l2.3 2.3 l-2.3 2.3 l-2.3 -2.3 Z" fill="#4a7ebb"/>
<line x1="104.2" y1="579.6" x2="104.2" y2="581.6" stroke="#999" stroke-width="0.6"/>
<path d="M132.1 500.7 l2.3 2.3 l-2.3 2.3 l-2.3 -2.3 Z" fill="#4a7ebb"/>
<line x1="132.1" y1="579.6" x2="132.1" y2="581.6" stroke="#999" stroke-width="0.6"/>
<text x="49.1" y="592.9" font-family='"Liberation Serif","DejaVu Serif",serif' font-size="8.7" font-weight="bold" text-anchor="middle" fill="#222"  >1</text>
<text x="76.4" y="592.9" font-family='"Liberation Serif","DejaVu Serif",serif' font-size="8.7" font-weight="bold" text-anchor="middle" fill="#222"  >2</text>
<text x="104.2" y="592.9" font-family='"Liberation Serif","DejaVu Serif",serif' font-size="8.7" font-weight="bold" text-anchor="middle" fill="#222"  >3</text>
<text x="132.1" y="592.9" font-family='"Liberation Serif","DejaVu Serif",serif' font-size="8.7" font-weight="bold" text-anchor="middle" fill="#222"  >4</text>
<rect x="20.6" y="596.3" width="140.8" height="129.7" fill="#fff" stroke="#adadad" stroke-width="0.8"/>
<line x1="18.2" y1="596.3" x2="20.6" y2="596.3" stroke="#888" stroke-width="0.7"/>
<text x="14.4" y="598.9" font-family='"Liberation Serif","DejaVu Serif",serif' font-size="7.35" font-weight="normal" text-anchor="end" fill="#1c1c1c"  >70,0</text>
<line x1="18.2" y1="614.8" x2="20.6" y2="614.8" stroke="#888" stroke-width="0.7"/>
<text x="14.4" y="617.4" font-family='"Liberation Serif","DejaVu Serif",serif' font-size="7.35" font-weight="normal" text-anchor="end" fill="#1c1c1c"  >69,8</text>
<line x1="18.2" y1="633.4" x2="20.6" y2="633.4" stroke="#888" stroke-width="0.7"/>
<text x="14.4" y="636.0" font-family='"Liberation Serif","DejaVu Serif",serif' font-size="7.35" font-weight="normal" text-anchor="end" fill="#1c1c1c"  >69,6</text>
<line x1="18.2" y1="651.9" x2="20.6" y2="651.9" stroke="#888" stroke-width="0.7"/>
<text x="14.4" y="654.5" font-family='"Liberation Serif","DejaVu Serif",serif' font-size="7.35" font-weight="normal" text-anchor="end" fill="#1c1c1c"  >69,4</text>
<line x1="18.2" y1="670.4" x2="20.6" y2="670.4" stroke="#888" stroke-width="0.7"/>
<text x="14.4" y="673.0" font-family='"Liberation Serif","DejaVu Serif",serif' font-size="7.35" font-weight="normal" text-anchor="end" fill="#1c1c1c"  >69,2</text>
<line x1="18.2" y1="688.9" x2="20.6" y2="688.9" stroke="#888" stroke-width="0.7"/>
<text x="14.4" y="691.5" font-family='"Liberation Serif","DejaVu Serif",serif' font-size="7.35" font-weight="normal" text-anchor="end" fill="#1c1c1c"  >69,0</text>
<line x1="18.2" y1="707.5" x2="20.6" y2="707.5" stroke="#888" stroke-width="0.7"/>
<text x="14.4" y="710.1" font-family='"Liberation Serif","DejaVu Serif",serif' font-size="7.35" font-weight="normal" text-anchor="end" fill="#1c1c1c"  >68,8</text>
<line x1="18.2" y1="726.0" x2="20.6" y2="726.0" stroke="#888" stroke-width="0.7"/>
<text x="14.4" y="728.6" font-family='"Liberation Serif","DejaVu Serif",serif' font-size="7.35" font-weight="normal" text-anchor="end" fill="#1c1c1c"  >68,6</text>
<text x="28.9" y="612.2" font-family='"Liberation Sans","DejaVu Sans",sans-serif' font-size="7.5" font-weight="bold" fill="#111">δ <tspan font-size="5" dy="-2.5">13</tspan><tspan dy="2.5">C for C-4</tspan><tspan font-size="5" dy="-2.5">A</tspan><tspan dy="2.5"> (ppm)</tspan></text>
<polyline points="49.1,626.7 76.6,705.7 104.8,651.2 132.9,646.4" fill="none" stroke="#4a7ebb" stroke-width="1.3" stroke-linejoin="round"/>
<path d="M49.1 624.4 l2.3 2.3 l-2.3 2.3 l-2.3 -2.3 Z" fill="#4a7ebb"/>
<line x1="49.1" y1="726.0" x2="49.1" y2="728.0" stroke="#999" stroke-width="0.6"/>
<path d="M76.6 703.4 l2.3 2.3 l-2.3 2.3 l-2.3 -2.3 Z" fill="#4a7ebb"/>
<line x1="76.6" y1="726.0" x2="76.6" y2="728.0" stroke="#999" stroke-width="0.6"/>
<path d="M104.8 648.9 l2.3 2.3 l-2.3 2.3 l-2.3 -2.3 Z" fill="#4a7ebb"/>
<line x1="104.8" y1="726.0" x2="104.8" y2="728.0" stroke="#999" stroke-width="0.6"/>
<path d="M132.9 644.1 l2.3 2.3 l-2.3 2.3 l-2.3 -2.3 Z" fill="#4a7ebb"/>
<line x1="132.9" y1="726.0" x2="132.9" y2="728.0" stroke="#999" stroke-width="0.6"/>
<text x="49.1" y="740.3" font-family='"Liberation Serif","DejaVu Serif",serif' font-size="8.7" font-weight="bold" text-anchor="middle" fill="#222"  >1</text>
<text x="76.6" y="740.3" font-family='"Liberation Serif","DejaVu Serif",serif' font-size="8.7" font-weight="bold" text-anchor="middle" fill="#222"  >2</text>
<text x="104.8" y="740.3" font-family='"Liberation Serif","DejaVu Serif",serif' font-size="8.7" font-weight="bold" text-anchor="middle" fill="#222"  >3</text>
<text x="132.9" y="740.3" font-family='"Liberation Serif","DejaVu Serif",serif' font-size="8.7" font-weight="bold" text-anchor="middle" fill="#222"  >4</text>
<text x="90.4" y="752.2" font-family='"Liberation Serif","DejaVu Serif",serif' font-size="8.7" font-weight="bold" text-anchor="middle" fill="#222"  >Oligosaccharide</text>
</g>
<g id="panelC">
<text x="197.2" y="426.4" font-family='"Liberation Sans","DejaVu Sans",sans-serif' font-size="17.6" font-weight="normal" text-anchor="start" fill="#000"  >C</text>
<text x="291.7" y="447.8" font-family='"Liberation Serif","DejaVu Serif",serif' font-size="12.0" font-weight="bold" text-anchor="middle" fill="#0a0a0a"  stroke="#0a0a0a" stroke-width="0.25">C-1</text>
<text x="444.1" y="447.8" font-family='"Liberation Serif","DejaVu Serif",serif' font-size="12.0" font-weight="bold" text-anchor="middle" fill="#0a0a0a"  stroke="#0a0a0a" stroke-width="0.25">C-2</text>
<text x="602.2" y="447.8" font-family='"Liberation Serif","DejaVu Serif",serif' font-size="12.0" font-weight="bold" text-anchor="middle" fill="#0a0a0a"  stroke="#0a0a0a" stroke-width="0.25">C-4</text>
<polyline points="198.0,496.2 198.4,495.9 198.8,495.6 199.2,495.0 199.6,495.5 200.0,495.6 200.4,495.8 200.8,495.3 201.2,495.6 201.6,496.1 202.0,496.5 202.4,496.0 202.8,495.5 203.2,495.4 203.6,495.4 204.0,495.4 204.4,495.8 204.8,495.8 205.2,495.5 205.6,495.0 206.0,495.0 206.4,495.5 206.8,495.3 207.2,495.7 207.6,495.5 208.0,495.8 208.4,495.5 208.8,495.5 209.2,495.6 209.6,495.8 210.0,495.7 210.4,494.9 210.8,495.1 211.2,495.4 211.6,495.9 212.0,495.1 212.4,494.5 212.8,494.0 213.2,494.4 213.6,494.5 214.0,494.8 214.4,495.7 214.8,495.5 215.2,496.0 215.6,495.7 216.0,496.1 216.4,495.7 216.8,495.8 217.2,495.5 217.6,495.7 218.0,495.4 218.4,495.2 218.8,494.6 219.2,494.6 219.6,495.3 220.0,496.3 220.4,496.3 220.8,495.7 221.2,494.7 221.6,494.7 222.0,495.3 222.4,495.3 222.8,495.2 223.2,495.1 223.6,495.8 224.0,495.9 224.4,496.2 224.8,495.7 225.2,496.1 225.6,495.6 226.0,495.2 226.4,494.6 226.8,495.1 227.2,496.1 227.6,496.4 228.0,495.9 228.4,495.5 228.8,495.8 229.2,496.4 229.6,495.8 230.0,494.9 230.4,494.1 230.8,494.7 231.2,494.9 231.6,495.3 232.0,496.0 232.4,496.0 232.8,495.8 233.2,495.6 233.6,495.2 234.0,496.0 234.4,495.8 234.8,495.6 235.2,495.0 235.6,494.8 236.0,495.7 236.4,495.8 236.8,496.1 237.2,495.6 237.6,495.9 238.0,495.6 238.4,496.3 238.8,495.6 239.2,495.5 239.6,494.7 240.0,495.0 240.4,495.3 240.8,496.0 241.2,496.0 241.6,495.9 242.0,495.6 242.4,495.6 242.8,495.6 243.2,495.7 243.6,495.5 244.0,495.4 244.4,495.1 244.8,494.9 245.2,494.1 245.6,493.5 246.0,493.4 246.4,493.5 246.8,493.7 247.2,493.4 247.6,492.7 248.0,490.5 248.4,487.7 248.8,481.5 248.9,478.3 249.2,470.5 249.3,467.7 249.6,460.6 249.9,467.2 250.0,470.5 250.2,478.8 250.4,482.1 250.8,487.3 251.2,490.7 251.6,492.1 252.0,493.9 252.4,494.3 252.8,494.9 253.2,494.6 253.6,494.3 254.0,494.7 254.4,494.5 254.8,494.3 255.2,494.1 255.6,494.3 256.0,494.8 256.4,494.9 256.8,495.7 257.2,495.9 257.6,496.6 258.0,496.2 258.4,495.6 258.8,495.4 259.2,495.0 259.6,495.2 260.0,495.3 260.4,495.5 260.8,495.6 261.2,495.0 261.6,495.4 262.0,495.4 262.4,495.3 262.8,495.1 263.2,495.1 263.6,495.1 264.0,495.4 264.4,495.6 264.8,495.9 265.2,495.6 265.6,496.0 266.0,496.0 266.4,496.3 266.8,495.9 267.2,495.9 267.6,495.4 268.0,495.7 268.4,496.0 268.8,496.2 269.2,495.8 269.6,495.3 270.0,494.9 270.4,494.8 270.8,495.1 271.2,495.2 271.6,495.9 272.0,495.4 272.4,495.3 272.8,494.4 273.2,494.9 273.6,495.1 274.0,495.4 274.4,495.1 274.8,495.6 275.2,495.3 275.6,495.8 276.0,495.4 276.4,496.3 276.8,495.9 277.2,495.5 277.6,495.3 278.0,495.3 278.4,495.5 278.8,494.8 279.2,495.0 279.6,495.4 280.0,495.8 280.4,495.5 280.8,495.3 281.2,495.5 281.6,495.0 282.0,495.3 282.4,495.3 282.8,495.9 283.2,495.9 283.6,496.1 284.0,496.2 284.4,496.0 284.8,495.7 285.2,496.3 285.6,495.8 286.0,495.7 286.4,494.4 286.8,494.8 287.2,495.1 287.6,495.6 288.0,495.4 288.4,495.6 288.8,495.6 289.2,495.6 289.6,495.2 290.0,495.2 290.4,495.5 290.8,495.9 291.2,495.9 291.6,495.8 292.0,495.6 292.4,495.8 292.8,495.6 293.2,495.4 293.6,495.3 294.0,495.1 294.4,494.9 294.8,494.8 295.2,494.9 295.6,495.3 296.0,495.0 296.4,495.3 296.8,495.7 297.2,496.1 297.6,496.0 298.0,495.5 298.4,495.4 298.8,496.1 299.2,496.1 299.6,496.3 300.0,495.8 300.4,495.1 300.8,494.9 301.2,494.8 301.6,495.4 302.0,495.3 302.4,495.5 302.8,495.6 303.2,495.3 303.6,495.0 304.0,495.1 304.4,495.1 304.8,495.4 305.2,494.9 305.6,494.8 306.0,494.9 306.4,495.3 306.8,495.4 307.2,494.8 307.6,494.9 308.0,494.8 308.4,495.5 308.8,495.1 309.2,495.2 309.6,495.0 310.0,495.5 310.4,495.5 310.8,495.8 311.2,495.5 311.6,495.9 312.0,495.3 312.4,495.0 312.8,494.3 313.2,494.5 313.6,495.2 314.0,496.0 314.4,496.5 314.8,496.4 315.2,495.7 315.6,495.1 316.0,495.5 316.4,495.8 316.8,495.8 317.2,495.4 317.6,494.8 318.0,495.4 318.4,495.7 318.8,496.6 319.2,496.0 319.6,495.9 320.0,495.3 320.4,495.4 320.8,495.4 321.2,495.8 321.6,495.6 322.0,494.9 322.4,494.8 322.8,494.9 323.2,495.0 323.6,494.4 324.0,494.1 324.4,494.1 324.8,493.4 325.2,493.1 325.6,492.5 326.0,492.4 326.4,491.7 326.8,491.2 327.2,489.3 327.6,484.6 327.9,478.9 328.0,474.1 328.2,468.7 328.4,462.4 328.5,461.3 328.8,466.9 328.8,467.7 329.1,478.5 329.2,479.3 329.6,486.0 330.0,489.2 330.4,491.0 330.8,492.2 331.2,493.5 331.6,494.1 332.0,494.6 332.4,494.5 332.8,494.7 333.2,495.0 333.6,495.3 334.0,495.7 334.4,495.7 334.8,495.2 335.2,495.3 335.6,494.8 336.0,495.5 336.4,495.0 336.8,495.7 337.2,495.2 337.6,495.3 338.0,495.2 338.4,495.0 338.8,494.7 339.2,494.7 339.6,495.4 340.0,495.8 340.4,496.0 340.8,495.1 341.2,495.6 341.6,495.4 342.0,495.7 342.4,494.7 342.8,495.3 343.2,495.5 343.6,496.1 344.0,495.6 344.4,495.7 344.8,495.2 345.2,495.0 345.6,494.7 346.0,494.7 346.4,494.4 346.8,494.1 347.2,494.2 347.6,494.3 348.0,495.8 348.4,495.7 348.8,496.1 349.2,495.2 349.6,495.4 350.0,495.7 350.4,495.4 350.8,495.8 351.2,496.2 351.6,496.4 352.0,495.9 352.4,495.7 352.8,495.6 353.2,495.6 353.6,494.8 354.0,495.5 354.4,495.5 354.8,495.3 355.2,495.1 355.6,495.0 356.0,495.8 356.4,495.6 356.8,495.9 357.2,495.6 357.6,496.1 358.0,495.6 358.4,495.2 358.8,494.7 359.2,495.2 359.6,495.2 360.0,495.3 360.4,495.1 360.8,495.1 361.2,494.9 361.6,495.3 362.0,495.8 362.4,496.3 362.8,496.4 363.2,496.1 363.6,495.5 364.0,495.2 364.4,495.2" fill="none" stroke="#e9cd38" stroke-width="1.0" stroke-linejoin="round" />
<polyline points="374.6,495.5 375.0,494.9 375.4,495.2 375.8,495.3 376.2,495.6 376.6,495.4 377.0,495.4 377.4,495.3 377.8,495.2 378.2,495.2 378.6,495.9 379.0,495.7 379.4,495.6 379.8,495.5 380.2,495.7 380.6,495.4 381.0,495.0 381.4,494.6 381.8,494.7 382.2,495.1 382.6,495.3 383.0,496.0 383.4,495.9 383.8,496.4 384.2,496.2 384.6,495.9 385.0,496.0 385.4,496.0 385.8,496.7 386.2,496.3 386.6,495.6 387.0,495.1 387.4,495.0 387.8,495.3 388.2,495.4 388.6,495.7 389.0,495.4 389.4,496.3 389.8,496.1 390.2,496.5 390.6,495.9 391.0,496.0 391.4,495.6 391.8,495.9 392.2,495.8 392.6,496.1 393.0,495.4 393.4,495.6 393.8,495.7 394.2,495.7 394.6,495.8 395.0,495.6 395.4,495.4 395.8,494.9 396.2,494.5 396.6,494.6 397.0,494.9 397.4,495.4 397.8,495.7 398.2,495.2 398.6,495.0 399.0,495.4 399.4,495.8 399.8,495.4 400.2,495.4 400.6,495.7 401.0,496.1 401.4,495.2 401.8,495.0 402.2,494.9 402.6,495.3 403.0,494.9 403.4,495.1 403.8,495.5 404.2,495.7 404.6,495.8 405.0,495.3 405.4,495.2 405.8,494.4 406.2,494.6 406.6,494.8 407.0,495.6 407.4,495.8 407.8,495.9 408.2,495.2 408.6,495.0 409.0,494.9 409.4,495.6 409.8,495.7 410.2,495.8 410.6,495.8 411.0,495.7 411.4,495.5 411.8,494.8 412.2,494.7 412.6,494.8 413.0,495.2 413.4,495.9 413.8,496.0 414.2,496.2 414.6,495.9 415.0,495.9 415.4,495.1 415.8,495.1 416.2,495.2 416.6,495.8 417.0,495.5 417.4,495.2 417.8,495.3 418.2,495.5 418.6,495.4 419.0,494.8 419.4,494.9 419.8,495.0 420.2,495.2 420.6,495.2 421.0,495.0 421.4,494.8 421.8,494.7 422.2,494.8 422.6,495.6 423.0,495.3 423.4,495.3 423.8,495.2 424.2,495.5 424.6,495.9 425.0,496.0 425.4,496.0 425.8,496.0 426.2,495.5 426.6,495.5 427.0,495.3 427.4,496.2 427.8,496.5 428.2,497.1 428.6,496.3 429.0,495.7 429.4,494.9 429.8,495.2 430.2,495.2 430.6,495.6 431.0,495.3 431.4,494.7 431.8,494.7 432.2,494.9 432.6,495.7 433.0,495.5 433.4,495.7 433.8,496.1 434.2,496.7 434.6,496.3 435.0,495.4 435.4,494.9 435.8,495.3 436.2,495.5 436.6,495.8 437.0,496.3 437.4,496.7 437.8,496.6 438.2,496.0 438.6,495.6 439.0,495.0 439.4,494.9 439.8,494.9 440.2,495.1 440.6,495.6 441.0,496.1 441.4,496.2 441.8,495.6 442.2,495.4 442.6,495.4 443.0,495.4 443.4,495.4 443.8,495.6 444.2,495.8 444.6,496.1 445.0,496.0 445.4,496.1 445.8,495.6 446.2,495.8 446.6,495.9 447.0,496.0 447.4,495.5 447.8,495.4 448.2,495.3 448.6,495.7 449.0,495.5 449.4,496.1 449.8,495.7 450.2,496.0 450.6,495.4 451.0,495.4 451.4,495.5 451.8,495.8 452.2,496.0 452.6,495.2 453.0,495.0 453.4,494.7 453.8,495.1 454.2,495.7 454.6,495.9 455.0,495.5 455.4,494.9 455.8,494.5 456.2,495.3 456.6,495.3 457.0,495.8 457.4,495.5 457.8,496.1 458.2,496.4 458.6,496.2 459.0,495.5 459.4,495.2 459.8,494.9 460.2,494.5 460.6,495.1 461.0,495.7 461.4,496.1 461.8,495.7 462.2,495.0 462.6,494.8 463.0,494.8 463.4,495.4 463.8,495.5 464.2,495.4 464.6,495.6 465.0,496.2 465.4,496.4 465.8,496.6 466.2,495.7 466.6,495.5 467.0,495.0 467.4,495.0 467.8,495.3 468.2,495.1 468.6,495.3 469.0,495.0 469.4,494.9 469.8,495.5 470.2,495.6 470.6,496.1 471.0,495.6 471.4,495.5 471.8,495.3 472.2,495.2 472.6,495.4 473.0,495.9 473.4,495.7 473.8,495.0 474.2,494.3 474.6,494.5 475.0,494.9 475.4,495.0 475.8,495.2 476.2,495.4 476.6,495.3 477.0,495.3 477.4,495.6 477.8,496.2 478.2,496.0 478.6,495.7 479.0,495.8 479.4,496.1 479.8,496.3 480.2,495.7 480.6,495.9 481.0,495.3 481.4,495.3 481.8,495.2 482.2,495.8 482.6,496.1 483.0,495.5 483.4,495.5 483.8,494.8 484.2,495.1 484.6,495.4 485.0,496.1 485.4,496.4 485.8,495.8 486.2,495.6 486.6,495.5 487.0,495.4 487.4,495.6 487.8,496.0 488.2,496.5 488.6,496.4 489.0,496.4 489.4,496.1 489.8,496.3 490.2,495.6 490.6,495.6 491.0,495.9 491.4,496.4 491.8,496.3 492.2,495.9 492.6,495.7 493.0,495.6 493.4,495.6 493.8,495.4 494.2,495.0 494.6,495.0 495.0,495.0 495.4,495.8 495.8,495.3 496.2,495.4 496.6,494.8 497.0,495.1 497.4,494.9 497.8,495.2 498.2,495.6 498.6,495.6 499.0,495.2 499.4,494.9 499.8,495.3 500.2,496.0 500.6,495.9 501.0,494.8 501.4,493.9 501.8,493.5 502.2,493.8 502.6,494.2 503.0,494.2 503.4,493.8 503.8,492.8 504.2,492.0 504.6,490.3 505.0,487.7 505.4,483.1 505.6,478.3 505.8,474.2 506.0,467.5 506.2,461.4 506.3,460.1 506.6,466.3 506.6,466.3 506.9,477.5 507.0,478.8 507.4,486.4 507.8,489.5 508.2,491.5 508.6,492.6 509.0,494.0 509.4,494.3 509.8,494.9 510.2,495.2 510.6,495.2 511.0,494.9 511.4,494.3 511.8,495.0 512.2,494.9 512.6,494.7 513.0,494.7 513.4,495.0 513.8,495.6 514.2,495.2 514.6,494.4 515.0,494.8 515.4,495.5 515.8,496.1 516.2,495.6 516.6,494.6 517.0,494.4 517.4,495.5 517.8,496.1 518.2,496.5 518.6,495.7 519.0,495.9 519.4,495.8" fill="none" stroke="#e9cd38" stroke-width="1.0" stroke-linejoin="round" />
<polyline points="529.0,494.6 529.4,494.3 529.8,494.3 530.2,494.1 530.6,493.9 531.0,495.0 531.4,494.6 531.8,495.2 532.2,494.7 532.6,495.2 533.0,494.9 533.4,495.3 533.8,495.4 534.2,495.2 534.6,494.9 535.0,495.2 535.4,495.5 535.8,495.3 536.2,495.2 536.6,495.3 537.0,495.2 537.4,495.2 537.8,494.9 538.2,495.0 538.6,494.8 539.0,494.6 539.4,494.7 539.8,494.5 540.2,495.3 540.6,495.2 541.0,496.4 541.4,495.9 541.8,495.7 542.2,494.7 542.6,495.0 543.0,495.4 543.4,495.2 543.8,495.4 544.2,495.0 544.6,495.5 545.0,495.3 545.4,495.1 545.8,495.2 546.2,494.8 546.6,494.9 547.0,495.3 547.4,495.9 547.8,495.7 548.2,495.2 548.6,494.8 549.0,494.9 549.4,494.5 549.8,494.4 550.2,495.1 550.6,495.8 551.0,496.1 551.4,495.4 551.8,495.2 552.2,494.7 552.6,494.8 553.0,494.3 553.4,494.5 553.8,494.3 554.2,494.7 554.6,494.7 555.0,493.9 555.4,493.2 555.8,492.2 556.2,491.6 556.6,490.1 557.0,487.8 557.4,484.1 557.8,477.0 557.8,475.9 558.1,465.1 558.2,463.0 558.5,458.1 558.6,459.4 558.9,466.3 559.0,470.4 559.2,476.4 559.4,479.3 559.8,485.3 560.2,487.4 560.6,489.5 561.0,489.4 561.4,489.6 561.8,488.8 562.2,487.7 562.6,484.0 563.0,476.3 563.0,475.4 563.3,464.1 563.4,462.2 563.7,457.1 563.8,458.6 564.1,465.2 564.2,470.0 564.4,476.9 564.6,480.9 565.0,486.6 565.4,489.1 565.8,490.8 566.2,492.2 566.6,493.0 567.0,494.2 567.4,493.9 567.8,494.3 568.2,493.9 568.6,494.0 569.0,494.5 569.4,494.8 569.8,494.9 570.2,494.5 570.6,494.3 571.0,495.1 571.4,495.2 571.8,495.6 572.2,495.3 572.6,495.3 573.0,495.2 573.4,494.7 573.8,495.2 574.2,495.5 574.6,496.2 575.0,495.7 575.4,495.7 575.8,495.2 576.2,495.2 576.6,495.3 577.0,495.3 577.4,495.2 577.8,495.4 578.2,495.3 578.6,495.3 579.0,495.0 579.4,495.1 579.8,495.4 580.2,495.1 580.6,495.2 581.0,494.9 581.4,495.3 581.8,495.5 582.2,496.4 582.6,496.5 583.0,496.4 583.4,495.1 583.8,494.9 584.2,494.7 584.6,495.1 585.0,495.2 585.4,495.6 585.8,495.8 586.2,495.7 586.6,495.5 587.0,495.8 587.4,495.9 587.8,495.5 588.2,495.3 588.6,495.4 589.0,495.5 589.4,495.0 589.8,494.8 590.2,494.5 590.6,495.2 591.0,495.8 591.4,496.4 591.8,495.5 592.2,494.8 592.6,494.3 593.0,494.8 593.4,494.7 593.8,495.1 594.2,495.0 594.6,495.5 595.0,495.4 595.4,495.1 595.8,495.0 596.2,495.4 596.6,495.7 597.0,495.6 597.4,495.1 597.8,495.1 598.2,495.0 598.6,495.9 599.0,495.6 599.4,496.0 599.8,495.9 600.2,496.4 600.6,496.2 601.0,496.2 601.4,496.2 601.8,496.2 602.2,496.2 602.6,496.0 603.0,495.6 603.4,495.8 603.8,495.4 604.2,495.7 604.6,495.6 605.0,496.1 605.4,495.6 605.8,495.1 606.2,494.5 606.6,494.9 607.0,495.5 607.4,495.5 607.8,495.2 608.2,494.5 608.6,495.2 609.0,495.2 609.4,495.8 609.8,495.8 610.2,496.5 610.6,496.5 611.0,496.3 611.4,495.5 611.8,495.3 612.2,495.1 612.6,495.2 613.0,494.9 613.4,495.4 613.8,495.4 614.2,495.5 614.6,494.9 615.0,495.0 615.4,494.6 615.8,495.3 616.2,494.9 616.6,495.2 617.0,494.8 617.4,495.6 617.8,495.6 618.2,496.3 618.6,496.0 619.0,496.2 619.4,495.5 619.8,495.3 620.2,495.4 620.6,495.0 621.0,494.4 621.4,494.1 621.8,494.2 622.2,493.9 622.6,493.5 623.0,492.5 623.4,491.2 623.8,488.2 624.2,483.6 624.5,477.6 624.6,474.8 624.8,467.0 625.0,463.1 625.2,460.0 625.4,462.8 625.6,466.7 625.8,474.0 625.9,477.0 626.2,482.6 626.6,487.7 627.0,490.2 627.4,491.4 627.8,492.3 628.2,493.3 628.6,494.1 629.0,494.8 629.4,494.7 629.8,495.0 630.2,494.4 630.6,494.5 631.0,494.4 631.4,495.1 631.8,495.0 632.2,494.6 632.6,494.1 633.0,494.6 633.4,495.4 633.8,495.6 634.2,495.4 634.6,495.7 635.0,496.0 635.4,495.9 635.8,495.9 636.2,495.8 636.6,496.0 637.0,495.9 637.4,495.6 637.8,495.0 638.2,494.9 638.6,495.8 639.0,496.3 639.4,496.4 639.8,495.7 640.2,495.3 640.6,494.9 641.0,494.4 641.4,495.0 641.8,495.4 642.2,495.5 642.6,496.2 643.0,495.9 643.4,496.3 643.8,495.7 644.2,495.7 644.6,495.0 645.0,495.1 645.4,495.4 645.8,496.6 646.2,496.0 646.6,495.9 647.0,495.2 647.4,495.5 647.8,495.4 648.2,495.5 648.6,495.3 649.0,495.2 649.4,495.4 649.8,495.6 650.2,495.4 650.6,495.7 651.0,495.6 651.4,495.6 651.8,494.7 652.2,494.8 652.6,495.2 653.0,495.4 653.4,495.0 653.8,495.1 654.2,495.3 654.6,495.5 655.0,495.4 655.4,495.0 655.8,495.3 656.2,495.2 656.6,495.5 657.0,494.9 657.4,494.8 657.8,495.4 658.2,495.7 658.6,495.7 659.0,495.3 659.4,495.2 659.8,495.7 660.2,495.6 660.6,495.8 661.0,495.6 661.4,495.5 661.8,495.2 662.2,494.9 662.6,495.1 663.0,495.0 663.4,495.1 663.8,495.0 664.2,495.2 664.6,495.5 665.0,496.0 665.4,496.3 665.8,496.3 666.2,495.6 666.6,495.3 667.0,494.8 667.4,495.2 667.8,495.6 668.2,495.5 668.6,495.5 669.0,494.7 669.4,495.3 669.8,495.4 670.2,496.1 670.6,496.2 671.0,496.5 671.4,496.0 671.8,496.0 672.2,495.7 672.6,495.8 673.0,495.6 673.4,495.3 673.8,495.7 674.2,495.8 674.6,495.9 675.0,495.0 675.4,495.1 675.8,495.1 676.2,495.9 676.6,495.6 677.0,495.6 677.4,495.5 677.8,495.9 678.2,496.0 678.6,495.9 679.0,494.8 679.4,494.9 679.8,494.5 680.2,495.4 680.6,495.0 681.0,495.3 681.4,494.5 681.8,493.9 682.2,493.8 682.6,494.9 683.0,495.8 683.4,496.0 683.8,495.4 684.2,495.1" fill="none" stroke="#e9cd38" stroke-width="1.0" stroke-linejoin="round" />
<polyline points="198.0,550.3 198.4,549.6 198.8,549.9 199.2,551.1 199.6,550.7 200.0,550.2 200.4,550.6 200.8,550.0 201.2,549.3 201.6,549.0 202.0,549.9 202.4,549.5 202.8,549.5 203.2,551.7 203.6,551.0 204.0,551.0 204.4,552.1 204.8,550.4 205.2,549.1 205.6,550.0 206.0,551.1 206.4,549.8 206.8,551.0 207.2,552.4 207.6,549.9 208.0,549.9 208.4,552.2 208.8,551.9 209.2,549.6 209.6,549.2 210.0,551.5 210.4,550.8 210.8,549.1 211.2,549.3 211.6,551.1 212.0,552.6 212.4,552.2 212.8,550.2 213.2,551.5 213.6,552.8 214.0,550.9 214.4,550.4 214.8,550.7 215.2,549.8 215.6,548.7 216.0,549.9 216.4,550.8 216.8,551.7 217.2,549.6 217.6,549.0 218.0,551.9 218.4,552.3 218.8,550.9 219.2,549.8 219.6,550.2 220.0,549.8 220.4,550.0 220.8,550.8 221.2,551.7 221.6,552.3 222.0,550.4 222.4,549.8 222.8,549.8 223.2,550.4 223.6,550.6 224.0,550.2 224.4,551.5 224.8,551.5 225.2,548.8 225.6,551.0 226.0,552.2 226.4,549.3 226.8,550.0 227.2,550.6 227.6,549.5 228.0,549.4 228.4,550.5 228.8,551.2 229.2,550.9 229.6,550.4 230.0,551.5 230.4,552.3 230.8,550.3 231.2,549.9 231.6,550.7 232.0,549.3 232.4,550.3 232.8,551.3 233.2,551.7 233.6,550.3 234.0,548.9 234.4,550.6 234.8,551.1 235.2,551.0 235.6,551.9 236.0,551.6 236.4,548.4 236.8,548.4 237.2,550.2 237.6,550.7 238.0,550.4 238.4,550.1 238.8,551.3 239.2,551.5 239.6,552.0 240.0,549.3 240.4,547.5 240.8,549.2 241.2,549.4 241.6,549.5 242.0,550.2 242.4,550.1 242.8,550.7 243.2,551.0 243.6,549.5 244.0,547.2 244.4,541.3 244.7,534.5 244.8,532.1 244.9,526.4 245.2,520.2 245.4,527.0 245.6,533.2 245.7,536.0 246.0,543.5 246.4,548.5 246.8,549.2 247.2,547.9 247.6,548.1 248.0,549.2 248.4,550.2 248.8,551.3 249.2,551.1 249.6,549.4 250.0,548.0 250.4,548.3 250.8,549.0 251.2,549.4 251.6,551.2 252.0,552.5 252.4,551.3 252.8,550.1 253.2,550.9 253.6,550.9 254.0,550.4 254.4,551.2 254.8,550.4 255.2,550.1 255.6,551.0 256.0,550.5 256.4,549.3 256.8,550.4 257.2,551.4 257.6,550.5 258.0,551.3 258.4,552.0 258.8,551.2 259.2,550.7 259.6,549.5 260.0,550.5 260.4,552.4 260.8,550.3 261.2,549.7 261.6,550.3 262.0,550.8 262.4,551.6 262.8,550.6 263.2,551.5 263.6,551.5 264.0,549.5 264.4,549.6 264.8,548.7 265.2,548.0 265.6,550.0 266.0,549.5 266.4,551.0 266.8,551.9 267.2,550.9 267.6,550.7 268.0,550.9 268.4,550.0 268.8,549.7 269.2,552.4 269.6,552.4 270.0,551.6 270.4,552.1 270.8,552.3 271.2,552.6 271.6,552.5 272.0,552.5 272.4,551.7 272.8,550.0 273.2,550.6 273.6,550.7 274.0,550.7 274.4,550.8 274.8,549.3 275.2,549.3 275.6,550.8 276.0,550.6 276.4,549.7 276.8,550.6 277.2,550.5 277.6,551.7 278.0,553.6 278.4,553.0 278.8,552.3 279.2,552.3 279.6,550.6 280.0,549.5 280.4,550.9 280.8,550.8 281.2,551.1 281.6,551.3 282.0,549.4 282.4,548.7 282.8,551.1 283.2,550.9 283.6,549.2 284.0,549.2 284.4,546.0 284.8,541.6 285.1,534.3 285.2,530.3 285.4,523.6 285.6,516.5 285.9,524.2 286.0,529.9 286.1,533.5 286.4,542.5 286.8,547.6 287.2,548.1 287.6,547.9 288.0,548.5 288.4,550.2 288.8,550.7 289.2,550.4 289.6,549.8 290.0,551.0 290.4,550.9 290.8,550.8 291.2,552.6 291.6,550.4 292.0,550.7 292.4,552.2 292.8,550.4 293.2,549.8 293.6,551.1 294.0,551.9 294.4,552.3 294.8,551.5 295.2,550.0 295.6,550.8 296.0,550.4 296.4,551.0 296.8,552.8 297.2,551.6 297.6,549.9 298.0,549.7 298.4,551.7 298.8,554.8 299.2,553.2 299.6,550.9 300.0,551.8 300.4,551.6 300.8,550.0 301.2,549.7 301.6,550.0 302.0,550.0 302.4,549.2 302.8,549.3 303.2,550.8 303.6,552.2 304.0,553.8 304.4,553.7 304.8,550.4 305.2,550.2 305.6,553.1 306.0,552.1 306.4,549.6 306.8,549.7 307.2,549.8 307.6,549.4 308.0,551.3 308.4,551.8 308.8,550.9 309.2,550.5 309.6,551.2 310.0,551.8 310.4,551.4 310.8,551.0 311.2,550.7 311.6,550.4 312.0,551.2 312.4,551.7 312.8,550.9 313.2,552.4 313.6,551.8 314.0,549.3 314.4,550.0 314.8,550.7 315.2,551.3 315.6,550.7 316.0,549.3 316.4,550.1 316.8,550.8 317.2,550.9 317.6,549.5 318.0,551.3 318.4,552.4 318.8,548.7 319.2,549.0 319.6,550.3 320.0,551.0 320.4,551.1 320.8,550.2 321.2,551.0 321.6,551.5 322.0,550.8 322.4,550.0 322.8,550.9 323.2,549.7 323.6,549.9 324.0,550.8 324.4,551.0 324.8,551.0 325.2,550.7 325.6,551.0 326.0,550.5 326.4,549.3 326.8,548.1 327.2,546.5 327.6,543.4 328.0,535.2 328.2,524.9 328.4,518.6 328.5,515.3 328.8,522.8 328.8,525.6 329.0,533.1 329.2,540.0 329.6,545.0 330.0,546.7 330.4,548.8 330.8,548.4 331.2,548.8 331.6,549.0 332.0,549.2 332.4,552.0 332.8,551.4 333.2,550.9 333.6,552.4 334.0,549.7 334.4,550.1 334.8,552.3 335.2,548.8 335.6,547.4 336.0,549.8 336.4,549.5 336.8,548.8 337.2,551.0 337.6,551.4 338.0,551.6 338.4,551.1 338.8,548.9 339.2,549.5 339.6,551.4 340.0,551.5 340.4,551.4 340.8,551.8 341.2,551.7 341.6,551.1 342.0,549.7 342.4,549.8 342.8,549.8 343.2,551.2 343.6,551.7 344.0,550.0 344.4,548.8 344.8,549.8 345.2,552.7 345.6,553.0 346.0,550.8 346.4,549.8 346.8,550.9 347.2,551.0 347.6,550.4 348.0,550.5 348.4,550.9 348.8,552.2 349.2,551.5 349.6,550.6 350.0,550.3 350.4,549.5 350.8,550.8 351.2,550.6 351.6,550.5 352.0,551.4 352.4,551.2 352.8,549.9 353.2,551.1 353.6,553.8 354.0,552.9 354.4,550.7 354.8,549.6 355.2,550.4 355.6,551.4 356.0,551.7 356.4,551.4 356.8,551.9 357.2,552.3 357.6,551.5 358.0,552.3 358.4,553.0 358.8,552.4 359.2,551.7 359.6,551.0 360.0,551.1 360.4,552.1 360.8,552.8 361.2,551.3 361.6,549.6 362.0,550.4 362.4,552.3 362.8,552.3 363.2,549.9 363.6,550.0 364.0,551.1 364.4,549.8" fill="none" stroke="#ad2dad" stroke-width="1.0" stroke-linejoin="round" />
<polyline points="374.6,550.8 375.0,550.9 375.4,551.4 375.8,551.5 376.2,550.4 376.6,549.0 377.0,549.2 377.4,551.3 377.8,553.1 378.2,553.2 378.6,551.8 379.0,552.0 379.4,552.0 379.8,551.7 380.2,551.9 380.6,550.1 381.0,550.9 381.4,552.5 381.8,551.4 382.2,551.1 382.6,550.1 383.0,551.3 383.4,551.8 383.8,550.3 384.2,548.3 384.6,547.8 385.0,550.6 385.4,551.4 385.8,551.7 386.2,552.1 386.6,550.7 387.0,549.4 387.4,550.7 387.8,550.1 388.2,550.2 388.6,551.6 389.0,550.5 389.4,551.5 389.8,551.4 390.2,549.2 390.6,550.1 391.0,550.8 391.4,551.1 391.8,552.1 392.2,551.4 392.6,550.9 393.0,551.3 393.4,551.9 393.8,551.9 394.2,551.9 394.6,552.7 395.0,552.5 395.4,551.3 395.8,549.7 396.2,549.2 396.6,549.7 397.0,549.1 397.4,550.2 397.8,552.0 398.2,551.8 398.6,551.7 399.0,552.2 399.4,552.3 399.8,551.8 400.2,552.0 400.6,550.8 401.0,548.3 401.4,547.9 401.8,549.7 402.2,550.5 402.6,550.9 403.0,552.5 403.4,552.5 403.8,551.0 404.2,550.7 404.6,551.1 405.0,551.2 405.4,551.4 405.8,550.4 406.2,550.6 406.6,551.2 407.0,551.3 407.4,551.1 407.8,551.4 408.2,553.2 408.6,552.7 409.0,550.6 409.4,550.9 409.8,552.7 410.2,552.4 410.6,551.0 411.0,551.0 411.4,551.5 411.8,551.5 412.2,552.0 412.6,551.7 413.0,550.8 413.4,551.5 413.8,551.2 414.2,549.8 414.6,549.7 415.0,549.6 415.4,548.6 415.8,549.3 416.2,550.6 416.6,550.9 417.0,552.1 417.4,551.0 417.8,550.0 418.2,550.9 418.6,552.3 419.0,552.7 419.4,549.8 419.8,550.0 420.2,551.8 420.6,551.0 421.0,550.8 421.4,551.3 421.8,550.6 422.2,549.8 422.6,551.0 423.0,552.3 423.4,551.0 423.8,550.5 424.2,552.0 424.6,551.1 425.0,550.5 425.4,552.0 425.8,551.1 426.2,549.5 426.6,549.5 427.0,550.6 427.4,551.0 427.8,550.7 428.2,552.2 428.6,551.6 429.0,550.0 429.4,552.3 429.8,553.6 430.2,551.2 430.6,551.0 431.0,550.3 431.4,549.3 431.8,550.4 432.2,551.5 432.6,551.2 433.0,549.4 433.4,549.2 433.8,550.6 434.2,550.0 434.6,550.4 435.0,551.5 435.4,551.7 435.8,551.0 436.2,549.7 436.6,550.0 437.0,550.6 437.4,549.9 437.8,549.1 438.2,550.5 438.6,550.3 439.0,551.3 439.4,553.4 439.8,551.7 440.2,550.8 440.6,551.4 441.0,551.0 441.4,550.2 441.8,548.7 442.2,548.8 442.6,548.9 443.0,550.4 443.4,551.7 443.8,550.3 444.2,550.6 444.6,550.0 445.0,549.0 445.4,547.5 445.8,544.7 446.2,540.6 446.5,533.9 446.6,531.0 446.8,526.4 447.0,520.6 447.2,526.6 447.4,532.1 447.5,534.5 447.8,541.6 448.2,546.7 448.6,548.6 449.0,549.9 449.4,550.3 449.8,550.0 450.2,549.6 450.6,550.3 451.0,550.5 451.4,550.7 451.8,551.9 452.2,552.7 452.6,552.7 453.0,551.1 453.4,550.7 453.8,550.0 454.2,551.4 454.6,553.5 455.0,550.8 455.4,549.6 455.8,550.3 456.2,551.0 456.6,552.6 457.0,551.6 457.4,549.9 457.8,551.2 458.2,551.6 458.6,550.1 459.0,551.2 459.4,552.4 459.8,552.2 460.2,550.7 460.6,548.9 461.0,549.7 461.4,550.4 461.8,550.0 462.2,550.3 462.6,550.2 463.0,551.9 463.4,551.2 463.8,550.0 464.2,551.8 464.6,551.8 465.0,551.2 465.4,550.3 465.8,549.4 466.2,548.5 466.6,544.9 467.0,542.7 467.4,538.3 467.5,534.1 467.8,524.4 467.8,522.7 468.0,518.0 468.2,522.4 468.2,524.6 468.5,535.1 468.6,538.8 469.0,546.8 469.4,549.6 469.8,550.9 470.2,550.3 470.6,551.8 471.0,552.8 471.4,549.4 471.8,548.1 472.2,552.0 472.6,553.0 473.0,551.4 473.4,549.8 473.8,548.0 474.2,548.8 474.6,548.5 475.0,549.2 475.4,550.9 475.8,549.9 476.2,549.3 476.6,550.4 477.0,549.7 477.4,549.0 477.8,550.4 478.2,550.5 478.6,550.9 479.0,550.7 479.4,551.0 479.8,551.9 480.2,552.1 480.6,552.7 481.0,552.1 481.4,550.2 481.8,548.4 482.2,550.5 482.6,551.3 483.0,549.6 483.4,549.9 483.8,551.1 484.2,551.6 484.6,552.4 485.0,550.8 485.4,549.6 485.8,550.5 486.2,550.3 486.6,551.2 487.0,551.0 487.4,550.9 487.8,550.3 488.2,550.9 488.6,550.9 489.0,550.2 489.4,551.0 489.8,550.5 490.2,551.0 490.6,550.8 491.0,550.4 491.4,552.0 491.8,553.0 492.2,552.1 492.6,550.3 493.0,550.2 493.4,550.2 493.8,549.7 494.2,551.3 494.6,550.6 495.0,548.4 495.4,549.6 495.8,550.4 496.2,549.8 496.6,549.6 497.0,550.6 497.4,549.6 497.8,549.0 498.2,550.9 498.6,550.8 499.0,551.2 499.4,551.8 499.8,550.8 500.2,549.5 500.6,549.1 501.0,548.2 501.4,549.1 501.8,551.4 502.2,549.7 502.6,549.2 503.0,551.5 503.4,552.6 503.8,551.3 504.2,550.9 504.6,551.9 505.0,551.1 505.4,551.1 505.8,550.7 506.2,550.4 506.6,550.3 507.0,550.2 507.4,552.0 507.8,551.4 508.2,550.3 508.6,550.9 509.0,552.3 509.4,550.9 509.8,550.8 510.2,551.5 510.6,550.5 511.0,551.3 511.4,550.8 511.8,549.9 512.2,550.2 512.6,549.7 513.0,549.8 513.4,550.6 513.8,551.0 514.2,551.3 514.6,550.7 515.0,550.2 515.4,550.4 515.8,552.3 516.2,551.1 516.6,548.8 517.0,551.2 517.4,552.7 517.8,550.3 518.2,551.5 518.6,552.8 519.0,550.9 519.4,551.1" fill="none" stroke="#ad2dad" stroke-width="1.0" stroke-linejoin="round" />
<polyline points="529.0,550.9 529.4,550.1 529.8,551.3 530.2,552.5 530.6,549.4 531.0,548.5 531.4,551.2 531.8,551.6 532.2,550.4 532.6,550.3 533.0,549.9 533.4,549.5 533.8,551.6 534.2,552.9 534.6,550.7 535.0,549.6 535.4,551.0 535.8,551.5 536.2,549.2 536.6,548.7 537.0,549.5 537.4,550.5 537.8,551.7 538.2,550.7 538.6,549.7 539.0,548.6 539.4,549.7 539.8,552.1 540.2,552.2 540.6,551.9 541.0,551.8 541.4,552.3 541.8,551.0 542.2,550.1 542.6,552.8 543.0,552.4 543.4,551.7 543.8,552.0 544.2,551.0 544.6,549.6 545.0,551.2 545.4,553.6 545.8,551.8 546.2,550.0 546.6,550.1 547.0,549.3 547.4,548.7 547.8,548.7 548.2,549.8 548.6,552.1 549.0,552.0 549.4,548.9 549.8,546.8 550.2,548.8 550.6,549.8 551.0,549.3 551.4,550.1 551.8,550.2 552.2,551.1 552.6,552.3 553.0,551.0 553.4,549.2 553.8,550.2 554.2,552.1 554.6,551.6 555.0,550.1 555.4,550.6 555.8,549.9 556.2,549.7 556.6,550.3 557.0,550.2 557.4,550.4 557.8,550.7 558.2,551.6 558.6,550.8 559.0,549.5 559.4,550.4 559.8,551.7 560.2,551.2 560.6,551.4 561.0,551.6 561.4,550.5 561.8,551.2 562.2,550.8 562.6,549.7 563.0,550.2 563.4,549.3 563.8,548.3 564.2,548.7 564.6,549.1 565.0,549.8 565.4,550.6 565.8,548.7 566.2,546.0 566.6,544.0 567.0,539.1 567.3,533.4 567.4,531.3 567.6,523.8 567.8,521.3 568.0,517.7 568.2,517.0 568.4,521.1 568.6,530.9 568.7,534.5 569.0,539.6 569.4,541.8 569.8,543.9 570.2,547.2 570.6,548.9 571.0,549.2 571.4,550.4 571.8,550.3 572.2,550.3 572.6,551.6 573.0,552.4 573.4,551.9 573.8,551.1 574.2,549.6 574.6,549.7 575.0,551.1 575.4,551.0 575.8,551.5 576.2,550.9 576.6,551.0 577.0,550.1 577.4,549.8 577.8,549.2 578.2,547.9 578.6,549.0 579.0,548.9 579.4,547.0 579.8,545.3 580.2,542.8 580.6,538.9 580.8,535.5 581.0,528.2 581.1,524.5 581.4,519.6 581.5,517.9 581.8,522.8 581.9,523.0 582.2,534.5 582.6,544.0 583.0,546.8 583.4,547.6 583.8,549.0 584.2,548.1 584.6,548.4 585.0,551.1 585.4,550.9 585.8,550.5 586.2,549.5 586.6,548.7 587.0,550.3 587.4,549.9 587.8,549.6 588.2,550.7 588.6,550.6 589.0,550.2 589.4,550.2 589.8,550.9 590.2,551.3 590.6,551.3 591.0,552.6 591.4,552.5 591.8,551.9 592.2,550.6 592.6,550.1 593.0,551.8 593.4,550.5 593.8,550.1 594.2,551.4 594.6,550.4 595.0,549.4 595.4,550.5 595.8,550.6 596.2,548.9 596.6,546.9 597.0,545.4 597.4,545.0 597.8,542.6 598.2,535.2 598.5,524.4 598.6,521.6 598.9,516.0 599.0,517.8 599.2,523.5 599.4,526.4 599.6,531.4 599.8,537.2 600.2,543.3 600.6,546.0 601.0,548.9 601.4,549.0 601.8,548.8 602.2,549.7 602.6,549.3 603.0,550.3 603.4,551.0 603.8,549.4 604.2,548.0 604.6,549.0 605.0,550.1 605.4,549.6 605.8,550.0 606.2,551.0 606.6,551.9 607.0,551.5 607.4,550.5 607.8,550.5 608.2,549.5 608.6,549.1 609.0,550.4 609.4,551.3 609.8,551.6 610.2,551.2 610.6,550.9 611.0,551.5 611.4,551.6 611.8,551.4 612.2,551.4 612.6,550.7 613.0,550.8 613.4,550.8 613.8,549.3 614.2,549.3 614.6,551.1 615.0,551.2 615.4,552.0 615.8,551.2 616.2,549.1 616.6,551.4 617.0,553.2 617.4,552.7 617.8,552.0 618.2,551.3 618.6,549.7 619.0,549.7 619.4,550.7 619.8,551.1 620.2,550.5 620.6,549.6 621.0,549.6 621.4,549.9 621.8,549.6 622.2,549.7 622.6,550.9 623.0,551.5 623.4,550.9 623.8,550.5 624.2,550.1 624.6,550.2 625.0,551.7 625.4,550.6 625.8,550.3 626.2,551.4 626.6,549.9 627.0,550.5 627.4,550.5 627.8,549.6 628.2,551.4 628.6,551.8 629.0,550.7 629.4,550.4 629.8,550.5 630.2,551.0 630.6,550.8 631.0,551.1 631.4,552.1 631.8,550.4 632.2,549.2 632.6,549.5 633.0,550.0 633.4,550.3 633.8,549.9 634.2,550.6 634.6,550.4 635.0,549.2 635.4,549.0 635.8,549.6 636.2,551.0 636.6,552.1 637.0,552.1 637.4,552.7 637.8,552.3 638.2,551.0 638.6,551.4 639.0,551.9 639.4,550.6 639.8,550.7 640.2,550.8 640.6,548.8 641.0,547.9 641.4,549.2 641.8,549.8 642.1,548.8 642.2,548.9 642.5,548.9 642.6,548.3 642.8,547.0 643.0,546.7 643.1,548.0 643.4,548.3 643.5,547.3 643.8,549.3 644.2,549.9 644.6,550.9 645.0,550.1 645.4,546.9 645.8,548.0 646.2,550.2 646.6,549.7 647.0,546.7 647.4,545.6 647.8,544.2 648.2,539.8 648.5,532.8 648.6,529.9 648.9,522.2 649.0,516.9 649.2,514.7 649.4,519.0 649.5,524.3 649.8,532.3 649.9,535.8 650.2,540.7 650.6,545.1 651.0,546.9 651.4,546.5 651.8,547.5 652.2,549.5 652.6,551.4 653.0,550.6 653.4,548.3 653.8,548.5 654.2,549.3 654.6,547.9 655.0,549.4 655.4,551.1 655.8,550.4 656.2,550.3 656.6,550.6 657.0,551.2 657.4,551.7 657.8,551.7 658.2,549.9 658.6,549.8 659.0,551.6 659.4,551.3 659.8,551.8 660.2,551.8 660.6,550.1 661.0,549.7 661.4,550.2 661.8,549.7 662.2,550.3 662.6,551.1 663.0,551.2 663.4,550.9 663.8,549.9 664.2,550.6 664.6,551.9 665.0,550.1 665.4,548.8 665.8,549.9 666.2,551.1 666.6,551.5 667.0,550.6 667.4,549.6 667.8,550.5 668.2,552.6 668.6,552.2 669.0,550.3 669.4,549.7 669.8,550.5 670.2,552.0 670.6,552.5 671.0,550.8 671.4,549.9 671.8,552.5 672.2,552.5 672.6,550.4 673.0,550.8 673.4,551.1 673.8,551.3 674.2,550.7 674.6,549.2 675.0,549.1 675.4,550.2 675.8,550.8 676.2,551.9 676.6,552.9 677.0,553.1 677.4,552.2 677.8,551.3 678.2,551.8 678.6,551.4 679.0,550.7 679.4,551.2 679.8,550.2 680.2,549.0 680.6,550.5 681.0,551.9 681.4,552.5 681.8,552.7 682.2,551.6 682.6,551.1 683.0,550.8 683.4,551.0 683.8,550.0 684.2,550.0" fill="none" stroke="#ad2dad" stroke-width="1.0" stroke-linejoin="round" />
<polyline points="198.0,604.6 198.4,604.9 198.8,604.9 199.2,605.0 199.6,604.7 200.0,604.7 200.4,604.7 200.8,605.0 201.2,604.8 201.6,604.6 202.0,604.3 202.4,604.6 202.8,604.6 203.2,604.5 203.6,604.6 204.0,604.6 204.4,604.6 204.8,604.5 205.2,604.7 205.6,604.8 206.0,604.8 206.4,604.8 206.8,604.9 207.2,605.0 207.6,604.8 208.0,604.6 208.4,604.4 208.8,604.5 209.2,604.8 209.6,604.8 210.0,604.6 210.4,604.5 210.8,604.7 211.2,604.7 211.6,604.7 212.0,604.6 212.4,604.8 212.8,604.8 213.2,604.7 213.6,604.6 214.0,604.7 214.4,604.7 214.8,604.7 215.2,604.9 215.6,604.7 216.0,604.7 216.4,604.8 216.8,605.0 217.2,604.9 217.6,604.9 218.0,604.9 218.4,605.0 218.8,604.7 219.2,604.6 219.6,604.8 220.0,604.9 220.4,604.8 220.8,604.5 221.2,604.4 221.6,604.6 222.0,604.8 222.4,604.7 222.8,604.6 223.2,604.6 223.6,604.9 224.0,604.7 224.4,604.7 224.8,604.6 225.2,604.7 225.6,604.7 226.0,604.7 226.4,604.6 226.8,604.4 227.2,604.4 227.6,604.4 228.0,604.5 228.4,604.5 228.8,604.7 229.2,604.7 229.6,604.7 230.0,604.7 230.4,604.5 230.8,604.6 231.2,604.5 231.6,604.5 232.0,604.4 232.4,604.4 232.8,604.5 233.2,604.4 233.6,604.4 234.0,604.4 234.4,604.5 234.8,604.6 235.2,604.6 235.6,604.5 236.0,604.5 236.4,604.3 236.8,603.9 237.2,603.3 237.6,602.9 238.0,602.4 238.4,601.5 238.8,598.9 239.2,593.4 239.4,588.2 239.6,580.7 239.7,578.4 239.9,571.7 240.0,573.0 240.2,578.4 240.4,588.3 240.8,596.9 241.2,600.3 241.6,601.6 242.0,602.6 242.4,603.3 242.8,603.9 243.2,604.0 243.6,604.1 244.0,604.2 244.4,604.2 244.8,604.4 245.2,604.4 245.6,604.6 246.0,604.4 246.4,604.4 246.8,604.4 247.2,604.4 247.6,604.5 248.0,604.3 248.4,604.6 248.8,604.5 249.2,604.6 249.6,604.5 250.0,604.6 250.4,604.4 250.8,604.4 251.2,604.2 251.6,604.5 252.0,604.4 252.4,604.6 252.8,604.7 253.2,604.6 253.6,604.5 254.0,604.5 254.4,604.5 254.8,604.7 255.2,604.6 255.6,604.8 256.0,604.7 256.4,604.9 256.8,604.7 257.2,604.6 257.6,604.7 258.0,604.8 258.4,604.9 258.8,604.7 259.2,604.6 259.6,604.7 260.0,604.7 260.4,604.5 260.8,604.3 261.2,604.2 261.6,604.4 262.0,604.5 262.4,604.4 262.8,604.3 263.2,603.8 263.6,603.8 264.0,603.7 264.4,603.9 264.8,603.7 265.2,603.4 265.6,603.3 266.0,602.7 266.4,601.4 266.8,598.2 267.2,591.0 267.3,587.9 267.6,577.9 267.6,575.7 267.8,570.9 268.0,575.4 268.1,577.8 268.3,587.7 268.4,590.8 268.8,597.8 269.2,601.1 269.6,602.4 270.0,603.2 270.4,603.5 270.8,603.8 271.2,603.9 271.6,604.0 272.0,604.0 272.4,604.1 272.8,604.1 273.2,604.3 273.6,604.3 274.0,604.3 274.4,604.2 274.8,604.2 275.2,604.1 275.6,604.4 276.0,604.2 276.4,604.3 276.8,604.3 277.2,604.1 277.6,604.1 278.0,603.8 278.4,603.8 278.8,603.4 279.2,602.8 279.6,602.2 280.0,602.6 280.4,603.1 280.8,603.5 281.2,603.7 281.6,604.0 282.0,604.2 282.4,604.3 282.8,604.3 283.2,604.3 283.6,604.3 284.0,604.1 284.4,603.9 284.8,603.8 285.2,603.6 285.6,603.1 286.0,602.0 286.4,600.4 286.8,596.8 287.2,588.6 287.4,579.1 287.6,574.2 287.7,572.9 287.9,578.9 288.0,581.1 288.2,588.4 288.4,593.7 288.8,598.9 289.2,601.2 289.6,602.7 290.0,603.5 290.4,604.2 290.8,604.1 291.2,604.0 291.6,603.8 292.0,603.9 292.4,604.0 292.8,604.4 293.2,604.5 293.6,604.5 294.0,604.4 294.4,604.4 294.8,604.5 295.2,604.5 295.6,604.6 296.0,604.7 296.4,605.0 296.8,604.8 297.2,604.8 297.6,604.5 298.0,604.9 298.4,604.8 298.8,605.0 299.2,604.9 299.6,605.1 300.0,605.0 300.4,605.0 300.8,604.6 301.2,604.5 301.6,604.3 302.0,604.6 302.4,604.7 302.8,604.7 303.2,604.8 303.6,604.9 304.0,605.0 304.4,604.6 304.8,604.6 305.2,604.7 305.6,605.0 306.0,605.0 306.4,605.0 306.8,604.8 307.2,604.5 307.6,604.6 308.0,604.1 308.4,604.2 308.8,604.2 309.2,604.7 309.6,605.0 310.0,604.9 310.4,604.7 310.8,604.4 311.2,604.2 311.6,604.4 312.0,604.6 312.4,604.6 312.8,604.6 313.2,604.6 313.6,604.6 314.0,604.6 314.4,604.7 314.8,605.0 315.2,604.9 315.6,604.9 316.0,604.7 316.4,604.8 316.8,604.7 317.2,604.6 317.6,604.4 318.0,604.5 318.4,604.5 318.8,604.5 319.2,604.5 319.6,604.7 320.0,604.9 320.4,604.8 320.8,604.9 321.2,604.7 321.6,604.5 322.0,604.3 322.4,604.2 322.8,604.3 323.2,604.1 323.6,604.3 324.0,604.1 324.4,604.2 324.8,604.0 325.2,603.9 325.6,603.9 326.0,603.9 326.4,603.8 326.8,603.0 327.2,602.3 327.6,600.9 328.0,598.5 328.4,591.9 328.5,589.0 328.8,579.2 328.8,577.4 329.0,572.9 329.2,577.4 329.2,579.1 329.5,588.5 329.6,591.3 330.0,597.9 330.4,600.8 330.8,602.3 331.2,603.1 331.6,603.6 332.0,603.8 332.4,604.3 332.8,604.4 333.2,604.7 333.6,604.4 334.0,604.3 334.4,604.1 334.8,604.2 335.2,604.2 335.6,604.5 336.0,604.5 336.4,604.4 336.8,604.2 337.2,604.2 337.6,604.7 338.0,604.9 338.4,604.9 338.8,604.8 339.2,604.8 339.6,604.8 340.0,604.8 340.4,604.7 340.8,604.7 341.2,604.6 341.6,604.5 342.0,604.5 342.4,604.3 342.8,604.5 343.2,604.5 343.6,604.6 344.0,604.4 344.4,604.6 344.8,604.7 345.2,604.9 345.6,604.6 346.0,604.6 346.4,604.9 346.8,605.3 347.2,605.4 347.6,605.3 348.0,605.1 348.4,605.1 348.8,604.9 349.2,604.7 349.6,604.6 350.0,604.9 350.4,605.1 350.8,605.3 351.2,605.0 351.6,605.2 352.0,604.7 352.4,605.0 352.8,604.7 353.2,604.7 353.6,604.3 354.0,604.6 354.4,604.8 354.8,604.9 355.2,604.7 355.6,604.7 356.0,604.9 356.4,604.8 356.8,604.5 357.2,604.1 357.6,603.9 358.0,603.9 358.4,604.2 358.8,604.3 359.2,604.4 359.6,604.4 360.0,604.5 360.4,604.6 360.8,604.5 361.2,604.5 361.6,604.5 362.0,604.6 362.4,604.6 362.8,604.6 363.2,604.7 363.6,604.9 364.0,604.9 364.4,604.9" fill="none" stroke="#579f58" stroke-width="1.0" stroke-linejoin="round" />
<polyline points="374.6,604.8 375.0,604.9 375.4,604.7 375.8,604.5 376.2,604.5 376.6,604.3 377.0,604.4 377.4,604.5 377.8,605.0 378.2,605.2 378.6,605.2 379.0,605.1 379.4,605.0 379.8,604.8 380.2,604.8 380.6,604.6 381.0,604.6 381.4,604.4 381.8,604.5 382.2,604.7 382.6,604.9 383.0,604.9 383.4,604.8 383.8,604.6 384.2,604.7 384.6,604.8 385.0,604.9 385.4,604.7 385.8,604.1 386.2,604.2 386.6,604.1 387.0,604.5 387.4,604.6 387.8,604.6 388.2,604.6 388.6,604.5 389.0,604.6 389.4,604.6 389.8,604.8 390.2,604.8 390.6,604.7 391.0,604.8 391.4,604.7 391.8,605.0 392.2,604.7 392.6,604.9 393.0,605.1 393.4,605.0 393.8,604.8 394.2,604.5 394.6,604.7 395.0,604.8 395.4,605.0 395.8,604.9 396.2,604.8 396.6,604.7 397.0,604.8 397.4,604.8 397.8,604.6 398.2,604.1 398.6,604.2 399.0,604.5 399.4,605.1 399.8,605.2 400.2,605.0 400.6,604.8 401.0,604.5 401.4,604.7 401.8,604.6 402.2,604.9 402.6,604.5 403.0,604.3 403.4,604.1 403.8,604.0 404.2,604.1 404.6,603.9 405.0,603.4 405.4,602.7 405.8,602.2 406.2,600.9 406.6,598.3 407.0,590.9 407.1,587.8 407.4,577.6 407.4,575.5 407.6,570.9 407.8,575.9 407.9,577.9 408.1,588.1 408.2,590.7 408.6,597.9 409.0,601.1 409.4,602.6 409.8,603.5 410.2,603.8 410.6,604.3 411.0,604.2 411.4,604.2 411.8,604.4 412.2,604.5 412.6,604.4 413.0,604.4 413.4,604.1 413.8,604.3 414.2,604.2 414.6,604.8 415.0,604.7 415.4,604.9 415.8,604.7 416.2,604.9 416.6,604.8 417.0,605.0 417.4,604.8 417.8,604.6 418.2,604.3 418.6,604.5 419.0,604.7 419.4,604.6 419.8,604.5 420.2,604.4 420.6,604.4 421.0,604.3 421.4,604.2 421.8,604.3 422.2,604.6 422.6,604.5 423.0,604.7 423.4,604.4 423.8,604.5 424.2,604.3 424.6,604.4 425.0,604.5 425.4,604.6 425.8,604.6 426.2,604.6 426.6,604.4 427.0,604.4 427.4,604.6 427.8,604.8 428.2,604.9 428.6,604.9 429.0,604.9 429.4,605.0 429.8,604.9 430.2,604.8 430.6,604.8 431.0,604.8 431.4,604.7 431.8,604.7 432.2,604.8 432.6,604.8 433.0,604.7 433.4,604.6 433.8,604.5 434.2,604.5 434.6,604.6 435.0,604.8 435.4,604.9 435.8,604.9 436.2,604.9 436.6,604.4 437.0,604.2 437.4,604.2 437.8,604.7 438.2,604.8 438.6,604.6 439.0,604.3 439.4,604.3 439.8,604.4 440.2,604.5 440.6,604.2 441.0,604.1 441.4,603.4 441.4,603.6 441.8,603.0 441.8,603.0 442.2,602.6 442.6,603.0 442.6,603.3 442.9,603.7 443.0,603.6 443.4,603.8 443.8,604.2 444.2,604.7 444.6,604.5 445.0,604.4 445.4,604.3 445.8,604.6 446.2,604.5 446.6,604.4 447.0,604.5 447.4,604.5 447.8,604.6 448.2,604.4 448.6,604.5 449.0,604.4 449.4,604.7 449.8,604.8 450.2,604.7 450.6,604.7 451.0,604.6 451.4,604.8 451.8,604.6 452.2,604.5 452.6,604.6 453.0,604.9 453.4,604.8 453.8,604.8 454.2,604.5 454.6,604.6 455.0,604.3 455.4,604.3 455.8,604.3 456.2,604.5 456.6,604.5 457.0,604.4 457.4,604.5 457.8,604.4 458.2,604.5 458.6,604.4 459.0,604.5 459.4,604.2 459.8,604.0 460.2,603.8 460.6,603.8 461.0,603.2 461.4,602.5 461.8,601.6 462.2,600.3 462.6,597.3 463.0,589.9 463.2,581.9 463.4,577.2 463.5,576.2 463.8,580.9 463.8,582.8 464.0,588.6 464.2,592.6 464.6,594.7 465.0,590.8 465.1,588.8 465.4,580.7 465.4,579.0 465.6,575.4 465.8,579.6 465.9,581.2 466.1,589.7 466.2,592.0 466.6,598.4 467.0,601.0 467.4,602.4 467.8,602.8 468.2,603.2 468.6,603.3 469.0,603.8 469.4,604.1 469.8,604.1 470.2,604.1 470.6,604.1 471.0,604.4 471.4,604.4 471.8,604.3 472.2,604.3 472.6,604.3 473.0,604.4 473.4,604.7 473.8,604.8 474.2,604.6 474.6,604.7 475.0,604.5 475.4,604.4 475.8,604.1 476.2,604.5 476.6,604.7 477.0,604.6 477.4,604.5 477.8,604.7 478.2,605.1 478.6,604.9 479.0,604.8 479.4,604.4 479.8,604.8 480.2,604.7 480.6,604.8 481.0,604.7 481.4,605.1 481.8,604.9 482.2,604.8 482.6,604.7 483.0,604.8 483.4,604.9 483.8,604.6 484.2,604.4 484.6,604.6 485.0,604.5 485.4,604.7 485.8,604.4 486.2,604.7 486.6,604.6 487.0,604.7 487.4,604.8 487.8,604.8 488.2,604.6 488.6,604.8 489.0,605.0 489.4,605.1 489.8,605.0 490.2,604.8 490.6,604.7 491.0,604.5 491.4,604.4 491.8,604.4 492.2,604.7 492.6,604.8 493.0,604.6 493.4,604.6 493.8,604.3 494.2,604.5 494.6,604.3 495.0,604.5 495.4,604.7 495.8,604.6 496.2,604.6 496.6,604.6 497.0,604.7 497.4,604.9 497.8,604.8 498.2,604.8 498.6,604.4 499.0,604.5 499.4,604.8 499.8,605.1 500.2,604.9 500.6,604.8 501.0,604.9 501.4,604.9 501.8,604.9 502.2,604.7 502.6,604.9 503.0,604.6 503.4,604.4 503.8,604.2 504.2,604.5 504.6,604.7 505.0,604.9 505.4,605.0 505.8,604.7 506.2,604.6 506.6,604.4 507.0,604.5 507.4,604.6 507.8,604.7 508.2,604.9 508.6,604.8 509.0,604.8 509.4,604.5 509.8,604.5 510.2,604.6 510.6,605.0 511.0,604.9 511.4,604.8 511.8,604.6 512.2,604.9 512.6,605.0 513.0,605.2 513.4,604.9 513.8,604.8 514.2,604.4 514.6,604.5 515.0,604.6 515.4,604.8 515.8,604.7 516.2,604.5 516.6,604.3 517.0,604.3 517.4,604.5 517.8,604.8 518.2,604.8 518.6,604.6 519.0,604.6 519.4,604.6" fill="none" stroke="#579f58" stroke-width="1.0" stroke-linejoin="round" />
<polyline points="529.0,604.7 529.4,604.6 529.8,604.5 530.2,604.6 530.6,604.7 531.0,604.7 531.4,604.6 531.8,604.6 532.2,604.8 532.6,604.9 533.0,605.1 533.4,605.0 533.8,604.6 534.2,604.4 534.6,604.3 535.0,604.6 535.4,604.8 535.8,605.0 536.2,604.9 536.6,605.0 537.0,604.8 537.4,604.9 537.8,604.7 538.2,604.6 538.6,604.6 539.0,604.7 539.4,604.7 539.8,604.7 540.2,604.5 540.6,604.6 541.0,604.6 541.4,604.8 541.8,604.8 542.2,604.8 542.6,604.6 543.0,604.7 543.4,604.6 543.8,604.8 544.2,604.7 544.6,604.7 545.0,604.5 545.4,604.6 545.8,604.6 546.2,604.8 546.6,604.8 547.0,604.7 547.4,604.6 547.8,604.5 548.2,604.6 548.6,604.7 549.0,604.8 549.4,604.5 549.8,604.4 550.2,604.4 550.6,604.7 551.0,604.7 551.4,604.9 551.8,604.8 552.2,604.9 552.6,604.8 553.0,604.4 553.4,604.4 553.8,604.3 554.2,604.7 554.6,604.9 555.0,604.9 555.4,604.5 555.8,604.6 556.2,604.5 556.6,604.9 557.0,604.7 557.4,604.5 557.8,604.3 558.2,604.3 558.6,604.5 559.0,604.4 559.4,604.4 559.8,604.4 560.2,604.5 560.6,604.4 561.0,604.2 561.4,604.2 561.8,604.5 562.2,604.3 562.6,604.2 563.0,603.5 563.4,603.6 563.8,603.4 564.2,603.7 564.6,603.4 565.0,603.2 565.4,602.8 565.8,602.4 566.2,601.8 566.6,600.5 567.0,598.3 567.4,594.2 567.8,586.7 568.1,576.4 568.2,575.3 568.5,569.9 568.6,570.5 568.9,576.6 569.0,581.3 569.2,586.8 569.4,591.2 569.8,596.5 570.2,599.2 570.6,600.8 571.0,601.3 571.4,602.0 571.8,602.3 572.2,602.9 572.6,602.9 573.0,602.9 573.4,602.7 573.8,602.6 574.2,602.0 574.6,601.2 575.0,600.0 575.4,597.9 575.8,593.6 576.0,589.6 576.2,584.5 576.4,580.6 576.6,575.7 576.7,575.5 577.0,579.7 577.0,580.9 577.4,589.6 577.8,595.7 578.2,599.0 578.6,600.9 579.0,602.0 579.4,602.6 579.8,603.1 580.2,603.4 580.6,603.6 581.0,603.8 581.4,604.0 581.8,604.0 582.2,603.8 582.6,604.0 583.0,604.1 583.4,604.3 583.8,604.3 584.2,604.3 584.6,604.1 585.0,604.0 585.4,604.0 585.8,604.2 586.2,604.2 586.6,604.3 587.0,604.2 587.4,604.3 587.8,604.2 588.2,604.0 588.6,603.9 589.0,603.7 589.4,603.8 589.8,603.6 590.2,603.8 590.6,603.7 591.0,603.6 591.4,603.1 591.8,602.8 592.2,602.2 592.6,601.3 593.0,600.0 593.4,598.0 593.8,593.3 594.0,589.0 594.2,583.7 594.4,579.3 594.6,573.9 594.7,573.2 595.0,578.3 595.0,579.5 595.4,588.7 595.8,595.4 596.2,599.2 596.6,601.0 597.0,602.1 597.4,602.8 597.8,603.5 598.2,603.6 598.6,603.5 599.0,603.5 599.4,603.7 599.8,603.8 600.2,604.1 600.6,604.2 601.0,604.4 601.4,604.3 601.8,604.5 602.2,604.3 602.6,604.4 603.0,604.2 603.4,604.5 603.8,604.5 604.2,604.5 604.6,604.2 605.0,604.4 605.4,604.3 605.8,604.4 606.2,604.3 606.6,604.1 607.0,604.2 607.4,603.9 607.8,603.9 608.2,603.8 608.6,603.8 609.0,603.7 609.4,603.3 609.8,603.0 610.2,601.8 610.6,600.5 611.0,598.0 611.4,594.4 611.7,589.5 611.8,587.4 612.0,580.9 612.2,577.1 612.4,574.8 612.6,577.2 612.8,581.0 613.0,587.4 613.1,589.4 613.4,594.4 613.8,598.2 614.2,600.6 614.6,601.9 615.0,602.4 615.4,602.8 615.8,603.3 616.2,603.9 616.6,604.3 617.0,604.4 617.4,604.5 617.8,604.3 618.2,604.5 618.6,604.3 619.0,604.5 619.4,604.4 619.8,604.8 620.2,604.5 620.6,604.3 621.0,604.3 621.4,604.5 621.8,604.6 622.2,604.4 622.6,604.3 623.0,604.3 623.4,604.5 623.8,604.4 624.2,604.4 624.6,604.7 625.0,604.6 625.4,604.8 625.8,604.3 626.2,604.4 626.6,604.4 627.0,604.5 627.4,604.6 627.8,604.3 628.2,604.1 628.6,604.1 629.0,604.1 629.4,604.1 629.8,604.0 630.2,603.8 630.6,603.6 631.0,603.6 631.4,603.6 631.8,603.5 632.2,603.4 632.6,602.9 633.0,602.8 633.4,602.2 633.8,601.3 634.2,599.5 634.6,596.5 635.0,591.0 635.2,586.4 635.4,580.7 635.5,575.8 635.8,569.9 635.9,569.3 636.2,575.0 636.2,576.8 636.6,587.3 637.0,594.8 637.4,598.5 637.8,600.7 638.2,601.6 638.6,602.3 639.0,602.8 639.4,603.5 639.8,603.9 640.2,604.3 640.6,604.4 641.0,604.4 641.4,604.3 641.8,604.3 642.2,604.2 642.6,604.2 643.0,604.4 643.4,604.3 643.8,604.2 644.2,604.2 644.6,604.2 645.0,604.4 645.4,604.3 645.8,604.3 646.2,604.2 646.6,604.2 647.0,604.5 647.4,604.6 647.8,604.3 648.2,604.3 648.6,604.4 649.0,604.8 649.4,604.7 649.8,604.9 650.2,604.7 650.6,604.5 651.0,604.0 651.4,604.1 651.8,604.2 652.2,604.2 652.6,604.3 653.0,604.3 653.4,604.6 653.8,604.6 654.2,604.6 654.6,604.7 655.0,604.4 655.4,604.6 655.8,604.2 656.2,604.2 656.6,604.0 657.0,604.3 657.4,604.2 657.8,604.3 658.2,604.4 658.6,604.7 659.0,604.8 659.4,604.7 659.8,604.6 660.2,604.3 660.6,604.1 661.0,604.4 661.4,604.6 661.8,604.9 662.2,604.7 662.6,604.6 663.0,604.6 663.4,604.7 663.8,604.7 664.2,604.6 664.6,604.7 665.0,604.5 665.4,604.4 665.8,604.4 666.2,604.4 666.6,604.6 667.0,604.5 667.4,604.4 667.8,604.7 668.2,604.5 668.6,604.6 669.0,604.3 669.4,604.6 669.8,604.8 670.2,604.7 670.6,604.5 671.0,604.5 671.4,604.5 671.8,604.8 672.2,604.8 672.6,604.9 673.0,604.7 673.4,604.7 673.8,604.7 674.2,604.8 674.6,604.6 675.0,604.4 675.4,604.2 675.8,604.4 676.2,604.6 676.6,604.8 677.0,604.7 677.4,604.8 677.8,604.8 678.2,604.9 678.6,604.8 679.0,604.8 679.4,605.0 679.8,605.1 680.2,605.0 680.6,604.9 681.0,604.9 681.4,604.8 681.8,604.7 682.2,604.7 682.6,604.7 683.0,604.8 683.4,604.6 683.8,604.7 684.2,604.7" fill="none" stroke="#579f58" stroke-width="1.0" stroke-linejoin="round" />
<polyline points="198.0,661.0 198.4,661.3 198.8,661.1 199.2,660.8 199.6,660.4 200.0,659.7 200.4,659.6 200.8,660.4 201.2,659.5 201.6,660.1 202.0,660.7 202.4,661.0 202.8,659.8 203.2,661.1 203.6,661.6 204.0,661.9 204.4,662.2 204.8,663.0 205.2,662.6 205.6,662.5 206.0,661.7 206.4,660.2 206.8,660.1 207.2,660.2 207.6,659.8 208.0,660.6 208.4,661.2 208.8,661.7 209.2,662.4 209.6,662.0 210.0,661.9 210.4,662.4 210.8,661.5 211.2,660.6 211.6,661.5 212.0,661.3 212.4,660.8 212.8,661.7 213.2,661.5 213.6,660.8 214.0,660.4 214.4,660.0 214.8,659.9 215.2,660.1 215.6,659.8 216.0,660.5 216.4,660.8 216.8,660.0 217.2,659.5 217.6,660.3 218.0,660.6 218.4,660.8 218.8,662.2 219.2,662.3 219.6,662.0 220.0,661.3 220.4,660.7 220.8,659.5 221.2,659.2 221.6,658.8 222.0,658.7 222.4,659.0 222.8,659.4 223.2,660.2 223.6,660.8 224.0,661.2 224.4,661.6 224.8,661.0 225.2,661.6 225.6,661.7 226.0,661.1 226.4,660.8 226.8,661.2 227.2,659.8 227.6,659.7 228.0,659.8 228.4,660.5 228.8,660.0 229.2,660.2 229.6,660.1 230.0,660.5 230.4,659.3 230.8,659.5 231.2,659.9 231.6,658.6 232.0,658.2 232.4,659.7 232.8,659.5 233.2,659.4 233.6,660.7 234.0,661.8 234.4,661.2 234.8,661.0 235.2,660.7 235.6,660.3 236.0,659.8 236.4,659.6 236.8,659.3 237.2,659.5 237.6,659.5 238.0,659.4 238.4,658.8 238.8,658.8 239.2,659.0 239.6,658.9 240.0,659.0 240.4,658.7 240.8,658.9 241.2,658.0 241.6,655.8 242.0,652.4 242.4,648.8 242.7,645.4 242.8,642.6 243.1,636.9 243.2,636.8 243.6,632.8 244.0,636.3 244.1,637.4 244.4,643.7 244.6,645.1 244.8,648.5 245.2,653.3 245.6,655.7 246.0,656.9 246.4,658.4 246.8,658.0 247.2,657.9 247.6,658.7 248.0,659.4 248.4,659.1 248.8,660.3 249.2,660.8 249.6,660.7 250.0,660.6 250.4,660.6 250.8,660.5 251.2,660.3 251.6,660.6 252.0,661.5 252.4,661.7 252.8,661.7 253.2,661.4 253.6,660.7 254.0,658.7 254.4,658.7 254.8,659.2 255.2,659.2 255.6,660.4 256.0,661.5 256.4,661.4 256.8,661.3 257.2,662.9 257.6,662.7 258.0,663.7 258.4,663.4 258.8,662.6 259.2,661.4 259.6,660.8 260.0,659.3 260.4,660.3 260.8,660.4 261.2,661.1 261.6,660.6 262.0,661.4 262.4,661.2 262.8,660.4 263.2,659.0 263.6,659.4 264.0,659.2 264.4,658.4 264.8,659.6 265.2,660.2 265.6,659.9 266.0,659.5 266.4,659.9 266.8,659.2 267.2,659.5 267.6,660.1 268.0,660.8 268.4,660.5 268.8,660.4 269.2,661.0 269.6,660.9 270.0,660.4 270.4,659.9 270.8,659.7 271.2,658.2 271.6,656.8 272.0,656.6 272.4,655.4 272.8,654.4 273.2,652.6 273.6,649.5 274.0,644.8 274.1,642.7 274.4,637.6 274.6,632.3 274.8,629.3 275.1,625.7 275.2,626.6 275.6,632.6 275.6,633.7 276.0,642.5 276.1,643.2 276.4,648.0 276.8,652.9 277.2,654.4 277.6,655.8 278.0,656.8 278.4,658.0 278.8,658.5 279.2,657.6 279.6,657.8 280.0,657.3 280.4,656.8 280.8,655.8 281.2,655.8 281.6,654.4 282.0,652.5 282.4,648.4 282.8,643.0 282.9,643.1 283.2,635.3 283.3,632.6 283.6,627.4 283.8,626.6 284.0,627.3 284.3,632.7 284.4,636.1 284.8,643.6 284.8,644.1 285.2,649.6 285.6,653.3 286.0,654.2 286.4,655.5 286.8,655.2 287.2,654.8 287.6,654.7 288.0,655.8 288.4,655.5 288.8,655.2 289.2,655.5 289.6,654.6 290.0,652.0 290.4,649.5 290.8,644.9 290.9,642.8 291.2,638.4 291.4,634.3 291.6,630.3 291.9,627.2 292.0,627.6 292.4,634.0 292.4,634.5 292.8,643.7 292.9,644.8 293.2,650.0 293.6,653.2 294.0,654.3 294.4,655.3 294.8,656.8 295.2,657.9 295.6,658.9 296.0,660.2 296.4,659.4 296.8,658.2 297.2,657.3 297.6,656.5 298.0,656.4 298.4,657.4 298.8,659.1 299.2,659.3 299.6,659.6 300.0,660.1 300.4,660.4 300.8,659.6 301.2,659.9 301.6,659.8 302.0,659.8 302.4,659.7 302.8,659.9 303.2,660.5 303.6,660.1 304.0,660.4 304.4,660.3 304.8,660.6 305.2,659.7 305.6,660.5 306.0,660.5 306.4,660.2 306.8,659.9 307.2,660.9 307.6,661.0 308.0,661.0 308.4,661.2 308.8,660.6 309.2,659.7 309.6,659.7 310.0,659.7 310.4,659.4 310.8,660.1 311.2,660.0 311.6,660.0 312.0,658.9 312.4,659.8 312.8,660.5 313.2,660.3 313.6,660.5 314.0,661.2 314.4,660.8 314.8,660.7 315.2,661.1 315.6,659.9 316.0,659.2 316.4,659.3 316.8,658.6 317.2,658.9 317.6,660.6 318.0,661.2 318.4,660.6 318.8,661.6 319.2,660.9 319.6,660.3 320.0,660.1 320.4,661.3 320.8,660.8 321.2,661.8 321.6,661.4 322.0,661.1 322.4,659.7 322.8,660.1 323.2,658.3 323.6,658.5 324.0,658.4 324.4,659.3 324.8,658.7 325.2,660.4 325.6,659.6 326.0,659.8 326.4,658.7 326.8,657.5 327.2,655.0 327.6,652.7 328.0,648.7 328.4,643.7 328.4,643.5 328.8,635.7 328.8,635.7 329.2,629.0 329.3,628.7 329.6,631.1 329.8,634.0 330.0,639.1 330.2,643.8 330.4,646.7 330.8,651.6 331.2,655.1 331.6,656.6 332.0,657.7 332.4,658.7 332.8,659.2 333.2,659.7 333.6,660.1 334.0,661.3 334.4,661.3 334.8,661.7 335.2,661.6 335.6,662.5 336.0,662.2 336.4,661.6 336.8,662.3 337.2,661.5 337.6,661.0 338.0,660.5 338.4,660.6 338.8,659.2 339.2,659.6 339.6,659.9 340.0,660.7 340.4,659.5 340.8,659.6 341.2,659.6 341.6,658.5 342.0,658.1 342.4,659.4 342.8,659.0 343.2,660.0 343.6,659.4 344.0,659.8 344.4,659.9 344.8,660.9 345.2,660.9 345.6,662.4 346.0,662.2 346.4,662.1 346.8,661.4 347.2,660.1 347.6,658.4 348.0,658.5 348.4,659.0 348.8,659.4 349.2,660.2 349.6,661.6 350.0,661.0 350.4,661.0 350.8,660.9 351.2,660.4 351.6,660.2 352.0,660.9 352.4,660.6 352.8,661.2 353.2,662.0 353.6,661.6 354.0,661.9 354.4,661.3 354.8,661.6 355.2,660.3 355.6,660.0 356.0,659.0 356.4,659.3 356.8,658.7 357.2,659.8 357.6,660.6 358.0,660.9 358.4,661.9 358.8,661.8 359.2,661.2 359.6,661.2 360.0,660.1 360.4,659.6 360.8,661.6 361.2,662.3 361.6,661.7 362.0,663.2 362.4,663.1 362.8,660.5 363.2,660.6 363.6,661.2 364.0,660.9 364.4,660.8" fill="none" stroke="#f83a36" stroke-width="1.0" stroke-linejoin="round" />
<polyline points="374.6,661.6 375.0,661.8 375.4,661.6 375.8,659.3 376.2,660.1 376.6,659.7 377.0,659.7 377.4,660.1 377.8,661.3 378.2,661.7 378.6,661.5 379.0,661.5 379.4,660.9 379.8,660.2 380.2,659.1 380.6,659.2 381.0,658.1 381.4,657.9 381.8,658.5 382.2,659.3 382.6,659.4 383.0,660.0 383.4,660.6 383.8,660.5 384.2,660.5 384.6,661.4 385.0,661.5 385.4,661.9 385.8,661.6 386.2,660.9 386.6,659.7 387.0,660.2 387.4,660.2 387.8,660.2 388.2,660.6 388.6,661.7 389.0,661.3 389.4,661.1 389.8,661.0 390.2,661.4 390.6,660.1 391.0,660.8 391.4,660.7 391.8,660.3 392.2,660.9 392.6,661.9 393.0,661.5 393.4,661.6 393.8,662.9 394.2,662.0 394.6,661.4 395.0,661.2 395.4,662.2 395.8,661.8 396.2,660.4 396.6,660.1 397.0,660.3 397.4,659.8 397.8,660.2 398.2,662.0 398.6,662.1 399.0,662.0 399.4,661.4 399.8,660.8 400.2,659.8 400.6,661.1 401.0,660.9 401.4,660.3 401.8,660.5 402.2,661.3 402.6,660.5 403.0,660.8 403.4,661.6 403.8,661.4 404.2,660.5 404.6,660.7 405.0,659.7 405.4,658.7 405.8,658.7 406.2,659.8 406.6,660.2 407.0,661.3 407.4,661.8 407.8,662.4 408.2,661.6 408.6,661.7 409.0,660.9 409.4,660.3 409.8,658.9 410.2,659.7 410.6,658.0 411.0,658.2 411.4,657.4 411.8,658.5 412.2,657.8 412.6,657.6 413.0,655.4 413.4,654.6 413.8,649.9 414.2,643.6 414.2,642.5 414.6,636.1 414.7,633.4 415.0,628.5 415.2,626.3 415.4,628.1 415.7,633.4 415.8,636.4 416.1,644.2 416.2,646.3 416.6,652.5 417.0,655.5 417.4,656.3 417.8,657.9 418.2,657.8 418.6,657.2 419.0,658.5 419.4,659.0 419.8,658.4 420.2,658.8 420.6,659.1 421.0,658.5 421.4,659.2 421.8,659.2 422.2,658.8 422.6,659.4 423.0,659.6 423.4,660.2 423.8,659.6 424.2,660.2 424.6,659.4 425.0,659.5 425.4,659.1 425.8,659.9 426.2,660.3 426.6,660.5 427.0,660.4 427.4,660.3 427.8,660.0 428.2,658.3 428.6,658.1 429.0,658.0 429.4,657.5 429.8,657.0 430.2,656.8 430.6,654.5 431.0,650.7 431.4,646.4 431.4,645.6 431.8,637.6 431.8,637.7 432.2,632.0 432.3,631.4 432.6,634.0 432.8,637.5 433.0,641.7 433.2,645.4 433.4,647.1 433.8,651.2 434.2,653.8 434.6,655.0 435.0,655.9 435.4,657.2 435.8,657.4 436.2,657.3 436.6,657.7 437.0,659.1 437.4,658.8 437.8,658.7 438.2,659.0 438.6,659.7 439.0,658.7 439.4,658.3 439.8,659.3 440.2,659.5 440.6,658.2 441.0,659.2 441.4,659.4 441.8,658.5 442.2,658.6 442.6,660.2 443.0,659.5 443.4,660.2 443.8,661.5 444.2,661.4 444.6,661.4 445.0,662.1 445.4,662.4 445.8,662.3 446.2,662.1 446.6,661.8 447.0,661.3 447.4,660.4 447.8,659.4 448.2,659.4 448.6,659.3 449.0,659.6 449.4,660.1 449.8,660.1 450.2,660.4 450.6,660.0 451.0,660.5 451.4,660.0 451.8,659.6 452.2,659.4 452.6,659.3 453.0,657.5 453.4,656.9 453.8,656.6 454.2,656.1 454.6,655.4 455.0,655.3 455.4,654.7 455.8,652.4 456.2,649.0 456.6,644.6 456.6,643.6 457.0,636.1 457.0,635.9 457.4,629.9 457.5,629.0 457.8,631.6 458.0,634.1 458.2,639.4 458.4,644.2 458.6,646.6 459.0,651.5 459.4,654.5 459.8,655.1 460.2,656.3 460.6,657.5 461.0,657.6 461.4,658.5 461.8,658.0 462.2,657.8 462.6,656.5 463.0,655.8 463.4,653.3 463.8,651.3 464.2,646.8 464.4,644.8 464.6,642.2 464.9,636.3 465.0,635.5 465.4,631.6 465.8,634.2 465.9,635.4 466.2,642.4 466.4,644.4 466.6,648.1 467.0,652.7 467.4,655.6 467.8,656.8 468.2,658.3 468.6,658.9 469.0,658.3 469.4,658.7 469.8,658.7 470.2,659.1 470.6,658.6 471.0,660.3 471.4,659.7 471.8,659.0 472.2,659.0 472.6,659.4 473.0,658.7 473.4,659.3 473.8,660.1 474.2,659.1 474.6,658.7 475.0,659.6 475.4,660.7 475.8,660.6 476.2,661.8 476.6,662.3 477.0,661.4 477.4,660.3 477.8,660.5 478.2,660.3 478.6,659.8 479.0,659.5 479.4,659.7 479.8,659.2 480.2,658.9 480.6,658.8 481.0,659.1 481.4,660.0 481.8,660.0 482.2,659.8 482.6,660.7 483.0,660.5 483.4,659.8 483.8,660.7 484.2,661.2 484.6,660.7 485.0,661.8 485.4,661.7 485.8,661.3 486.2,661.2 486.6,661.8 487.0,661.3 487.4,661.3 487.8,661.7 488.2,661.2 488.6,660.7 489.0,661.6 489.4,661.5 489.8,661.4 490.2,661.3 490.6,661.0 491.0,659.4 491.4,658.9 491.8,658.8 492.2,660.2 492.6,660.6 493.0,660.8 493.4,660.9 493.8,660.3 494.2,659.0 494.6,658.3 495.0,658.0 495.4,657.7 495.8,658.4 496.2,659.4 496.6,659.9 497.0,660.4 497.4,661.8 497.8,660.8 498.2,660.6 498.6,661.4 499.0,661.5 499.4,660.5 499.8,661.0 500.2,660.0 500.6,658.4 501.0,658.2 501.4,659.3 501.8,659.5 502.2,660.6 502.6,660.9 503.0,660.6 503.4,659.6 503.8,659.4 504.2,659.4 504.6,660.3 505.0,661.2 505.4,661.0 505.8,661.6 506.2,660.7 506.6,660.4 507.0,659.3 507.4,658.8 507.8,658.7 508.2,659.6 508.6,659.6 509.0,660.7 509.4,661.0 509.8,660.4 510.2,660.0 510.6,659.6 511.0,659.5 511.4,660.6 511.8,660.8 512.2,660.6 512.6,660.6 513.0,660.1 513.4,660.3 513.8,660.9 514.2,661.3 514.6,661.6 515.0,661.5 515.4,660.9 515.8,661.0 516.2,661.2 516.6,661.2 517.0,661.9 517.4,662.0 517.8,661.4 518.2,662.1 518.6,661.9 519.0,661.6 519.4,661.2" fill="none" stroke="#f83a36" stroke-width="1.0" stroke-linejoin="round" />
<polyline points="529.0,659.8 529.4,660.5 529.8,661.1 530.2,661.7 530.6,661.6 531.0,662.3 531.4,661.9 531.8,661.7 532.2,661.6 532.6,661.5 533.0,661.2 533.4,660.9 533.8,660.4 534.2,659.1 534.6,659.4 535.0,660.2 535.4,659.8 535.8,659.8 536.2,660.6 536.6,660.8 537.0,660.2 537.4,661.1 537.8,661.4 538.2,661.4 538.6,660.7 539.0,660.4 539.4,660.1 539.8,659.4 540.2,659.3 540.6,659.7 541.0,660.6 541.4,660.0 541.8,661.7 542.2,661.3 542.6,661.4 543.0,661.5 543.4,661.6 543.8,660.9 544.2,661.5 544.6,662.5 545.0,661.6 545.4,662.4 545.8,661.3 546.2,662.1 546.6,661.2 547.0,661.9 547.4,661.2 547.8,662.0 548.2,660.5 548.6,659.1 549.0,658.4 549.4,658.4 549.8,658.3 550.2,658.2 550.6,658.7 551.0,659.4 551.4,660.0 551.8,659.3 552.2,660.9 552.6,661.1 553.0,660.2 553.4,660.3 553.8,661.4 554.2,660.7 554.6,661.3 555.0,661.7 555.4,661.2 555.8,660.5 556.2,660.4 556.6,659.1 557.0,659.7 557.4,659.5 557.8,659.5 558.2,659.4 558.6,659.8 559.0,658.2 559.4,658.4 559.8,658.7 560.2,659.4 560.6,659.7 561.0,660.1 561.4,660.6 561.8,660.0 562.2,659.8 562.6,660.4 563.0,659.3 563.4,657.8 563.8,658.2 564.2,657.0 564.6,656.0 565.0,657.2 565.4,657.8 565.8,657.7 566.2,656.7 566.6,655.8 567.0,654.2 567.4,651.6 567.8,648.1 568.1,645.4 568.2,644.5 568.6,638.9 568.8,635.0 569.0,631.7 569.4,627.8 569.5,627.6 569.8,629.5 570.2,634.3 570.2,635.3 570.6,640.8 570.9,644.7 571.0,646.3 571.4,649.3 571.8,651.5 572.2,653.3 572.6,654.7 573.0,655.1 573.4,655.8 573.8,656.7 574.2,656.8 574.6,655.8 575.0,655.4 575.4,654.3 575.8,652.9 576.2,651.2 576.6,648.4 577.0,645.0 577.1,644.4 577.4,641.4 577.8,635.1 577.8,634.9 578.2,630.0 578.5,629.6 578.6,628.8 579.0,632.8 579.2,635.2 579.4,638.3 579.8,642.0 579.9,643.6 580.2,647.1 580.6,650.0 581.0,653.5 581.4,655.9 581.8,656.4 582.2,658.1 582.6,658.0 583.0,658.0 583.4,657.7 583.8,658.1 584.2,658.0 584.6,659.6 585.0,659.8 585.4,660.0 585.8,660.6 586.2,659.6 586.6,659.6 587.0,659.1 587.4,658.5 587.8,657.6 588.2,658.8 588.6,657.8 589.0,657.1 589.4,657.8 589.8,658.2 590.2,657.6 590.6,656.5 591.0,656.7 591.4,656.2 591.8,654.9 592.2,653.1 592.6,652.5 593.0,650.4 593.4,647.9 593.8,644.6 593.9,644.4 594.2,639.6 594.5,634.5 594.6,631.5 595.0,626.9 595.2,626.6 595.4,627.3 595.8,632.0 595.9,634.0 596.2,638.0 596.5,642.7 596.6,643.0 597.0,646.9 597.4,649.4 597.8,651.1 598.2,651.5 598.6,652.7 599.0,652.6 599.4,652.9 599.8,652.9 600.2,653.9 600.6,653.0 601.0,652.2 601.4,650.6 601.8,648.9 602.2,645.8 602.5,643.3 602.6,642.8 603.0,638.4 603.2,635.4 603.4,632.4 603.8,628.0 603.9,627.5 604.2,628.3 604.6,631.9 604.6,631.8 605.0,637.7 605.2,641.9 605.4,643.5 605.8,646.3 606.2,647.2 606.6,647.2 607.0,644.4 607.4,640.8 607.5,640.8 607.8,639.2 608.2,633.0 608.2,633.8 608.6,630.5 608.9,628.5 609.0,627.9 609.4,632.1 609.6,634.0 609.8,637.2 610.2,641.5 610.2,642.6 610.6,646.0 611.0,649.4 611.4,652.1 611.8,654.0 612.2,655.5 612.6,657.3 613.0,657.0 613.4,657.3 613.8,658.1 614.2,657.8 614.6,656.8 615.0,657.6 615.4,658.2 615.8,658.0 616.2,657.9 616.6,658.1 617.0,658.1 617.4,657.5 617.8,656.7 618.2,657.3 618.6,658.6 619.0,658.4 619.4,658.8 619.8,659.8 620.2,660.1 620.6,659.2 621.0,659.8 621.4,660.4 621.8,660.5 622.2,660.7 622.6,661.4 623.0,661.4 623.4,661.4 623.8,661.5 624.2,661.7 624.6,661.4 625.0,661.5 625.4,660.7 625.8,660.4 626.2,659.1 626.6,658.1 627.0,657.9 627.4,658.4 627.8,659.0 628.2,659.4 628.6,659.6 629.0,659.6 629.4,659.1 629.8,658.8 630.2,658.9 630.6,659.4 631.0,659.5 631.4,659.4 631.8,660.2 632.2,661.0 632.6,660.8 633.0,661.0 633.4,661.5 633.8,660.6 634.2,660.1 634.6,660.7 635.0,660.8 635.4,661.0 635.8,661.3 636.2,661.0 636.6,661.2 637.0,660.6 637.4,660.2 637.8,659.3 638.2,659.9 638.6,660.0 639.0,659.9 639.4,659.8 639.8,660.3 640.2,660.0 640.6,660.1 641.0,660.3 641.4,660.9 641.8,661.1 642.2,660.7 642.6,660.2 643.0,660.2 643.4,659.1 643.8,659.0 644.2,658.7 644.6,657.9 645.0,657.8 645.4,657.5 645.8,656.7 646.2,656.8 646.6,656.3 647.0,654.1 647.4,652.4 647.8,650.2 648.2,644.6 648.4,642.2 648.6,638.9 649.0,632.2 649.0,629.9 649.4,624.5 649.7,623.1 649.8,622.9 650.2,626.6 650.4,630.4 650.6,634.0 651.0,639.5 651.0,639.8 651.4,643.4 651.8,647.2 652.2,651.0 652.6,654.0 653.0,656.4 653.4,658.2 653.8,658.2 654.2,658.4 654.6,657.9 655.0,657.6 655.4,657.6 655.8,658.8 656.2,658.5 656.6,658.7 657.0,659.0 657.4,659.0 657.8,657.4 658.2,657.4 658.6,657.5 659.0,657.9 659.4,658.6 659.8,659.6 660.2,660.4 660.6,660.5 661.0,659.7 661.4,660.1 661.8,661.0 662.2,660.9 662.6,661.1 663.0,662.0 663.4,661.6 663.8,660.0 664.2,660.0 664.6,660.0 665.0,659.3 665.4,659.2 665.8,660.2 666.2,660.9 666.6,661.1 667.0,661.3 667.4,660.6 667.8,659.9 668.2,659.2 668.6,659.5 669.0,659.2 669.4,660.3 669.8,660.9 670.2,660.9 670.6,660.3 671.0,659.9 671.4,659.8 671.8,660.0 672.2,660.7 672.6,660.4 673.0,661.4 673.4,661.4 673.8,660.7 674.2,660.0 674.6,660.2 675.0,659.6 675.4,659.7 675.8,660.1 676.2,660.6 676.6,661.1 677.0,661.6 677.4,662.4 677.8,662.1 678.2,662.4 678.6,662.0 679.0,662.1 679.4,660.8 679.8,661.3 680.2,660.7 680.6,661.3 681.0,661.1 681.4,661.2 681.8,660.2 682.2,660.3 682.6,659.0 683.0,659.2 683.4,659.7 683.8,660.5 684.2,660.3" fill="none" stroke="#f83a36" stroke-width="1.0" stroke-linejoin="round" />
<polyline points="198.0,713.2 198.4,713.4 198.8,713.3 199.2,713.4 199.6,713.8 200.0,714.0 200.4,713.9 200.8,714.1 201.2,713.8 201.6,713.7 202.0,713.3 202.4,713.2 202.8,713.3 203.2,713.3 203.6,713.3 204.0,713.9 204.4,714.0 204.8,713.7 205.2,713.6 205.6,713.8 206.0,713.5 206.4,713.2 206.8,713.4 207.2,713.5 207.6,713.3 208.0,713.1 208.4,713.1 208.8,713.3 209.2,713.5 209.6,713.8 210.0,714.3 210.4,714.7 210.8,714.6 211.2,714.5 211.6,714.1 212.0,714.1 212.4,713.9 212.8,713.8 213.2,713.7 213.6,713.8 214.0,713.3 214.4,713.5 214.8,713.3 215.2,713.2 215.6,713.1 216.0,713.2 216.4,713.1 216.8,713.3 217.2,712.9 217.6,713.0 218.0,712.8 218.4,712.9 218.8,712.7 219.2,713.4 219.6,713.5 220.0,713.5 220.4,713.1 220.8,713.1 221.2,712.5 221.6,712.2 222.0,712.9 222.4,713.0 222.8,713.2 223.2,713.6 223.6,713.8 224.0,713.6 224.4,713.9 224.8,713.9 225.2,713.8 225.6,713.7 226.0,712.9 226.4,713.1 226.8,713.2 227.2,713.5 227.6,713.2 228.0,713.2 228.4,712.6 228.8,712.3 229.2,712.1 229.6,711.8 230.0,712.4 230.4,712.7 230.8,712.8 231.2,713.0 231.6,713.2 232.0,713.5 232.4,713.8 232.8,714.0 233.2,713.7 233.6,713.7 234.0,713.3 234.4,713.3 234.8,713.2 235.2,713.0 235.6,713.2 236.0,713.4 236.4,712.9 236.5,712.6 236.8,712.6 237.2,712.8 237.6,712.3 238.0,711.8 238.4,711.7 238.5,711.8 238.8,711.6 239.2,711.6 239.6,711.7 240.0,711.5 240.4,711.7 240.5,711.3 240.8,711.5 241.2,711.5 241.6,711.5 242.0,710.8 242.4,711.0 242.5,711.0 242.8,711.8 243.2,712.1 243.6,712.5 244.0,712.7 244.4,712.6 244.5,712.0 244.8,712.1 245.2,712.1 245.6,711.9 246.0,712.4 246.4,712.4 246.8,712.5 247.2,712.6 247.6,712.8 248.0,712.7 248.4,712.5 248.8,712.4 249.2,712.9 249.6,712.9 250.0,712.8 250.4,713.0 250.8,713.5 251.2,713.1 251.6,713.5 252.0,713.3 252.4,713.3 252.8,713.1 253.2,712.9 253.6,712.5 254.0,712.6 254.4,712.7 254.8,712.7 255.2,712.9 255.6,712.5 256.0,712.6 256.4,712.6 256.8,712.3 257.2,712.6 257.6,712.7 258.0,713.0 258.4,712.9 258.8,713.6 259.2,713.6 259.6,713.9 260.0,714.0 260.4,713.9 260.8,713.5 261.2,713.4 261.6,713.2 262.0,713.1 262.4,712.9 262.8,712.7 263.2,712.4 263.6,712.5 264.0,712.1 264.4,712.4 264.8,712.3 265.2,712.4 265.6,712.7 266.0,712.3 266.4,712.3 266.8,712.7 267.2,713.4 267.6,713.1 268.0,713.9 268.4,713.7 268.8,713.6 269.2,713.3 269.6,713.1 270.0,712.7 270.4,712.7 270.8,712.5 271.2,712.4 271.6,711.8 272.0,711.1 272.4,710.5 272.8,710.1 273.2,709.1 273.6,708.7 274.0,707.8 274.4,706.2 274.6,705.0 274.8,703.5 275.2,700.8 275.2,700.7 275.6,698.9 275.9,697.8 276.0,698.3 276.4,699.4 276.6,699.9 276.8,701.1 277.2,703.0 277.6,703.9 278.0,704.2 278.4,703.6 278.8,702.1 279.2,699.1 279.6,694.8 279.8,692.4 280.0,687.8 280.3,680.6 280.4,679.2 280.8,673.2 280.9,672.7 281.2,675.3 281.5,680.9 281.6,683.9 282.0,691.6 282.1,693.0 282.4,698.1 282.8,702.7 283.2,705.4 283.6,707.7 284.0,708.8 284.4,709.7 284.8,710.0 285.2,710.2 285.6,710.3 286.0,710.2 286.4,710.3 286.7,710.1 286.8,709.8 287.2,709.2 287.6,708.7 287.7,708.1 288.0,708.1 288.2,708.9 288.4,709.1 288.7,709.2 288.8,709.6 289.2,710.4 289.6,710.1 290.0,709.4 290.4,708.7 290.8,706.8 291.2,704.8 291.6,706.5 292.0,709.2 292.4,710.4 292.8,711.2 293.2,712.1 293.6,712.3 294.0,712.7 294.4,712.7 294.8,712.9 295.2,712.7 295.6,712.8 296.0,712.4 296.4,712.7 296.8,712.2 297.2,712.2 297.6,712.3 298.0,712.2 298.4,712.4 298.8,712.5 299.2,712.7 299.6,713.1 300.0,713.5 300.4,713.0 300.8,713.1 301.2,712.9 301.6,712.7 302.0,712.4 302.4,712.9 302.8,712.9 303.2,712.7 303.6,712.4 304.0,712.7 304.4,712.6 304.8,713.1 305.2,713.4 305.6,713.2 306.0,713.0 306.4,713.8 306.8,713.1 307.2,713.2 307.6,713.7 308.0,713.7 308.4,713.0 308.8,713.2 309.2,713.5 309.6,713.4 310.0,713.4 310.4,713.2 310.8,712.8 311.2,712.4 311.6,711.9 312.0,712.0 312.4,712.3 312.8,712.9 313.2,713.3 313.6,713.8 314.0,713.9 314.4,713.8 314.8,713.7 315.2,713.0 315.6,712.7 316.0,713.1 316.4,712.7 316.8,712.7 317.2,712.8 317.6,712.8 318.0,712.5 318.4,713.0 318.8,713.0 319.2,713.3 319.6,713.5 320.0,713.2 320.4,713.4 320.8,713.3 321.2,713.5 321.6,713.6 322.0,713.4 322.4,713.1 322.8,712.9 323.2,712.4 323.6,712.3 324.0,712.4 324.4,712.8 324.8,712.2 325.2,712.4 325.6,712.5 326.0,712.5 326.4,712.4 326.8,713.2 327.2,713.2 327.6,712.5 328.0,712.8 328.4,712.1 328.8,712.0 329.2,711.7 329.6,711.6 330.0,711.3 330.4,711.1 330.8,710.6 331.2,710.5 331.3,710.5 331.6,710.2 332.0,710.3 332.4,710.3 332.8,710.0 333.2,709.9 333.3,709.8 333.6,709.5 334.0,709.0 334.4,708.5 334.8,708.4 335.2,708.1 335.3,707.8 335.6,708.0 336.0,707.8 336.4,708.1 336.8,708.4 337.2,709.2 337.3,708.9 337.6,709.5 338.0,709.2 338.4,709.4 338.8,709.2 339.2,709.5 339.3,709.8 339.6,710.1 340.0,710.7 340.4,711.8 340.8,711.9 341.2,711.9 341.6,712.5 342.0,712.2 342.4,712.0 342.8,712.2 343.2,712.1 343.6,712.2 344.0,712.7 344.4,712.5 344.8,712.8 345.2,712.7 345.6,712.5 346.0,712.5 346.4,712.3 346.4,712.5 346.7,712.4 346.8,712.6 347.1,711.9 347.2,711.7 347.5,712.2 347.6,712.5 347.9,712.5 348.0,712.6 348.4,712.9 348.8,712.9 349.2,713.3 349.6,713.3 350.0,713.3 350.4,713.2 350.8,712.8 351.2,712.0 351.6,712.3 352.0,712.6 352.4,712.8 352.8,713.0 353.2,713.0 353.6,712.8 354.0,712.7 354.4,712.6 354.8,712.7 355.2,713.3 355.6,713.2 356.0,713.5 356.4,714.0 356.8,713.6 357.2,713.5 357.6,713.6 358.0,713.5 358.4,713.2 358.8,713.5 359.2,713.7 359.6,713.5 360.0,714.0 360.4,713.8 360.8,713.7 361.2,713.6 361.6,713.7 362.0,713.4 362.4,713.5 362.8,713.8 363.2,713.6 363.6,714.0 364.0,713.8 364.4,713.9" fill="none" stroke="#3636f6" stroke-width="1.0" stroke-linejoin="round" />
<polyline points="374.6,713.4 375.0,713.5 375.4,713.6 375.8,713.3 376.2,713.9 376.6,713.7 377.0,713.9 377.4,714.2 377.8,714.4 378.2,714.0 378.6,714.3 379.0,713.6 379.4,713.0 379.8,712.9 380.2,713.2 380.6,712.6 381.0,712.6 381.4,712.2 381.8,712.1 382.2,712.2 382.6,712.3 383.0,712.3 383.4,713.1 383.8,712.9 384.2,713.0 384.6,713.5 385.0,714.3 385.4,714.1 385.8,714.2 386.2,713.5 386.6,713.3 387.0,712.8 387.4,713.0 387.8,713.0 388.2,713.0 388.6,713.1 389.0,712.5 389.4,712.5 389.8,712.5 390.2,712.9 390.6,713.0 391.0,713.0 391.4,713.0 391.8,713.3 392.2,713.5 392.6,713.1 393.0,713.6 393.4,713.8 393.8,713.8 394.2,713.8 394.6,713.9 395.0,713.8 395.4,713.7 395.8,713.6 396.2,713.3 396.6,714.1 397.0,714.2 397.4,714.1 397.8,714.1 398.2,714.4 398.6,713.4 399.0,713.3 399.4,712.9 399.8,713.1 400.2,712.7 400.6,713.0 401.0,713.1 401.4,713.5 401.8,713.0 402.2,712.9 402.6,712.8 403.0,713.0 403.4,713.3 403.8,712.9 404.2,713.1 404.6,712.9 405.0,712.6 405.4,712.4 405.8,713.0 406.2,713.1 406.6,713.6 407.0,713.7 407.4,713.5 407.8,713.2 408.2,713.0 408.6,712.9 409.0,712.5 409.4,712.8 409.8,713.0 410.2,713.2 410.6,713.2 411.0,713.7 411.4,712.9 411.8,712.7 412.2,712.7 412.6,712.5 413.0,712.1 413.4,712.5 413.8,712.4 414.2,712.1 414.5,711.6 414.6,711.5 415.0,711.2 415.4,710.8 415.8,710.8 416.0,711.4 416.2,711.3 416.6,711.2 417.0,711.3 417.4,711.4 417.5,710.9 417.8,711.2 418.2,711.8 418.6,712.4 419.0,712.0 419.4,712.5 419.8,712.3 420.2,711.8 420.6,711.7 421.0,712.1 421.4,712.4 421.8,712.2 422.2,712.7 422.6,712.6 423.0,712.5 423.4,711.9 423.8,711.8 424.2,711.8 424.6,711.6 425.0,711.5 425.4,711.1 425.8,711.0 426.2,710.5 426.6,709.8 426.9,709.3 427.0,709.1 427.4,708.2 427.8,706.9 428.1,706.0 428.2,705.8 428.6,704.8 429.0,703.8 429.4,703.6 429.8,703.1 430.2,702.3 430.6,702.3 430.6,702.4 431.0,701.7 431.4,700.8 431.7,699.9 431.8,699.3 431.9,699.1 432.2,696.6 432.4,695.0 432.6,693.1 433.0,692.0 433.4,693.6 433.6,696.2 433.8,697.9 434.2,701.4 434.3,702.3 434.6,704.8 435.0,706.6 435.4,707.7 435.8,708.4 436.2,708.7 436.6,708.0 437.0,707.4 437.4,706.8 437.8,706.2 438.2,704.6 438.6,702.0 439.0,698.2 439.2,695.9 439.4,693.9 439.8,690.8 439.9,690.5 440.2,691.7 440.6,695.0 440.6,695.6 441.0,700.1 441.2,701.7 441.4,703.6 441.8,705.7 442.2,707.6 442.6,708.3 443.0,709.8 443.4,710.7 443.8,711.4 444.2,711.8 444.6,712.1 445.0,711.9 445.4,711.9 445.8,712.0 446.2,711.6 446.6,712.0 447.0,712.2 447.4,712.0 447.8,712.1 448.2,712.5 448.6,712.5 449.0,712.2 449.4,712.4 449.8,712.5 450.2,712.4 450.6,712.7 451.0,712.9 451.4,712.8 451.8,712.6 452.2,712.3 452.6,712.1 453.0,711.6 453.4,710.8 453.7,709.4 453.8,708.8 454.1,705.9 454.2,705.6 454.6,703.6 455.0,704.6 455.1,705.0 455.4,707.6 455.5,708.1 455.8,710.0 456.2,711.6 456.6,712.3 457.0,712.8 457.4,713.6 457.8,713.8 458.2,713.6 458.6,713.8 459.0,713.7 459.4,713.5 459.8,713.2 460.2,713.3 460.6,713.0 461.0,713.2 461.4,713.5 461.8,713.2 462.2,713.5 462.6,713.5 463.0,713.3 463.4,712.8 463.8,713.2 464.2,713.4 464.6,713.6 465.0,713.3 465.4,713.9 465.8,713.7 466.2,713.4 466.6,713.3 467.0,713.8 467.4,713.8 467.8,713.6 468.2,713.8 468.6,713.8 469.0,713.3 469.4,712.9 469.8,713.2 470.2,713.2 470.6,713.4 471.0,713.2 471.4,713.2 471.8,713.7 472.2,713.7 472.6,713.6 473.0,714.2 473.4,714.2 473.8,714.1 474.2,714.0 474.6,713.9 475.0,713.3 475.4,713.1 475.8,713.4 476.2,713.3 476.6,713.3 477.0,713.8 477.4,713.9 477.8,713.7 478.2,713.6 478.6,713.6 479.0,713.5 479.4,713.7 479.8,713.1 480.2,713.3 480.6,713.0 481.0,713.3 481.4,713.0 481.8,713.4 482.2,713.4 482.6,713.9 483.0,713.4 483.4,713.4 483.8,713.6 484.2,713.8 484.6,713.3 485.0,713.5 485.4,713.8 485.8,714.0 486.2,714.0 486.6,714.3 487.0,714.5 487.4,714.5 487.8,714.3 488.2,714.0 488.6,713.7 489.0,713.7 489.4,713.8 489.8,713.6 490.2,713.4 490.6,713.7 491.0,713.6 491.4,713.7 491.8,713.6 492.2,713.9 492.6,713.9 493.0,713.4 493.4,713.1 493.8,713.0 494.2,712.7 494.6,712.3 495.0,712.6 495.4,712.8 495.8,713.1 496.2,713.3 496.6,713.9 497.0,713.6 497.4,713.6 497.8,713.3 498.2,713.3 498.6,712.8 499.0,713.2 499.4,713.1 499.8,713.4 500.2,713.3 500.6,713.9 501.0,713.6 501.4,713.7 501.8,713.6 502.2,713.6 502.6,713.1 503.0,713.1 503.4,713.4 503.8,713.3 504.2,713.1 504.6,713.2 505.0,713.3 505.4,712.7 505.8,712.8 506.2,712.9 506.6,712.9 507.0,712.5 507.4,712.5 507.8,712.6 508.2,712.5 508.6,712.4 509.0,713.2 509.4,713.5 509.8,713.4 510.2,713.4 510.6,713.9 511.0,713.7 511.4,713.6 511.8,713.5 512.2,713.6 512.6,713.5 513.0,713.5 513.4,713.4 513.8,713.5 514.2,713.8 514.6,713.6 515.0,713.9 515.4,713.7 515.8,713.9 516.2,713.6 516.6,713.3 517.0,713.1 517.4,713.3 517.8,713.2 518.2,713.2 518.6,713.3 519.0,713.2 519.4,713.2" fill="none" stroke="#3636f6" stroke-width="1.0" stroke-linejoin="round" />
<polyline points="529.0,713.3 529.4,713.1 529.8,713.0 530.2,713.5 530.6,713.4 531.0,713.3 531.4,713.6 531.8,713.6 532.2,713.8 532.6,714.2 533.0,714.2 533.4,713.5 533.8,713.6 534.2,713.4 534.6,712.4 535.0,712.5 535.4,712.7 535.8,713.3 536.2,713.3 536.6,713.6 537.0,713.9 537.4,714.1 537.8,713.6 538.2,713.2 538.6,713.1 539.0,713.0 539.4,713.1 539.8,713.4 540.2,713.4 540.6,714.1 541.0,714.2 541.4,714.2 541.8,714.3 542.2,714.4 542.6,713.9 543.0,713.7 543.4,713.5 543.8,712.9 544.2,712.9 544.6,713.0 545.0,713.1 545.4,713.1 545.8,713.7 546.2,713.6 546.6,713.3 547.0,712.9 547.4,712.9 547.8,712.6 548.2,712.6 548.6,713.1 549.0,713.0 549.4,713.2 549.8,713.8 550.2,713.6 550.6,713.2 551.0,713.4 551.4,713.4 551.8,712.6 552.2,712.6 552.6,712.9 553.0,712.7 553.4,712.8 553.8,713.2 554.2,713.2 554.6,713.9 555.0,714.0 555.4,714.0 555.8,713.8 556.2,713.9 556.6,713.4 557.0,713.9 557.4,713.4 557.8,713.4 558.2,713.5 558.6,713.2 559.0,713.0 559.4,713.3 559.8,713.5 560.2,713.6 560.6,713.4 561.0,713.5 561.4,713.2 561.8,713.2 562.2,713.2 562.6,713.5 563.0,713.8 563.4,714.1 563.8,713.9 564.2,714.3 564.6,714.0 565.0,713.6 565.4,713.7 565.8,713.6 566.2,712.7 566.6,712.7 567.0,712.9 567.4,712.8 567.8,712.8 568.2,713.5 568.6,713.6 569.0,713.3 569.4,713.3 569.8,713.5 570.2,713.4 570.6,713.5 571.0,713.7 571.4,714.0 571.8,714.0 572.2,713.9 572.6,713.7 573.0,713.5 573.4,713.2 573.8,712.9 574.2,713.4 574.6,713.8 575.0,714.3 575.4,714.2 575.8,714.0 576.2,713.4 576.6,712.7 577.0,712.2 577.4,712.3 577.8,712.8 578.2,712.7 578.6,713.0 579.0,713.0 579.4,712.9 579.8,712.7 580.2,712.7 580.6,713.1 581.0,713.4 581.4,713.5 581.8,713.5 582.2,713.6 582.6,713.4 583.0,713.6 583.4,713.7 583.8,713.4 584.2,713.0 584.6,712.8 585.0,712.4 585.4,712.1 585.8,712.7 586.2,713.0 586.6,713.4 587.0,713.3 587.4,713.6 587.8,713.5 588.2,713.0 588.6,712.5 589.0,712.0 589.4,712.0 589.8,711.8 590.2,712.1 590.6,712.5 591.0,712.4 591.4,712.6 591.8,712.3 592.2,712.6 592.6,712.6 593.0,712.9 593.4,712.4 593.8,712.9 594.2,712.8 594.6,712.6 595.0,712.6 595.4,712.7 595.8,712.3 596.2,711.7 596.6,711.5 597.0,710.8 597.4,710.1 597.8,709.0 598.2,707.7 598.6,705.4 598.8,704.0 599.0,703.0 599.4,702.0 599.8,702.4 600.0,703.3 600.2,704.2 600.6,705.6 601.0,706.1 601.4,706.9 601.8,706.6 602.2,706.8 602.6,706.5 603.0,706.3 603.4,705.1 603.8,703.7 604.2,701.3 604.6,697.9 604.8,695.4 605.0,693.1 605.4,687.8 605.5,686.0 605.8,682.8 606.2,679.8 606.3,679.6 606.6,680.5 607.0,683.7 607.0,683.9 607.4,687.3 607.8,690.5 608.2,691.4 608.6,690.7 609.0,688.7 609.4,684.9 609.8,680.8 609.8,680.6 610.2,676.8 610.5,676.3 610.6,676.6 611.0,680.4 611.2,683.9 611.4,686.0 611.8,691.5 612.0,693.9 612.2,695.9 612.6,699.5 613.0,702.2 613.4,704.6 613.8,706.2 614.2,707.8 614.6,709.2 615.0,710.3 615.4,710.8 615.8,710.9 616.2,710.9 616.6,710.9 617.0,711.0 617.4,711.2 617.8,711.6 618.2,711.5 618.6,711.7 619.0,711.8 619.4,711.8 619.8,711.8 620.2,712.0 620.6,712.0 621.0,711.8 621.4,711.3 621.8,711.5 622.2,711.7 622.6,711.4 623.0,711.9 623.4,712.2 623.8,711.9 624.2,711.7 624.6,711.8 625.0,711.7 625.4,711.6 625.8,712.3 626.2,712.5 626.6,712.4 627.0,712.3 627.4,712.3 627.8,711.6 628.2,711.2 628.6,711.1 629.0,711.0 629.4,711.1 629.8,711.6 630.2,711.5 630.6,711.2 631.0,710.9 631.4,710.6 631.8,709.4 632.2,709.5 632.6,709.7 633.0,709.8 633.4,709.7 633.8,709.7 634.0,709.3 634.2,708.8 634.6,708.4 635.0,707.9 635.4,707.9 635.7,707.6 635.8,707.9 636.2,707.7 636.6,707.6 637.0,707.9 637.4,708.7 637.5,708.7 637.8,709.2 638.2,709.6 638.6,709.5 639.0,709.7 639.2,709.5 639.4,709.3 639.8,710.1 640.2,710.7 640.6,710.5 641.0,710.7 641.4,711.2 641.8,711.4 642.2,711.6 642.6,712.0 643.0,712.2 643.4,712.1 643.8,712.4 644.2,712.6 644.6,712.9 645.0,713.2 645.4,713.2 645.8,713.0 646.2,712.7 646.6,712.3 647.0,712.5 647.4,712.6 647.8,712.7 648.2,712.9 648.6,712.9 649.0,713.0 649.4,712.8 649.8,712.4 650.2,712.5 650.6,712.9 651.0,711.8 651.4,711.9 651.8,712.1 652.2,712.0 652.6,711.8 653.0,712.7 653.4,712.7 653.8,712.7 654.2,712.8 654.6,712.4 655.0,712.2 655.4,712.3 655.8,712.3 656.2,712.0 656.6,712.3 657.0,711.8 657.4,712.0 657.8,712.3 658.2,712.4 658.6,712.4 659.0,713.0 659.4,712.7 659.8,712.2 660.2,711.9 660.6,711.6 661.0,711.2 661.4,711.1 661.8,710.6 662.2,710.3 662.6,709.9 663.0,709.5 663.4,709.8 663.8,710.1 664.0,710.1 664.2,710.3 664.6,710.7 665.0,710.5 665.4,709.9 665.8,710.0 666.2,709.5 666.6,709.0 667.0,708.5 667.4,708.4 667.8,708.1 668.2,708.1 668.6,708.2 669.0,708.3 669.4,708.2 669.8,708.4 670.0,708.8 670.2,708.7 670.6,708.8 671.0,709.3 671.4,709.2 671.8,708.6 672.2,708.5 672.6,708.8 673.0,708.9 673.4,709.0 673.8,709.7 674.2,710.3 674.6,710.5 675.0,710.3 675.4,710.5 675.8,710.6 676.0,710.4 676.2,710.6 676.6,710.8 677.0,711.1 677.4,711.2 677.8,711.2 678.2,711.0 678.6,711.0 679.0,711.1 679.4,711.1 679.8,711.5 680.2,711.6 680.6,711.9 681.0,711.7 681.4,711.5 681.8,711.4 682.2,711.6 682.6,711.6 683.0,711.7 683.4,712.4 683.8,712.5 684.2,712.4" fill="none" stroke="#3636f6" stroke-width="1.0" stroke-linejoin="round" />
<text x="248.9" y="456.6" font-family='"Liberation Serif","DejaVu Serif",serif' font-size="8.8" font-weight="bold" text-anchor="middle" fill="#0a0a0a"  stroke="#0a0a0a" stroke-width="0.15">B</text>
<text x="328.2" y="456.6" font-family='"Liberation Serif","DejaVu Serif",serif' font-size="8.8" font-weight="bold" text-anchor="middle" fill="#0a0a0a"  stroke="#0a0a0a" stroke-width="0.15">A</text>
<text x="505.3" y="456.6" font-family='"Liberation Serif","DejaVu Serif",serif' font-size="8.8" font-weight="bold" text-anchor="middle" fill="#0a0a0a"  stroke="#0a0a0a" stroke-width="0.15">A</text>
<text x="555.5" y="453.9" font-family='"Liberation Serif","DejaVu Serif",serif' font-size="8.8" font-weight="bold" text-anchor="middle" fill="#0a0a0a"  stroke="#0a0a0a" stroke-width="0.15">A</text>
<text x="566.0" y="453.9" font-family='"Liberation Serif","DejaVu Serif",serif' font-size="8.8" font-weight="bold" text-anchor="middle" fill="#0a0a0a"  stroke="#0a0a0a" stroke-width="0.15">B</text>
<text x="244.7" y="512.6" font-family='"Liberation Serif","DejaVu Serif",serif' font-size="8.8" font-weight="bold" text-anchor="middle" fill="#0a0a0a"  stroke="#0a0a0a" stroke-width="0.15">C</text>
<text x="285.1" y="512.6" font-family='"Liberation Serif","DejaVu Serif",serif' font-size="8.8" font-weight="bold" text-anchor="middle" fill="#0a0a0a"  stroke="#0a0a0a" stroke-width="0.15">B</text>
<text x="328.7" y="512.6" font-family='"Liberation Serif","DejaVu Serif",serif' font-size="8.8" font-weight="bold" text-anchor="middle" fill="#0a0a0a"  stroke="#0a0a0a" stroke-width="0.15">A</text>
<text x="447.0" y="515.0" font-family='"Liberation Serif","DejaVu Serif",serif' font-size="8.8" font-weight="bold" text-anchor="middle" fill="#0a0a0a"  stroke="#0a0a0a" stroke-width="0.15">A</text>
<text x="467.2" y="515.0" font-family='"Liberation Serif","DejaVu Serif",serif' font-size="8.8" font-weight="bold" text-anchor="middle" fill="#0a0a0a"  stroke="#0a0a0a" stroke-width="0.15">B</text>
<text x="567.7" y="512.4" font-family='"Liberation Serif","DejaVu Serif",serif' font-size="8.8" font-weight="bold" text-anchor="middle" fill="#0a0a0a"  stroke="#0a0a0a" stroke-width="0.15">C</text>
<text x="581.8" y="512.4" font-family='"Liberation Serif","DejaVu Serif",serif' font-size="8.8" font-weight="bold" text-anchor="middle" fill="#0a0a0a"  stroke="#0a0a0a" stroke-width="0.15">B</text>
<text x="598.1" y="512.4" font-family='"Liberation Serif","DejaVu Serif",serif' font-size="8.8" font-weight="bold" text-anchor="middle" fill="#0a0a0a"  stroke="#0a0a0a" stroke-width="0.15">A</text>
<text x="239.9" y="569.0" font-family='"Liberation Serif","DejaVu Serif",serif' font-size="8.8" font-weight="bold" text-anchor="middle" fill="#0a0a0a"  stroke="#0a0a0a" stroke-width="0.15">D</text>
<text x="267.5" y="569.0" font-family='"Liberation Serif","DejaVu Serif",serif' font-size="8.8" font-weight="bold" text-anchor="middle" fill="#0a0a0a"  stroke="#0a0a0a" stroke-width="0.15">C</text>
<text x="287.7" y="569.0" font-family='"Liberation Serif","DejaVu Serif",serif' font-size="8.8" font-weight="bold" text-anchor="middle" fill="#0a0a0a"  stroke="#0a0a0a" stroke-width="0.15">B</text>
<text x="328.7" y="569.0" font-family='"Liberation Serif","DejaVu Serif",serif' font-size="8.8" font-weight="bold" text-anchor="middle" fill="#0a0a0a"  stroke="#0a0a0a" stroke-width="0.15">A</text>
<text x="407.3" y="569.0" font-family='"Liberation Serif","DejaVu Serif",serif' font-size="8.8" font-weight="bold" text-anchor="middle" fill="#0a0a0a"  stroke="#0a0a0a" stroke-width="0.15">B</text>
<text x="459.8" y="569.0" font-family='"Liberation Serif","DejaVu Serif",serif' font-size="8.8" font-weight="bold" text-anchor="middle" fill="#0a0a0a"  stroke="#0a0a0a" stroke-width="0.15">A</text>
<text x="468.8" y="569.0" font-family='"Liberation Serif","DejaVu Serif",serif' font-size="8.8" font-weight="bold" text-anchor="middle" fill="#0a0a0a"  stroke="#0a0a0a" stroke-width="0.15">C</text>
<text x="568.0" y="568.2" font-family='"Liberation Serif","DejaVu Serif",serif' font-size="8.8" font-weight="bold" text-anchor="middle" fill="#0a0a0a"  stroke="#0a0a0a" stroke-width="0.15">A</text>
<text x="578.0" y="568.2" font-family='"Liberation Serif","DejaVu Serif",serif' font-size="8.8" font-weight="bold" text-anchor="middle" fill="#0a0a0a"  stroke="#0a0a0a" stroke-width="0.15">D</text>
<text x="595.1" y="568.2" font-family='"Liberation Serif","DejaVu Serif",serif' font-size="8.8" font-weight="bold" text-anchor="middle" fill="#0a0a0a"  stroke="#0a0a0a" stroke-width="0.15">C</text>
<text x="611.9" y="568.2" font-family='"Liberation Serif","DejaVu Serif",serif' font-size="8.8" font-weight="bold" text-anchor="middle" fill="#0a0a0a"  stroke="#0a0a0a" stroke-width="0.15">B</text>
<text x="243.1" y="621.8" font-family='"Liberation Serif","DejaVu Serif",serif' font-size="8.8" font-weight="bold" text-anchor="middle" fill="#0a0a0a"  stroke="#0a0a0a" stroke-width="0.15">E</text>
<text x="273.6" y="621.8" font-family='"Liberation Serif","DejaVu Serif",serif' font-size="8.8" font-weight="bold" text-anchor="middle" fill="#0a0a0a"  stroke="#0a0a0a" stroke-width="0.15">D</text>
<text x="283.3" y="621.8" font-family='"Liberation Serif","DejaVu Serif",serif' font-size="8.8" font-weight="bold" text-anchor="middle" fill="#0a0a0a"  stroke="#0a0a0a" stroke-width="0.15">C</text>
<text x="292.5" y="621.8" font-family='"Liberation Serif","DejaVu Serif",serif' font-size="8.8" font-weight="bold" text-anchor="middle" fill="#0a0a0a"  stroke="#0a0a0a" stroke-width="0.15">B</text>
<text x="329.3" y="621.8" font-family='"Liberation Serif","DejaVu Serif",serif' font-size="8.8" font-weight="bold" text-anchor="middle" fill="#0a0a0a"  stroke="#0a0a0a" stroke-width="0.15">A</text>
<text x="415.7" y="621.8" font-family='"Liberation Serif","DejaVu Serif",serif' font-size="8.8" font-weight="bold" text-anchor="middle" fill="#0a0a0a"  stroke="#0a0a0a" stroke-width="0.15">C</text>
<text x="432.3" y="621.8" font-family='"Liberation Serif","DejaVu Serif",serif' font-size="8.8" font-weight="bold" text-anchor="middle" fill="#0a0a0a"  stroke="#0a0a0a" stroke-width="0.15">B</text>
<text x="457.2" y="621.8" font-family='"Liberation Serif","DejaVu Serif",serif' font-size="8.8" font-weight="bold" text-anchor="middle" fill="#0a0a0a"  stroke="#0a0a0a" stroke-width="0.15">A</text>
<text x="467.7" y="621.8" font-family='"Liberation Serif","DejaVu Serif",serif' font-size="8.8" font-weight="bold" text-anchor="middle" fill="#0a0a0a"  stroke="#0a0a0a" stroke-width="0.15">D</text>
<text x="568.5" y="621.6" font-family='"Liberation Serif","DejaVu Serif",serif' font-size="8.8" font-weight="bold" text-anchor="middle" fill="#0a0a0a"  stroke="#0a0a0a" stroke-width="0.15">A</text>
<text x="578.5" y="621.6" font-family='"Liberation Serif","DejaVu Serif",serif' font-size="8.8" font-weight="bold" text-anchor="middle" fill="#0a0a0a"  stroke="#0a0a0a" stroke-width="0.15">E</text>
<text x="595.2" y="621.6" font-family='"Liberation Serif","DejaVu Serif",serif' font-size="8.8" font-weight="bold" text-anchor="middle" fill="#0a0a0a"  stroke="#0a0a0a" stroke-width="0.15">D</text>
<text x="604.4" y="621.6" font-family='"Liberation Serif","DejaVu Serif",serif' font-size="8.8" font-weight="bold" text-anchor="middle" fill="#0a0a0a"  stroke="#0a0a0a" stroke-width="0.15">C</text>
<text x="613.2" y="621.6" font-family='"Liberation Serif","DejaVu Serif",serif' font-size="8.8" font-weight="bold" text-anchor="middle" fill="#0a0a0a"  stroke="#0a0a0a" stroke-width="0.15">B</text>
<g stroke="#3f74b8" stroke-width="1.2" stroke-dasharray="2.4 1.1">
<line x1="281.2" y1="661.6" x2="281.2" y2="668.2" stroke-dasharray="3.4 0.8"/>
<line x1="432.5" y1="662" x2="432.5" y2="689.4"/>
<line x1="606.0" y1="654.5" x2="606.0" y2="676.6"/>
<line x1="609.7" y1="654.5" x2="609.7" y2="676.6"/>
</g>
<circle cx="311.4" cy="670.9" r="0.6" fill="#f2a3ad"/><circle cx="342.9" cy="670.9" r="0.6" fill="#f2a3ad"/>
<g stroke="#333" stroke-width="1">
<line x1="198.0" y1="729.5" x2="364.6" y2="729.5"/>
<line x1="210.6" y1="729.5" x2="210.6" y2="732.9" stroke-width="1"/>
<line x1="282.4" y1="729.5" x2="282.4" y2="732.9" stroke-width="1"/>
<line x1="354.6" y1="729.5" x2="354.6" y2="732.9" stroke-width="1"/>
<line x1="228.6" y1="729.5" x2="228.6" y2="731.6" stroke-width="0.9"/>
<line x1="246.6" y1="729.5" x2="246.6" y2="731.6" stroke-width="0.9"/>
<line x1="264.5" y1="729.5" x2="264.5" y2="731.6" stroke-width="0.9"/>
<line x1="300.5" y1="729.5" x2="300.5" y2="731.6" stroke-width="0.9"/>
<line x1="318.5" y1="729.5" x2="318.5" y2="731.6" stroke-width="0.9"/>
<line x1="336.5" y1="729.5" x2="336.5" y2="731.6" stroke-width="0.9"/>
<line x1="374.8" y1="729.5" x2="519.5" y2="729.5"/>
<line x1="381.6" y1="729.5" x2="381.6" y2="732.9" stroke-width="1"/>
<line x1="446.2" y1="729.5" x2="446.2" y2="732.9" stroke-width="1"/>
<line x1="511.4" y1="729.5" x2="511.4" y2="732.9" stroke-width="1"/>
<line x1="397.8" y1="729.5" x2="397.8" y2="731.6" stroke-width="0.9"/>
<line x1="414.0" y1="729.5" x2="414.0" y2="731.6" stroke-width="0.9"/>
<line x1="430.3" y1="729.5" x2="430.3" y2="731.6" stroke-width="0.9"/>
<line x1="462.7" y1="729.5" x2="462.7" y2="731.6" stroke-width="0.9"/>
<line x1="478.9" y1="729.5" x2="478.9" y2="731.6" stroke-width="0.9"/>
<line x1="495.1" y1="729.5" x2="495.1" y2="731.6" stroke-width="0.9"/>
<line x1="529.0" y1="729.5" x2="684.0" y2="729.5"/>
<line x1="543.6" y1="729.5" x2="543.6" y2="732.9" stroke-width="1"/>
<line x1="647.8" y1="729.5" x2="647.8" y2="732.9" stroke-width="1"/>
<line x1="569.6" y1="729.5" x2="569.6" y2="731.6" stroke-width="0.9"/>
<line x1="595.7" y1="729.5" x2="595.7" y2="731.6" stroke-width="0.9"/>
<line x1="621.8" y1="729.5" x2="621.8" y2="731.6" stroke-width="0.9"/>
<line x1="673.9" y1="729.5" x2="673.9" y2="731.6" stroke-width="0.9"/>
</g>
<text x="210.4" y="745.9" font-family='"Liberation Sans","DejaVu Sans",sans-serif' font-size="7.8" font-weight="bold" text-anchor="middle" fill="#000"  >104</text>
<text x="282.3" y="745.9" font-family='"Liberation Sans","DejaVu Sans",sans-serif' font-size="7.8" font-weight="bold" text-anchor="middle" fill="#000"  >102</text>
<text x="354.6" y="745.9" font-family='"Liberation Sans","DejaVu Sans",sans-serif' font-size="7.8" font-weight="bold" text-anchor="middle" fill="#000"  >100</text>
<text x="381.6" y="745.9" font-family='"Liberation Sans","DejaVu Sans",sans-serif' font-size="7.8" font-weight="bold" text-anchor="middle" fill="#000"  >84</text>
<text x="446.0" y="745.9" font-family='"Liberation Sans","DejaVu Sans",sans-serif' font-size="7.8" font-weight="bold" text-anchor="middle" fill="#000"  >82</text>
<text x="511.2" y="745.9" font-family='"Liberation Sans","DejaVu Sans",sans-serif' font-size="7.8" font-weight="bold" text-anchor="middle" fill="#000"  >80</text>
<text x="543.6" y="745.9" font-family='"Liberation Sans","DejaVu Sans",sans-serif' font-size="7.8" font-weight="bold" text-anchor="middle" fill="#000"  >70</text>
<text x="647.8" y="745.9" font-family='"Liberation Sans","DejaVu Sans",sans-serif' font-size="7.8" font-weight="bold" text-anchor="middle" fill="#000"  >68</text>
</g>
</svg>
</body></html>
